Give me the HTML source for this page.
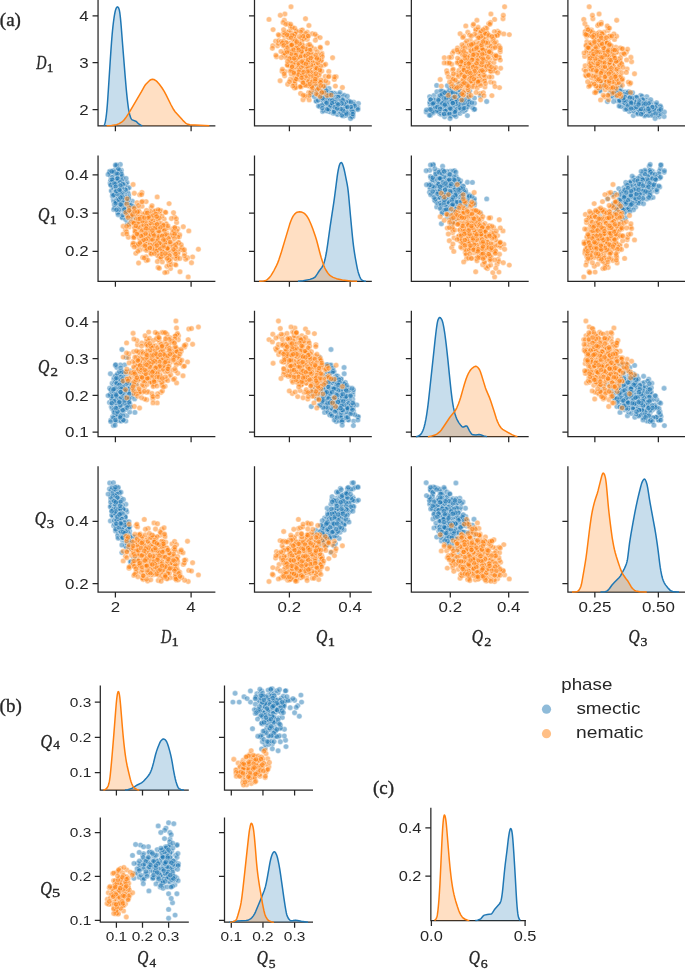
<!DOCTYPE html>
<html><head><meta charset="utf-8"><title>pairplot</title>
<style>html,body{margin:0;padding:0;background:#fff;width:685px;height:969px;overflow:hidden}svg{display:block;will-change:transform}</style>
</head><body>
<svg width="685" height="969" viewBox="0 0 685 969">
<style>
text{font-family:"Liberation Sans",sans-serif;fill:#262626}
.sp{fill:none;stroke:#262626;stroke-width:1.25;stroke-linecap:square}
.tk{fill:none;stroke:#262626;stroke-width:1.25}
.m{font-family:"Liberation Serif",serif;stroke:#262626;stroke-width:.35}
.i{font-style:italic}
.fb{fill:#1f77b4;fill-opacity:.25;stroke:none}
.fo{fill:#ff7f0e;fill-opacity:.25;stroke:none}
.lb{fill:none;stroke:#1f77b4;stroke-width:1.5;stroke-linejoin:round}
.lo{fill:none;stroke:#ff7f0e;stroke-width:1.5;stroke-linejoin:round}
.mb{fill:none;stroke:none;marker:url(#kb)}
.mo{fill:none;stroke:none;marker:url(#ko)}
</style>
<defs><marker id="kb" markerUnits="userSpaceOnUse" markerWidth="10" markerHeight="10" refX="5" refY="5" overflow="visible"><circle cx="5" cy="5" r="2.72" fill="#1f77b4" fill-opacity="0.5" stroke="#fff" stroke-opacity="0.5" stroke-width="0.72"/></marker>
<marker id="ko" markerUnits="userSpaceOnUse" markerWidth="10" markerHeight="10" refX="5" refY="5" overflow="visible"><circle cx="5" cy="5" r="2.72" fill="#ff7f0e" fill-opacity="0.5" stroke="#fff" stroke-opacity="0.5" stroke-width="0.72"/></marker></defs>
<rect width="685" height="969" fill="#fff"/>
<path d="M337.2 104.3 315 83.9 332.5 100.2 342.5 107.8 347.6 100.4 329 88.5 343.7 99.7 345.2 106.7 333.5 100.5 336.9 108.1 344.6 108 347.5 110.8 326.3 103.2 333.8 107.3 324.1 100.1 342.6 106.4 334 106 337.2 95.4 321.3 97.7 330.8 100.4 328.3 94.5 342.3 101.3 335.6 109.7 329.2 106.8 339.1 94.2 338.1 106.6 328.4 97.1 337.2 107.3 325.6 90 330.6 100.5 345.9 105.5 341.4 103.3 331.8 100.4 340.4 107.3 345.7 107.3 343 107.2 336.3 101.2 343.2 108.1 330.8 95.1 324.5 93.7 328.5 99.1 347.1 106.3 332.4 100.4 343.2 103.7 339.2 108.4 340.6 106.7 325.1 101.5 347.1 108.2 325.4 98.8 329.7 109.5 318.8 94.5 344.2 115.6 347.5 111.4 342.9 96.7 344 104.6 340.1 98.2 336 100.2 338.1 98.7 326.9 101.3 336.8 103.5 335.8 106 335.1 106.3 352.9 115.3 342.5 111.8 333.7 108.6 332 102.3 341.4 102.6 333.3 110.7 344.6 101.9 339.5 100 336.1 112.5 344.1 105.3 326.1 103.7 339.6 105.4 337.3 111.3 326.7 104.6 338.1 101.1 331.7 97.8 336.6 100 323.5 98.1 338.4 103.9 323.3 100.9 341.8 101.6 336.8 113.4 329.4 107 336.3 100.2 352.7 111.6 336.5 104.7 340.4 107.7 330.7 111.9 335.3 93.5 342 108.3 330.9 105.5 348.5 108 348.1 106.9 337.5 114.6 334.3 100.6 324.6 85.4 346 110.2 337.1 107.8 341.4 101.5 338.9 104.1 351.8 113.5 344 103 331.5 101 326.5 93.9 346.6 103.1 332.7 101.6 335.3 100.8 343.3 111.5 318.1 92.8 345.6 107.3 350.1 108.9 353 109.2 333.7 96.6 345.8 108.9 327.8 91.8 341.4 109.8 324.8 95.9 339.8 105.9 346.7 104.6 334.1 96.8 325.9 98.1 322.4 94.3 345 109.9 332 93.5 335.3 103 339.6 99.2 341.4 103.3 343.3 99.9 342 109.4 342.9 101.8 347.3 108.1 345.4 106.6 339.8 110.2 327.9 97.5 341.6 105 335.1 102.3 353.5 106 330.3 97.6 319.9 106.6 346.2 104 325.1 98.3 328.3 107.4 337.8 102.6 319.9 95.9 336 94.7 323.7 92 341.9 103.6 327.6 106.9 326.4 101.2 331.8 106.5 325.2 100.8 329.3 102.6 332.1 103.1 341.7 103.5 341.6 114.6 338 107.5 336.7 103.5 344 109.1 341.2 111.2 352.8 116.8 356.8 108.9 342.5 106.6 336.3 106.6 339.5 103.9 325 93.7 329.3 95.4 336.6 111.8 319.4 91.2 332.1 109.9 342.9 108.9 332.9 105.2 327.4 93.6 333.5 93.2 316.8 101.2 343.6 98.6 343.8 99.5 335.8 101.4 341 98.6 312.6 87.4 335.7 101.9 329.9 102.7 332.1 101.3 333.1 107.9 344.1 108.3 341.6 113 336.8 105.1 353.7 102.2 328.7 104.8 342.2 96.6 336.7 97.5 336.2 105.9 335.8 111 346.6 109.7 337.8 107.4 353.4 108.2 346.2 108.8 339.1 106.9 346.6 109.5 344.9 100.8 338.1 101.4 322.7 92.4 341.7 104.2 329.4 98.8 348.7 115.2 326.1 108.2 336.1 108.4 331.5 96.2 343.1 115.9 320.7 105.6 314.9 91 342 112 333.1 96.8 331 103.3 340 104.3 322.6 111.6 327.8 104.9 325.6 100.9 340.6 107 331 101.5 330.2 103.6 345.3 111.1 347.1 112.5 329.3 98.9 318.9 95.1 336.6 109.8 345.1 106.9 343.7 108.6 331.2 110.1 333.4 110.9 330.7 105.9 316 84 333.2 95.1 342.3 102.2 340.1 111.4 335.4 108.2 337.9 101.6 347.3 113.3 335.1 108.2 325.6 104.7 335.6 107.5 353.1 104.6 347.1 107.2 328 94 344.6 104.9 328.5 106.4 341 105.5 341.4 110.9 339.1 107.9 338.2 105.6 349.5 108.1 346.5 109 344.1 107.6 344.6 104 329.2 107.5 337.8 106.9 334.7 100.2 346.1 110.5 327.8 97.8 319.1 89 318.5 106 342.4 103.5 338.5 102.2 329.5 96.3 335.5 108 336.6 103.1 338.6 104.7 320.2 89.7 358.4 103.5 335.7 107.5 324.3 101.6 323.4 110.6 333.7 100.6 335.3 98.5 333.6 102.8 337.9 99.9 333.6 98.6 340 96.6 329.9 95.9 349.2 103.1 331.8 105.3 324.6 103.6 337.8 109.4 332.1 100.5 317.1 84.8 346.6 111 335 110.4 352.4 102.9 327.1 101.5 339.2 111.2 327.7 104.3 329 111.4 325.6 93.3 340.6 109.7 325.9 102 357.9 107.8 317.8 93.3 317.3 90.4 327 99.1 333.6 99.1 327.2 104.4 326.7 102 325.7 105.3 334.9 105.2 333.3 113.2 353.8 104.4 338.8 110.2 339.3 112.4 344 109.6 346.3 104.9 331.4 105.8 326.6 98.6 354.9 105.9 344.2 114 334.5 112.7 316 101.1 336.6 107.7 316.8 85.7 343.1 108.1 350.5 106.3 344.1 95.1 325.3 101.4 328.3 100.7 349.1 110.3 345.5 106.4 339 108.7 351.1 109 347.8 102.7 326.5 108.6 342.2 102.2 326.4 110.7 349 101.2 332.1 93.8 336.2 101.3 339.7 107.5 335.9 99.1 311.3 94.8 321.1 93.4 326.9 98.4 350.7 101.9 333.5 97.7 339.1 101.2 330.2 108.8 346.6 108.1 336.6 110.2 328.5 100.1 342.8 101.7 328.3 100.7 331.4 101.9 343.1 100 334.6 105.3 314.5 96.7 328.1 107.1 330.4 107.3 345.9 106 336.2 102.7 330.8 99.6 334.7 103.3 325.8 99.8 340.7 109.4 343.7 107.7 320.9 82.7 352.1 116.5 332.6 109.1 322.2 100 323.2 94.1 346.9 107.3 338.4 105.9 331.2 93.1 329 108 341 104.9 325.1 88.5 331.8 97.5 336.6 103.2 348.3 113.7 337.4 106 340 92.5 340.6 99.8 332.6 101.9 345.8 115.3 324.9 94.9 336.1 108.8 326.2 92.8 338.4 102.3 322.5 104.8 330.3 101.5 347.4 106.7 340.5 106 340.9 103.4 329.1 94.9 330.8 100.1 329.9 106.9 347.3 96.2 338.9 97.7 341.3 99.5 341.3 97.5 346.3 112.1 336 100.1 337.9 104.2 329.7 107.3 327.6 102.1 341.6 104.3 323.9 98.2 326.1 90.8 342.8 99.4 353.4 112 337.7 107.1 342 101 344.4 114 327.7 108.6 345.8 101.9 336.3 109.4 311.2 92.5 323.2 95.4 330.5 101.5 319.2 86.3 337.4 106.6 332.2 106.7 341.8 103.2 352.3 111.5 336.7 97.2 334.4 97.7 334.5 101.1 326.7 102.7 328.4 101.5 320 94.4 328.8 109.4 341.3 110.7 338.9 103.4 336.6 96.9 341.5 104.5 345.3 106.9 334.5 101.3 329 109.3 323.4 99 318.2 100.3 337.2 109.2 340.8 112.3 335.4 108 350.9 107.1 330.9 106.9 341 109.2 342.3 99.6 334.3 99.7 334.3 110.8 333.1 104.5 337 107.9 340.7 101.9 336.1 105.8 333.9 112 331.9 101.1 341.9 115.3 342.2 109.9 328.6 104.4 347.2 107 344.2 103.7 333.5 102.3 333.1 102.8 322.5 92.5 339.1 103.4 331.4 105.8 332.1 103.1 338.4 97.3 338.1 96.9 346.3 113.6 342.8 109.1 350.5 118.5 322.3 108.1 336.5 99.1 339.5 101.3 334.5 102.1 357.9 109.5 335.5 100.1 322.1 92.6 320.7 94.6 336 101.4 327.6 98.3 326 101.8 342.7 100.4 338.4 104.4 320.7 97.7 335.1 101.8 333 103.9 341.5 103.4 329.9 100.7 343.2 110.8 334 101.9 336.9 103.7 327.4 109.2 330.1 105.4 332.2 100.3 332.1 103.2 352.8 114.1 334.8 107.1 340.6 108.9 326.6 103 337.2 108.5 322.5 98.2 338.1 104.5" class="mb"/>
<path d="M296.6 72.5 301 65.6 304.1 70.3 308.4 80.9 295.6 62.6 311.3 87.4 306.7 36.3 308.9 25.5 311.3 64.7 307.2 32.3 288.4 43.2 335.4 86.1 308.7 82.4 302.3 60.2 307.2 39.4 308.3 69.6 301.6 75.1 309.1 68.6 306.2 63.9 275.6 41.2 312.7 64.3 321.6 59.8 293.9 60 316.7 36.2 306 76.3 300.4 80.1 303 72.9 296.6 31.3 293.6 62.2 314.7 73.6 294.5 77.4 321.9 53.3 315.9 82.1 292.8 48.4 293.1 58.2 298.2 52.4 276.5 56.7 291.9 57.7 318.4 88 315.5 63.4 283.6 46 292.6 68.2 324 65.1 286.6 53.9 328.8 71.4 301.3 61.5 301.5 49.3 308.4 85.3 308.2 51.3 301.9 62.7 288.5 45.9 301 53.3 300.9 30.4 283.2 33.4 292.7 52.7 317.3 63.9 300.2 71.6 287.1 32.3 302.7 85.1 305.8 52.5 318.4 69.1 320.7 60.8 285 71.5 300.3 64.8 303 34.4 301.1 41.7 314.4 57 295.2 70.7 287.9 64.2 304.2 58.2 309.5 80.5 336.1 76.8 292.9 40.7 313.5 67.3 290.3 51.2 302.4 29.9 288 65.7 314.9 49 269 19.4 302.2 61.4 279.1 35.6 311.2 69.9 293.4 42 315.2 70.5 311.1 61.8 308.7 92.5 289.2 59 292.1 58 300.4 58.1 319.8 61 304.3 56.2 294.1 43.9 307.1 53.2 304.5 64.5 304.8 67.3 300.8 59.1 298.5 68.9 303.9 46 292.7 44.3 315.4 40.2 293.9 79.4 307.6 73.2 312.6 59.1 287.7 84.3 292.7 52.3 307.6 70.9 288.6 56.3 285.1 36.4 277.5 45.8 285.7 42.1 321.6 54.5 278.4 43.4 304.7 52.3 296.9 49.4 309.3 58.7 293.5 72.6 287.2 54.2 287.7 23.8 305.5 68.7 314.2 63.6 309.8 56.4 311.2 73.7 308.3 36 309 76 302.1 52 298.2 74.2 310.2 74.5 301.9 43.6 298.2 46.3 286.1 45.5 323 81 311.6 67.9 298.6 57.3 312.9 57 298.1 60.8 289.6 37.9 308.7 52.4 309.4 68.7 306.7 75.6 297.6 52.7 305.3 66.3 307.5 61.7 297.7 78.8 319.3 74.8 278.7 40.7 291.4 61.3 322.9 86.1 290 56.7 318.5 63 293.7 40.2 309.4 68.3 318.7 75.1 294.3 74.8 301.6 62.7 294.6 83.4 300.6 93.4 291.6 56.7 310.9 62.2 297.4 59.5 313.6 74.2 317.6 63.9 300 86.8 311.4 87 301.8 59.7 287 32.8 318.9 70.8 319.1 55.1 313 84.6 289.9 70.9 273.1 29.6 294.8 58.2 288.8 31.6 291.2 70.6 296.6 38.9 310.5 47.3 303.9 72 303.3 70.5 309 66.7 317 80.7 317.7 94.6 291.2 74 284.9 14 309.2 62.1 332.6 57.7 296 60.5 304.4 79.7 291.9 46.1 284.3 20.3 292.3 64.2 327.9 82.7 296.4 61.1 312.3 33.7 320.7 90.6 296.8 69.6 301.2 77.1 295.3 86.1 298.4 73.8 305.3 76.9 303.5 79.8 319.2 68.6 302.7 64.9 272.8 45.7 280.1 80.8 292.9 82.9 314.7 58.7 305.3 83.4 301 51.7 305 69.6 320.1 96.5 306.3 96.9 311.9 81.1 293 69.8 289.4 51.6 294.9 39.6 315.8 62.9 317.1 81 308.3 79.7 310.5 92.6 294.8 84 301 62 281.1 41.6 289.7 65.8 294.3 35.3 307.8 73.3 286 51.2 283.7 35.1 291.1 61.5 308.1 85.7 301.5 70.4 301.5 59.5 308.3 68.7 316.2 65 312.2 61.1 281.8 43.9 301.7 40.2 304.4 84.6 311.7 67.1 307 48.9 294.1 64.2 298.9 73.3 327 95.4 316.4 69.2 314.1 76 313.1 89.6 290.8 54.1 297.7 62.8 319.6 68.3 297.4 58.1 310.9 72.1 302.2 53.8 310.4 61.6 299.8 43.5 294.6 63.8 307 77.2 295.2 79.3 300.2 69.6 317 89.8 295.8 52.2 297.4 53.9 291.5 55.6 299.2 73.4 301.6 38 290.5 57.9 312.4 56.2 304.1 66.3 293.8 52.1 310.4 72.1 293.8 51.8 284.6 55.1 284.6 75.7 290.9 31.7 301.1 59.9 295.3 67 320.4 82.6 294 49.7 291 63.1 306.3 77.7 306.5 74.4 285.9 57.4 309.2 99.9 298.5 66.1 300.7 32 306.3 59.6 301.1 86.9 282.1 71.2 297.1 77 319.5 83.2 311.2 81.7 297 45.3 294.5 88.1 295.9 87.6 298.9 69.4 311.3 46.7 304.6 73 301.7 48.8 301.8 72.7 309.7 77 293.3 63.6 306.8 48 283.7 54.2 289.8 43.7 284.4 33.1 283.5 41 285.5 33.6 308 72.9 297.8 50.6 301.1 46.6 282.4 69.2 301.9 61.2 294.8 81 305.5 62.5 304.7 74.6 286 50 301.6 60.4 272.4 48.3 323.9 92.5 296.3 79 315.6 76.5 291.3 45 299.3 61.7 308.5 81.4 321.3 60.6 314 62.9 322.3 56.6 325.2 76.5 317.8 83.9 319.7 72.5 318.9 57.7 303.4 79.4 320.9 65.9 296.8 72.7 298.5 67.4 302.7 75.2 290.9 28 315.1 57.2 295.4 33.9 306 76 301.7 58.1 306.7 52.2 302.8 64.4 309.9 68.1 300.4 49.2 319.5 81.9 313.9 65.8 305.5 18.7 307.4 72.5 307 52 303 99.8 307.1 66.5 309.2 95.6 302.4 45.5 296.3 31.3 302.1 51 311.6 61.4 281.3 57.5 294.9 33.9 294.2 50.1 312.2 81.3 284.1 73.8 317.5 66.6 293.9 53.4 288.4 37.3 290.3 36.4 302.7 82.1 291 6.8 304.8 95.7 314.7 83.9 303.4 36.1 304.5 63 289.3 51.3 320.5 48 300.8 62.6 283.1 22.5 293.9 36.1 290.6 71.1 310.1 74.4 306.6 62.3 311 52 295.2 44.2 290.3 25.9 296.6 42.8 303.1 60.6 302.3 54.5 320.2 47.2 334.3 79.4 294.8 58.2 284.5 53.1 302.7 69.7 289.3 35.4 316.8 79.5 280.3 15.3 325.6 64.2 299.4 70 312.3 87.9 310.9 64.9 302.9 61.5 313.3 78.8 311.7 53.5 303.8 39.1 292.2 27.3 310.5 53.5 297.1 57.5 290.4 79.3 307.8 63.7 308.9 59 292.1 66.3 307.5 50.8 320.9 80 312.3 81.9 307.5 61.5 315.1 34.2 312.8 72.4 318.6 88.5 286.2 42.7 299.2 71.6 308.1 44.9 305.6 54.8 298.5 74.6 313.3 76.2 305.7 33.4 305.6 37.4 291 60.7 315.7 67.9 310.4 50.1 306.2 69.1 305.6 67.2 320.1 37.6 298.9 65.1 329 76 300.3 86.6 292.1 57.8 334.4 77 296.1 49.8 287.3 35.1 317 57.4 311.8 86.5 304.3 65.7 298.9 48.5 307.1 56.4 306 49 299.9 57.1 302.1 75.3 320.7 82.2 292 44.7 301.5 51 294.7 28.1 298.1 57.4 282.5 42.8 301.3 67.4 295.8 48.1 305 60.6 298.7 63.4 308 57.3 325.8 80.9 287.2 65.1 309.8 49.9 278.4 34.6 316.5 76.7 307.6 67 289.7 58.5 291.7 54 292.3 35 317.9 62.7 309.5 71.1 295.6 52.9 301.5 77.9 327.3 43 315.8 69.5 317.2 51.8 311.2 57.3 293.4 71.9 302.8 65.6 315.1 81.2 307.8 59.9 331.1 95.1 303.9 63.4 285.8 24.3 316.8 68.3 321.8 71 323.7 86.3 307.5 71.4 292.8 86.1 296.5 47.8 319.9 70.1 287.5 61.4 283.6 29.6 315.7 55 316.1 93.8 303 36.2 301.1 56 287.2 52 295.4 59.9 283.8 45.3 310 60.6 307.9 62.4 287.6 47.5 303.5 72 299.6 36.5 321.8 92.5 295.8 55.2 290.6 24.1 319 59.7 291.6 45.2 308.2 36 309.5 84.1 298.3 47.8 303.1 95.3 294 58.3 303.3 62.8 320.9 85.6 299.6 43.9 305.2 55.5 328.6 76.8 301.6 48.8 275.9 55.2 342.4 87.5 291.6 70.5 302.8 47.6 316.9 58.5 301.8 61.6 292 66.9 296.7 41.6 290.9 37.8 305.6 55.9 308.2 57.4 308 60.1 293.2 49.7 308.4 53.9 305.4 85.4 315.2 79.2 315.9 73.7 281 51.4 289.4 81.7 305.9 63.8 310.7 58.1 301.6 51.7 309.6 44.4 303.1 82.9 293.9 73.1 298.7 50" class="mo"/>
<path d="M454.4 104.3 461.1 83.9 447.4 100.2 448.4 107.8 452.5 100.4 450.5 88.5 457.3 99.7 455.4 106.7 451.1 100.5 458.7 108.1 452.1 108 430.9 110.8 447.5 103.2 457.7 107.3 447.3 100.1 447.2 106.4 440 106 434 95.4 454.5 97.7 453.7 100.4 442.3 94.5 436.6 101.3 448.7 109.7 466.3 106.8 448.6 94.2 442.9 106.6 459.2 97.1 442.3 107.3 449.2 90 450.7 100.5 446.2 105.5 455 103.3 454.1 100.4 430.4 107.3 438.8 107.3 446.5 107.2 437.9 101.2 448 108.1 446 95.1 449 93.7 442.9 99.1 451.4 106.3 459.1 100.4 457.7 103.7 451.7 108.4 441.5 106.7 454.3 101.5 446.9 108.2 450.9 98.8 474 109.5 451.7 94.5 467.4 115.6 437.2 111.4 429.7 96.7 450.6 104.6 457.1 98.2 451.3 100.2 441.3 98.7 438.8 101.3 456.5 103.5 446.1 106 465.4 106.3 450.4 115.3 444.3 111.8 447.8 108.6 456.8 102.3 441.2 102.6 454.4 110.7 448.4 101.9 444.2 100 457.3 112.5 452 105.3 451.4 103.7 446.2 105.4 464.1 111.3 450.5 104.6 441.4 101.1 449.9 97.8 449.1 100 441 98.1 446.3 103.9 457.2 100.9 448 101.6 459.8 113.4 435.5 107 444.4 100.2 447.1 111.6 444 104.7 443.5 107.7 451.6 111.9 463.1 93.5 442.8 108.3 455.8 105.5 449.4 108 441 106.9 441.1 114.6 453 100.6 436.7 85.4 455.5 110.2 448.1 107.8 448.9 101.5 436.4 104.1 439.5 113.5 439.7 103 442.8 101 465.6 93.9 443.6 103.1 469.4 101.6 447.3 100.8 451.6 111.5 468.5 92.8 443.6 107.3 438.5 108.9 452.9 109.2 449.1 96.6 439.1 108.9 436.9 91.8 445.1 109.8 445.7 95.9 448.6 105.9 440.1 104.6 469.1 96.8 474.4 98.1 460.6 94.3 444.2 109.9 450.1 93.5 442.1 103 443.5 99.2 448.8 103.3 445.7 99.9 450.1 109.4 439.4 101.8 432.6 108.1 432.8 106.6 441 110.2 445.6 97.5 432.9 105 458.6 102.3 438 106 440.9 97.6 461.9 106.6 439.9 104 455.1 98.3 458.2 107.4 440.9 102.6 480.4 95.9 444.1 94.7 444.2 92 435.9 103.6 456.7 106.9 452.4 101.2 439.9 106.5 466.4 100.8 465.9 102.6 439.3 103.1 449.2 103.5 449.5 114.6 440.3 107.5 450.6 103.5 455.6 109.1 463 111.2 444.6 116.8 442.6 108.9 443.6 106.6 461.8 106.6 430 103.9 460.2 93.7 450.8 95.4 440.6 111.8 442.4 91.2 438.9 109.9 459.8 108.9 448 105.2 461.5 93.6 460.1 93.2 454.5 101.2 447.8 98.6 439.5 99.5 446.1 101.4 458.5 98.6 455.3 87.4 449.9 101.9 434.6 102.7 439.9 101.3 454.7 107.9 440.4 108.3 433.3 113 461.1 105.1 429.8 102.2 456.4 104.8 446.6 96.6 448.5 97.5 445.4 105.9 445.9 111 448.5 109.7 465.4 107.4 454.6 108.2 444.1 108.8 449.6 106.9 456.6 109.5 450.7 100.8 441.5 101.4 451.9 92.4 434.1 104.2 443.5 98.8 430.5 115.2 449.3 108.2 439.7 108.4 446.1 96.2 451.2 115.9 456.4 105.6 469.7 91 445.5 112 443 96.8 474.4 103.3 458.7 104.3 449.8 111.6 465.7 104.9 452.3 100.9 439.5 107 486.7 101.5 449.4 103.6 460.6 111.1 439.9 112.5 451 98.9 448.2 95.1 465.7 109.8 441.1 106.9 442.4 108.6 444.7 110.1 457.1 110.9 456 105.9 459.3 84 442.3 95.1 444.1 102.2 437.9 111.4 438.1 108.2 440.6 101.6 440.8 113.3 448.5 108.2 446.4 104.7 457.4 107.5 440.3 104.6 442.7 107.2 446.6 94 435.4 104.9 443.3 106.4 442 105.5 434.9 110.9 451.3 107.9 446.9 105.6 446.3 108.1 441.5 109 472.4 107.6 449 104 442.6 107.5 451.5 106.9 451.6 100.2 432.4 110.5 468.5 97.8 454.8 89 463.3 106 438.9 103.5 456.5 102.2 455.2 96.3 446.9 108 443.8 103.1 454.8 104.7 459.4 89.7 433.2 103.5 443.9 107.5 449.6 101.6 448.4 110.6 453.6 100.6 446.3 98.5 449.6 102.8 435.7 99.9 441.3 98.6 457.3 96.6 459.6 95.9 436.1 103.1 448.1 105.3 444.1 103.6 456 109.4 468.7 100.5 467 84.8 441.1 111 452.9 110.4 435.7 102.9 468.8 101.5 451.4 111.2 455.8 104.3 446.5 111.4 455.3 93.3 461.6 109.7 444.2 102 433.3 107.8 463.5 93.3 458.6 90.4 464.9 99.1 446.4 99.1 457.2 104.4 459.1 102 447.8 105.3 456 105.2 446.5 113.2 442.8 104.4 439.5 110.2 447 112.4 444.8 109.6 437.1 104.9 453.3 105.8 458.4 98.6 434.8 105.9 452.4 114 449.3 112.7 451.5 101.1 451.4 107.7 447.4 85.7 455 108.1 449.3 106.3 459.4 95.1 447.2 101.4 462.3 100.7 456.1 110.3 448.2 106.4 448.1 108.7 439.8 109 432.9 102.7 458.4 108.6 447.4 102.2 446.7 110.7 454.2 101.2 445.8 93.8 439.1 101.3 456.2 107.5 457.4 99.1 441.4 94.8 455.8 93.4 450.4 98.4 435.6 101.9 444.8 97.7 458.3 101.2 462.5 108.8 458.3 108.1 438.1 110.2 458.3 100.1 443 101.7 446.2 100.7 449.2 101.9 446.6 100 458.3 105.3 452.4 96.7 461.1 107.1 449.4 107.3 449.9 106 444.8 102.7 450.6 99.6 432.9 103.3 451.8 99.8 434.4 109.4 438 107.7 465.3 82.7 455.9 116.5 455.4 109.1 445.5 100 455.4 94.1 440.6 107.3 460.7 105.9 445.5 93.1 455.5 108 445.9 104.9 452 88.5 454.6 97.5 464.3 103.2 444 113.7 442.6 106 444 92.5 433.8 99.8 460.3 101.9 454.8 115.3 446.4 94.9 456.3 108.8 453.2 92.8 457.7 102.3 460.2 104.8 452.2 101.5 439.8 106.7 453.1 106 453.9 103.4 448.8 94.9 445.2 100.1 467.4 106.9 439.1 96.2 439.9 97.7 450.6 99.5 450.3 97.5 453.9 112.1 458.1 100.1 440 104.2 451.1 107.3 440.2 102.1 441.1 104.3 460.4 98.2 440.9 90.8 438.4 99.4 426.2 112 459.6 107.1 443.3 101 447.3 114 449.3 108.6 447.4 101.9 429.5 109.4 451.5 92.5 440.4 95.4 453.7 101.5 455 86.3 463.5 106.6 447.3 106.7 449.3 103.2 438.9 111.5 448.6 97.2 461.1 97.7 454.2 101.1 465 102.7 456.8 101.5 442.1 94.4 461.1 109.4 436.6 110.7 445 103.4 458.8 96.9 438.5 104.5 448.8 106.9 462.6 101.3 444.1 109.3 449.2 99 461.6 100.3 446.8 109.2 432.5 112.3 449.2 108 442.2 107.1 435.4 106.9 463.2 109.2 430.5 99.6 430.7 99.7 455.3 110.8 469.1 104.5 459.9 107.9 445.8 101.9 452.9 105.8 455 112 443.5 101.1 429.4 115.3 426.5 109.9 447.7 104.4 440.3 107 442.8 103.7 461.8 102.3 472 102.8 447.7 92.5 462.7 103.4 445.6 105.8 434 103.1 455.4 97.3 454.2 96.9 449.4 113.6 451.2 109.1 450 118.5 464 108.1 455.4 99.1 460.6 101.3 448.4 102.1 430.5 109.5 456.6 100.1 444.7 92.6 460.5 94.6 450.8 101.4 443.9 98.3 451.9 101.8 438.5 100.4 458.5 104.4 453.5 97.7 444.3 101.8 455.8 103.9 442.2 103.4 451.9 100.7 445.5 110.8 455.4 101.9 432.7 103.7 474.6 109.2 444.4 105.4 463.5 100.3 452.8 103.2 444.1 114.1 437.3 107.1 440.1 108.9 452.8 103 450.2 108.5 446.2 98.2 445 104.5" class="mb"/>
<path d="M461.5 72.5 475.7 65.6 452.6 70.3 475 80.9 485.6 62.6 454 87.4 484.7 36.3 473.2 25.5 469.4 64.7 467.8 32.3 465.3 43.2 441.3 86.1 475.2 82.4 475.5 60.2 486 39.4 472.5 69.6 463.7 75.1 481.4 68.6 460.2 63.9 487.4 41.2 469.5 64.3 474 59.8 480.2 60 463.6 36.2 452.7 76.3 484.5 80.1 478.4 72.9 497.6 31.3 474.6 62.2 456.5 73.6 485.4 77.4 472.6 53.3 490.5 82.1 488.8 48.4 480.9 58.2 470.3 52.4 486 56.7 475.5 57.7 461.6 88 464.8 63.4 476.5 46 500.6 68.2 462.6 65.1 466.2 53.9 465.8 71.4 459.2 61.5 479.9 49.3 461.7 85.3 477.4 51.3 483.1 62.7 495.9 45.9 471.9 53.3 476.1 30.4 498.2 33.4 470.3 52.7 470.7 63.9 468.4 71.6 486.4 32.3 476.1 85.1 471.8 52.5 453.2 69.1 472.4 60.8 491 71.5 482.3 64.8 483.8 34.4 476.4 41.7 499.3 57 493 70.7 473.9 64.2 479.5 58.2 473.8 80.5 474.2 76.8 484.1 40.7 462.8 67.3 480.3 51.2 478.1 29.9 488.2 65.7 481.7 49 494.6 19.4 467.1 61.4 497 35.6 478.2 69.9 496.1 42 478 70.5 470.1 61.8 468.8 92.5 475 59 480.5 58 494.6 58.1 472.4 61 480.3 56.2 482.3 43.9 452.5 53.2 480.2 64.5 470.9 67.3 485.8 59.1 478.9 68.9 473.7 46 477.5 44.3 470.2 40.2 481.5 79.4 479.5 73.2 469.6 59.1 477.8 84.3 486.4 52.3 465.5 70.9 482.6 56.3 483.4 36.4 488.2 45.8 480.3 42.1 471.9 54.5 490.7 43.4 464.9 52.3 471.2 49.4 476.5 58.7 466.1 72.6 466.3 54.2 488.7 23.8 469.4 68.7 449.5 63.6 477.3 56.4 466.1 73.7 485.1 36 465.2 76 484.4 52 473.4 74.2 465.1 74.5 484 43.6 475 46.3 483.6 45.5 462 81 464.2 67.9 477.8 57.3 478.3 57 470 60.8 480.7 37.9 487.4 52.4 469.1 68.7 468.2 75.6 460.2 52.7 468.2 66.3 477.4 61.7 480 78.8 458 74.8 482.7 40.7 466.1 61.3 451.4 86.1 469.5 56.7 447.3 63 482.7 40.2 478.9 68.3 467.7 75.1 465.9 74.8 462.8 62.7 480.7 83.4 480.1 93.4 474.5 56.7 472.9 62.2 481.2 59.5 472.7 74.2 467.8 63.9 454 86.8 484.9 87 479 59.7 499.5 32.8 446.7 70.8 480.7 55.1 475.7 84.6 495 70.9 475.7 29.6 471.4 58.2 494.4 31.6 490 70.6 485.4 38.9 478.5 47.3 465.5 72 465.4 70.5 468 66.7 454.6 80.7 463.3 94.6 469.2 74 490.9 14 471.3 62.1 444.3 57.7 482.1 60.5 476.7 79.7 490.9 46.1 476.9 20.3 451.7 64.2 465.1 82.7 467.4 61.1 460.1 33.7 464.6 90.6 486.2 69.6 469 77.1 471.7 86.1 466.6 73.8 491.8 76.9 477 79.8 470.2 68.6 464.7 64.9 498.9 45.7 484.5 80.8 493.9 82.9 471 58.7 485.5 83.4 478 51.7 467.2 69.6 468.7 96.5 454.8 96.9 453.1 81.1 485.4 69.8 483.3 51.6 483.6 39.6 489 62.9 470.9 81 452.4 79.7 483.3 92.6 472 84 458.2 62 484.4 41.6 475.4 65.8 497.5 35.3 447.3 73.3 482 51.2 483.1 35.1 477.5 61.5 465.6 85.7 458.9 70.4 489.8 59.5 493.5 68.7 460.6 65 471.7 61.1 477 43.9 492.5 40.2 472.8 84.6 470.6 67.1 479.1 48.9 485.5 64.2 478.7 73.3 471 95.4 464.2 69.2 479.1 76 467.9 89.6 479.9 54.1 449.3 62.8 467.1 68.3 469.3 58.1 464.7 72.1 484.2 53.8 468.2 61.6 478.9 43.5 463.8 63.8 465.6 77.2 452.9 79.3 468.8 69.6 468.1 89.8 480.9 52.2 487.2 53.9 473.1 55.6 471.8 73.4 483.4 38 473.3 57.9 479.5 56.2 470.2 66.3 471.7 52.1 466.1 72.1 500.2 51.8 482.4 55.1 484.7 75.7 480.3 31.7 481.4 59.9 468.6 67 458.1 82.6 484.4 49.7 489.9 63.1 465.7 77.7 470.6 74.4 479 57.4 461.7 99.9 465.4 66.1 486.3 32 459.8 59.6 473 86.9 490.8 71.2 475.3 77 473.2 83.2 471.3 81.7 469 45.3 477.1 88.1 499.5 87.6 473 69.4 463.1 46.7 476 73 462.1 48.8 497.6 72.7 489.4 77 488.2 63.6 469 48 471.6 54.2 482.3 43.7 480.4 33.1 466.6 41 487.4 33.6 466.1 72.9 484.1 50.6 470.7 46.6 489.8 69.2 469.6 61.2 474.6 81 478.1 62.5 467.7 74.6 481.1 50 472.6 60.4 492.8 48.3 463.5 92.5 464.5 79 458.6 76.5 476.5 45 459.3 61.7 470.7 81.4 463.6 60.6 444.2 62.9 467 56.6 470.3 76.5 451.5 83.9 461.5 72.5 469.6 57.7 477.3 79.4 478.4 65.9 474.7 72.7 495.6 67.4 483.6 75.2 485.3 28 451.5 57.2 485.3 33.9 468.5 76 472.8 58.1 477.6 52.2 474.8 64.4 470.7 68.1 474.8 49.2 462.6 81.9 465.3 65.8 503 18.7 465.7 72.5 475.6 52 480.6 99.8 483.9 66.5 491.9 95.6 479.7 45.5 481.3 31.3 490.3 51 459 61.4 498.9 57.5 503.8 33.9 477.5 50.1 478.2 81.3 468.6 73.8 461.2 66.6 484.8 53.4 480.5 37.3 491.5 36.4 469.6 82.1 504.6 6.8 483.9 95.7 466.4 83.9 495.1 36.1 469 63 453.8 51.3 457.5 48 493.9 62.6 490.5 22.5 488.5 36.1 478.1 71.1 468.6 74.4 470.9 62.3 458.2 52 481.5 44.2 465.8 25.9 487.7 42.8 461 60.6 492.2 54.5 478.7 47.2 463.2 79.4 474.1 58.2 478.5 53.1 481.2 69.7 476.7 35.4 440.2 79.5 503.3 15.3 460.3 64.2 474.8 70 467.9 87.9 469.9 64.9 467.2 61.5 473.7 78.8 472.7 53.5 493.3 39.1 478.1 27.3 475.1 53.5 480.9 57.5 469.3 79.3 479.1 63.7 476.6 59 486.4 66.3 471 50.8 455.5 80 449.6 81.9 462.5 61.5 474.6 34.2 475.4 72.4 455.9 88.5 485.9 42.7 467.4 71.6 469.3 44.9 476.8 54.8 461.7 74.6 472.4 76.2 485.2 33.4 462.8 37.4 477.6 60.7 464.2 67.9 479.5 50.1 474.1 69.1 475.4 67.2 479.5 37.6 473 65.1 464.4 76 495 86.6 470.6 57.8 448.4 77 500.2 49.8 469.7 35.1 466.3 57.4 468.9 86.5 474.9 65.7 482 48.5 469.8 56.4 474 49 472 57.1 473.6 75.3 477.8 82.2 462 44.7 486.5 51 486.9 28.1 473 57.4 494.7 42.8 468.1 67.4 481.9 48.1 485.5 60.6 476.5 63.4 488.2 57.3 471.4 80.9 481.7 65.1 473.8 49.9 509.3 34.6 464.6 76.7 473 67 495.5 58.5 473.8 54 488.8 35 457.2 62.7 480.5 71.1 490.9 52.9 470.6 77.9 473.5 43 463.7 69.5 460.3 51.8 467.4 57.3 483.3 71.9 489.3 65.6 479.3 81.2 472.4 59.9 463.3 95.1 465.9 63.4 489.9 24.3 476.2 68.3 474.5 71 458.8 86.3 469.3 71.4 460.7 86.1 500.2 47.8 463.9 70.1 483.1 61.4 483.2 29.6 473.2 55 461.9 93.8 481.1 36.2 494.5 56 488.9 52 483.7 59.9 471.3 45.3 468.4 60.6 482 62.4 495.2 47.5 467.2 72 491.9 36.5 476.1 92.5 462.6 55.2 473.5 24.1 471.9 59.7 481.6 45.2 471.4 36 462.7 84.1 464.9 47.8 448.3 95.3 464.9 58.3 469.6 62.8 467.5 85.6 473.2 43.9 464.6 55.5 471.8 76.8 476.2 48.8 495.8 55.2 457.3 87.5 482.3 70.5 476.7 47.6 482.8 58.5 461.1 61.6 491.5 66.9 483 41.6 478.3 37.8 496.3 55.9 449.3 57.4 500.3 60.1 482.9 49.7 482.3 53.9 480.5 85.4 474.1 79.2 453.4 73.7 463.7 51.4 478 81.7 468.7 63.8 457.6 58.1 489.5 51.7 471.4 44.4 464.3 82.9 470.4 73.1 457 50" class="mo"/>
<path d="M630.8 104.3 610.6 83.9 635.4 100.2 650 107.8 634.1 100.4 620.6 88.5 631 99.7 639.5 106.7 630.6 100.5 635.4 108.1 644.3 108 658.7 110.8 621.4 103.2 637.8 107.3 622.3 100.1 638.6 106.4 647.7 106 627.5 95.4 625.3 97.7 637.3 100.4 625.8 94.5 642.4 101.3 642.7 109.7 630.9 106.8 618.8 94.2 655.7 106.6 627.2 97.1 646.2 107.3 613.2 90 632.8 100.5 636.2 105.5 640.9 103.3 632.7 100.4 659.7 107.3 644.7 107.3 640.8 107.2 641.1 101.2 642.1 108.1 624.9 95.1 620.7 93.7 623.1 99.1 649.1 106.3 629.8 100.4 632.4 103.7 641.7 108.4 644.9 106.7 630.2 101.5 653.1 108.2 628.3 98.8 634.6 109.5 620.5 94.5 633.3 115.6 659.9 111.4 646.8 96.7 633.8 104.6 635.3 98.2 627.9 100.2 634.6 98.7 624.7 101.3 626.4 103.5 638.7 106 620.3 106.3 650.5 115.3 647.8 111.8 639.6 108.6 635.2 102.3 636.1 102.6 638.4 110.7 645.6 101.9 637.9 100 647.9 112.5 650.5 105.3 627.5 103.7 641.6 105.4 633.9 111.3 628.9 104.6 644.6 101.1 629.3 97.8 639.4 100 624.7 98.1 634.3 103.9 617.6 100.9 632.6 101.6 651.8 113.4 638.3 107 646 100.2 652.8 111.6 641 104.7 644.7 107.7 636 111.9 614.9 93.5 634.9 108.3 646.8 105.5 648.6 108 646.4 106.9 644.7 114.6 629.2 100.6 620 85.4 639.4 110.2 645.2 107.8 643.9 101.5 650.1 104.1 651.8 113.5 652 103 627 101 615.1 93.9 638.4 103.1 623.3 101.6 634.5 100.8 646.8 111.5 611.6 92.8 650 107.3 645.8 108.9 651.3 109.2 624.5 96.6 647 108.9 628.6 91.8 646.9 109.8 618.6 95.9 637.9 105.9 656.5 104.6 612.8 96.8 617.2 98.1 623.6 94.3 647 109.9 621.1 93.5 636.3 103 636.1 99.2 638.8 103.3 630.6 99.9 642.5 109.4 641.5 101.8 656 108.1 642.9 106.6 648.5 110.2 630.6 97.5 655.4 105 633.9 102.3 651.3 106 631.3 97.6 621.7 106.6 650.6 104 618.9 98.3 636.7 107.4 634.4 102.6 611.5 95.9 627.4 94.7 625 92 631.6 103.6 639.7 106.9 629.4 101.2 650.5 106.5 629 100.8 621.4 102.6 627.8 103.1 631.8 103.5 645.8 114.6 639.5 107.5 639.6 103.5 644.5 109.1 648.7 111.2 659.2 116.8 649.3 108.9 646.9 106.6 631.5 106.6 647.8 103.9 621.6 93.7 640.6 95.4 656.8 111.8 620.7 91.2 653 109.9 642.3 108.9 634.1 105.2 616.7 93.6 627.9 93.2 619.2 101.2 637.4 98.6 637.4 99.5 634.5 101.4 632.7 98.6 601.9 87.4 633.7 101.9 639 102.7 628.4 101.3 635.9 107.9 645.8 108.3 644.3 113 636.8 105.1 649.7 102.2 638.8 104.8 632.9 96.6 621.2 97.5 640.1 105.9 646.2 111 645.8 109.7 643.6 107.4 649.8 108.2 647.5 108.8 647.1 106.9 647.4 109.5 631.1 100.8 639.5 101.4 622.8 92.4 644.5 104.2 634.3 98.8 658.2 115.2 627 108.2 641.4 108.4 630.5 96.2 644.7 115.9 622.7 105.6 600 91 648.2 112 624.3 96.8 621.7 103.3 633 104.3 629.3 111.6 634.1 104.9 632.5 100.9 650.4 107 607.4 101.5 630.7 103.6 644.3 111.1 653.6 112.5 619.1 98.9 615.1 95.1 636.8 109.8 648.8 106.9 654.3 108.6 642.4 110.1 636.8 110.9 636.3 105.9 607.5 84 626.4 95.1 647.4 102.2 649.6 111.4 641.4 108.2 634.5 101.6 651 113.3 648.9 108.2 624.8 104.7 636.9 107.5 643.7 104.6 648.2 107.2 622.9 94 648 104.9 636.9 106.4 644.5 105.5 641.3 110.9 636.1 107.9 656.8 105.6 648.4 108.1 655.3 109 629.8 107.6 644.9 104 628.6 107.5 631.1 106.9 634 100.2 643.9 110.5 622.7 97.8 615 89 619.1 106 641.9 103.5 628.2 102.2 630.9 96.3 639.8 108 633.7 103.1 632.7 104.7 616.2 89.7 650.2 103.5 633 107.5 624.2 101.6 630.3 110.6 623.3 100.6 634.5 98.5 627 102.8 642.3 99.9 637 98.6 624 96.6 624.2 95.9 647.8 103.1 640.5 105.3 635.7 103.6 643.6 109.4 623.8 100.5 609.8 84.8 647.3 111 650.2 110.4 645.4 102.9 613.6 101.5 637.5 111.2 636.1 104.3 640.4 111.4 618.4 93.3 647.7 109.7 634.9 102 661 107.8 609.8 93.3 599.8 90.4 624.1 99.1 638 99.1 643.5 104.4 623.1 102 631.7 105.3 640.1 105.2 650.3 113.2 645 104.4 651.1 110.2 642.5 112.4 647.2 109.6 645.2 104.9 635.9 105.8 625 98.6 660.4 105.9 641.2 114 637.1 112.7 625.6 101.1 643.5 107.7 614.6 85.7 635.1 108.1 642.2 106.3 625.8 95.1 620.6 101.4 621.9 100.7 640.3 110.3 638.5 106.4 644.2 108.7 659 109 656.6 102.7 629.9 108.6 626.4 102.2 633.5 110.7 632.2 101.2 627.2 93.8 633.2 101.3 651.3 107.5 623.6 99.1 616.9 94.8 618.6 93.4 622 98.4 644.8 101.9 635.1 97.7 639.5 101.2 637 108.8 639.9 108.1 646.4 110.2 626.1 100.1 640.2 101.7 626 100.7 637.2 101.9 638.4 100 631.7 105.3 622.8 96.7 630.4 107.1 631.4 107.3 642.5 106 629.7 102.7 619.3 99.6 634.8 103.3 619.7 99.8 646.3 109.4 650.1 107.7 602.3 82.7 664.1 116.5 629.4 109.1 623.4 100 627.4 94.1 655.2 107.3 635.8 105.9 627.4 93.1 631.5 108 642.3 104.9 614.6 88.5 629.4 97.5 629.7 103.2 660.6 113.7 648 106 627.9 92.5 638.7 99.8 628.4 101.9 648.4 115.3 618.9 94.9 637.5 108.8 632.5 92.8 634.4 102.3 626.9 104.8 620.7 101.5 638.1 106.7 638.6 106 631.6 103.4 620.3 94.9 627.4 100.1 630.3 106.9 642 96.2 626.1 97.7 635.4 99.5 637 97.5 642.7 112.1 635.4 100.1 648.5 104.2 638.9 107.3 633 102.1 648.8 104.3 621.8 98.2 619.8 90.8 642 99.4 664.4 112 649.4 107.1 636.5 101 637.9 114 638.3 108.6 634.7 101.9 650.1 109.4 612.3 92.5 622.1 95.4 622.8 101.5 610.7 86.3 633.9 106.6 633.4 106.7 627.5 103.2 650.4 111.5 636.4 97.2 620.8 97.7 639.3 101.1 632.4 102.7 630.8 101.5 624.4 94.4 625.1 109.4 658.8 110.7 641.4 103.4 623.7 96.9 639 104.5 637.8 106.9 629.3 101.3 634.9 109.3 628.8 99 619.9 100.3 642.9 109.2 653.1 112.3 649.4 108 652.1 107.1 636.1 106.9 638.4 109.2 650.7 99.6 643 99.7 639.8 110.8 629.6 104.5 634.8 107.9 639.7 101.9 647.6 105.8 649.9 112 634.7 101.1 652.5 115.3 653.9 109.9 625.8 104.4 652.3 107 641.3 103.7 624.1 102.3 624.7 102.8 616.8 92.5 636.2 103.4 643 105.8 648.8 103.1 630.4 97.3 624.7 96.9 655.6 113.6 641 109.1 655.1 118.5 633.5 108.1 631.8 99.1 628 101.3 635.4 102.1 660.8 109.5 631.6 100.1 617.2 92.6 618.9 94.6 626.4 101.4 632.1 98.3 630.2 101.8 639.2 100.4 633.7 104.4 629.8 97.7 639.4 101.8 631.1 103.9 643.1 103.4 619.4 100.7 649.4 110.8 630.9 101.9 645.5 103.7 626.4 109.2 628 105.4 624.1 100.3 639 103.2 641.2 114.1 636.5 107.1 648.4 108.9 631.2 103 631 108.5 623.2 98.2 638.5 104.5" class="mb"/>
<path d="M605.7 72.5 601.3 65.6 597.4 70.3 622.1 80.9 597.3 62.6 600.5 87.4 608.9 36.3 597.7 25.5 609.7 64.7 599.3 32.3 592.9 43.2 608.7 86.1 613.1 82.4 609.5 60.2 614.5 39.4 615.5 69.6 610.4 75.1 590.3 68.6 596.6 63.9 602.9 41.2 621.6 64.3 602.6 59.8 619.1 60 616.6 36.2 595.1 76.3 594.2 80.1 599.9 72.9 586 31.3 601.6 62.2 616.5 73.6 620.1 77.4 599.5 53.3 595.3 82.1 610.8 48.4 593.6 58.2 605 52.4 608.2 56.7 599.7 57.7 612.7 88 610.5 63.4 611.2 46 599.6 68.2 610.6 65.1 600 53.9 602.5 71.4 616.7 61.5 604.5 49.3 622.3 85.3 613.6 51.3 589.3 62.7 611.2 45.9 612.6 53.3 608 30.4 589.2 33.4 610.7 52.7 598.2 63.9 615.9 71.6 604.1 32.3 610.1 85.1 616.5 52.5 617.1 69.1 596.4 60.8 616.1 71.5 607.9 64.8 593.4 34.4 600.9 41.7 611.8 57 611.6 70.7 590.7 64.2 597.5 58.2 595.2 80.5 610.6 76.8 602.7 40.7 598 67.3 594.8 51.2 591.5 29.9 598.4 65.7 604.7 49 583.8 19.4 598.9 61.4 597.7 35.6 599.3 69.9 608.3 42 616 70.5 606.5 61.8 630.5 92.5 617.6 59 614.4 58 600.6 58.1 604.3 61 600.4 56.2 602.6 43.9 611.2 53.2 596.7 64.5 607.6 67.3 608.6 59.1 627.1 68.9 603.8 46 589.1 44.3 605.9 40.2 598.4 79.4 607.3 73.2 598.9 59.1 610.7 84.3 589.9 52.3 603.7 70.9 605.1 56.3 586.7 36.4 594.3 45.8 598 42.1 605.4 54.5 606.8 43.4 603.4 52.3 592 49.4 614.4 58.7 600 72.6 603.3 54.2 584.9 23.8 604.3 68.7 602.7 63.6 594.6 56.4 617.8 73.7 594.5 36 601.1 76 616.8 52 604.9 74.2 611.8 74.5 599.2 43.6 591.1 46.3 590.1 45.5 616.9 81 596.2 67.9 594.1 57.3 598.7 57 608.2 60.8 602.8 37.9 593.8 52.4 608.6 68.7 586.7 75.6 598.9 52.7 601.2 66.3 631.6 61.7 622.6 78.8 609.8 74.8 605.1 40.7 619.6 61.3 598.8 86.1 601.8 56.7 594.7 63 604.8 40.2 611 68.3 585.4 75.1 611.5 74.8 609.1 62.7 591.4 83.4 611.9 93.4 613.7 56.7 590.6 62.2 602 59.5 590.7 74.2 610 63.9 606.9 86.8 610 87 606.1 59.7 600.9 32.8 609 70.8 609.4 55.1 614 84.6 604.4 70.9 589.1 29.6 607.5 58.2 585.2 31.6 600.8 70.6 594.8 38.9 615.8 47.3 615.9 72 612.2 70.5 602.7 66.7 605.2 80.7 620.9 94.6 601.5 74 599.1 14 617.3 62.1 613.8 57.7 608.3 60.5 598.3 79.7 586.3 46.1 616.7 20.3 610.6 64.2 615.6 82.7 599.2 61.1 586.5 33.7 596.4 90.6 584.2 69.6 619.7 77.1 617 86.1 634.5 73.8 616.5 76.9 596 79.8 614.6 68.6 594 64.9 595.1 45.7 617.1 80.8 617.9 82.9 591 58.7 616.4 83.4 587.3 51.7 618.8 69.6 620.7 96.5 604.5 96.9 601.1 81.1 601.3 69.8 601.8 51.6 598.9 39.6 602.4 62.9 610.9 81 606.1 79.7 594.6 92.6 591.3 84 593.8 62 586.9 41.6 585.2 65.8 588.7 35.3 603.3 73.3 587.3 51.2 589.8 35.1 594.7 61.5 595.9 85.7 597.6 70.4 589.7 59.5 604.6 68.7 589.3 65 602.7 61.1 601.5 43.9 600.8 40.2 609.3 84.6 614.4 67.1 621.9 48.9 602.3 64.2 600.6 73.3 618.6 95.4 589 69.2 586.4 76 610.1 89.6 621.5 54.1 611.2 62.8 590.6 68.3 603.3 58.1 609.8 72.1 605.6 53.8 600.1 61.6 603.1 43.5 614.4 63.8 596.6 77.2 600.3 79.3 591.2 69.6 605.2 89.8 605.3 52.2 595.9 53.9 603.5 55.6 616.1 73.4 598 38 594.7 57.9 592.3 56.2 595.7 66.3 626.4 52.1 600.4 72.1 591.3 51.8 604.6 55.1 601.5 75.7 591.9 31.7 604.6 59.9 594.8 67 618.9 82.6 586.8 49.7 595.5 63.1 591.1 77.7 614.9 74.4 595.4 57.4 600.6 99.9 604.8 66.1 586.9 32 604.4 59.6 610.7 86.9 612.9 71.2 606.9 77 608.7 83.2 614 81.7 586.1 45.3 611.2 88.1 607.2 87.6 611.7 69.4 606.3 46.7 602.1 73 609.1 48.8 596.1 72.7 614.6 77 605.5 63.6 620.2 48 624.6 54.2 606.2 43.7 594.1 33.1 598.9 41 597.3 33.6 605.9 72.9 614.5 50.6 593.8 46.6 616.4 69.2 620.1 61.2 601.1 81 598.9 62.5 613.8 74.6 616.3 50 596.5 60.4 589.7 48.3 613.6 92.5 615.8 79 599.1 76.5 596.2 45 614.1 61.7 606.8 81.4 600.2 60.6 612.5 62.9 603.4 56.6 620.6 76.5 629.5 83.9 621.9 72.5 620.5 57.7 605.1 79.4 609.6 65.9 597 72.7 591.8 67.4 614.8 75.2 608.3 28 605.3 57.2 585.1 33.9 593 76 594.9 58.1 605 52.2 603.6 64.4 607.6 68.1 627.6 49.2 606.3 81.9 613.1 65.8 592.9 18.7 606.2 72.5 606.3 52 608.5 99.8 609.5 66.5 616.9 95.6 594.2 45.5 590.5 31.3 596.5 51 598.5 61.4 603.2 57.5 613.9 33.9 592.8 50.1 596.6 81.3 604.2 73.8 619.4 66.6 602.9 53.4 610.6 37.3 596 36.4 628.3 82.1 589.2 6.8 608.3 95.7 609 83.9 604.4 36.1 590.6 63 592.2 51.3 603.7 48 593.6 62.6 601.3 22.5 609.7 36.1 585.7 71.1 613.4 74.4 602.3 62.3 600 52 592.4 44.2 607.2 25.9 607 42.8 595.4 60.6 599.7 54.5 597.9 47.2 616.7 79.4 596 58.2 591.2 53.1 610.2 69.7 597.4 35.4 622 79.5 592.4 15.3 612.4 64.2 608.9 70 598.2 87.9 619.6 64.9 616.1 61.5 613.9 78.8 623.8 53.5 594.4 39.1 587.1 27.3 607.7 53.5 602.2 57.5 596.8 79.3 621.6 63.7 591.8 59 590.7 66.3 604.4 50.8 597.7 80 612.3 81.9 610.7 61.5 602.5 34.2 626.3 72.4 616.1 88.5 590.5 42.7 607.5 71.6 596.7 44.9 595.8 54.8 588.3 74.6 605.5 76.2 602 33.4 593.9 37.4 617.4 60.7 607.7 67.9 609.4 50.1 600.9 69.1 610.2 67.2 606.4 37.6 600.3 65.1 616.2 76 588.8 86.6 596.9 57.8 604.9 77 593.8 49.8 587.3 35.1 591.9 57.4 606.1 86.5 610.1 65.7 597 48.5 584.7 56.4 595.2 49 599.4 57.1 588.6 75.3 609.4 82.2 590.5 44.7 593.2 51 609.5 28.1 602.7 57.4 607 42.8 623 67.4 588.5 48.1 595.9 60.6 598.3 63.4 608.9 57.3 609.2 80.9 609.7 65.1 608.2 49.9 585.9 34.6 595.6 76.7 603.4 67 598.6 58.5 594.6 54 594 35 609.4 62.7 611.5 71.1 584.1 52.9 611.1 77.9 594.2 43 609.4 69.5 612.2 51.8 630.9 57.3 600.9 71.9 598.1 65.6 600.5 81.2 626.6 59.9 607.9 95.1 609.1 63.4 598.9 24.3 611.4 68.3 602.4 71 600.6 86.3 596.6 71.4 596.2 86.1 588.9 47.8 593 70.1 616 61.4 588 29.6 607.4 55 619.7 93.8 600.5 36.2 589 56 598.3 52 597.6 59.9 609.2 45.3 598.2 60.6 609.8 62.4 595.9 47.5 610.6 72 592.5 36.5 595.7 92.5 595.5 55.2 601.2 24.1 609.7 59.7 600.3 45.2 611.9 36 594.2 84.1 603.6 47.8 603.3 95.3 590 58.3 604.3 62.8 589.6 85.6 602 43.9 613.9 55.5 615.2 76.8 622.5 48.8 604.8 55.2 613 87.5 596.6 70.5 587.8 47.6 595.1 58.5 600.2 61.6 605 66.9 594.5 41.6 601.2 37.8 592.6 55.9 601.5 57.4 611.2 60.1 612.9 49.7 593.5 53.9 604.4 85.4 598.7 79.2 608.9 73.7 607.9 51.4 587.7 81.7 597.6 63.8 614.9 58.1 596.6 51.7 609.6 44.4 630.6 82.9 600.9 73.1 614.6 50" class="mo"/>
<path d="M119.6 191.1 136.1 219.1 123 196.9 116.8 184.4 122.8 178 132.3 201.3 123.3 182.9 117.7 181 122.7 195.7 116.5 191.4 116.6 181.7 114.4 178.1 120.5 204.8 117.2 195.3 123 207.6 117.9 184.2 118.2 195.1 126.8 191.1 124.9 211 122.8 199.1 127.5 202.3 122 184.6 115.3 193 117.6 201.1 127.8 188.6 117.7 190 125.4 202.1 117.1 191.1 131.2 205.7 122.6 199.4 118.7 180 120.4 185.7 122.8 197.9 117.2 187 117.2 180.4 117.3 183.8 122.1 192.2 116.6 183.5 127 199.1 128.2 207 123.8 202 118 178.6 122.7 197.1 120.1 183.6 116.3 188.6 117.7 186.7 121.9 206.3 116.4 178.6 124 205.9 115.4 200.5 127.5 214.2 110.4 182.3 113.9 178.1 125.8 183.9 119.3 182.5 124.5 187.5 122.9 192.6 124.1 189.9 122 204 120.2 191.6 118.2 192.8 118 193.7 110.8 171.3 113.5 184.4 116.1 195.5 121.2 197.7 121 185.8 114.4 195.9 121.5 181.7 123.1 188.2 113 192.4 118.8 182.4 120.1 205.1 118.7 188.1 114 190.9 119.4 204.3 122.2 189.9 124.9 197.9 123.1 191.8 124.6 208.3 119.9 189.5 122.4 208.6 121.8 185.3 112.2 191.5 117.4 200.9 122.9 192.2 113.7 171.5 119.3 192 116.9 187.1 113.4 199.2 128.3 193.4 116.4 185 118.6 199 116.6 176.9 117.5 177.3 111.3 190.7 122.6 194.7 134.9 206.9 114.8 180 116.8 191.2 121.9 185.7 119.8 188.9 112.1 172.6 120.7 182.5 122.2 198.2 128 204.5 120.6 179.3 121.8 196.8 122.5 193.4 113.8 183.3 128.9 215.2 117.2 180.5 115.9 174.8 115.6 171.1 125.8 195.5 115.9 180.2 129.7 202.8 115.2 185.8 126.4 206.7 118.3 187.8 119.3 179 125.6 194.9 124.6 205.3 127.7 209.7 115.1 181.2 128.3 197.6 120.7 193.4 123.7 188 120.4 185.8 123.1 183.4 115.5 185 121.7 183.9 116.5 178.4 117.8 180.8 114.8 187.8 125.1 202.8 119 185.6 121.2 193.7 118.2 170.6 125 199.8 117.7 212.8 119.9 179.8 124.5 206.3 117.1 202.3 121 190.4 126.4 212.8 127.3 192.6 129.6 208.1 120.1 185.2 117.5 203.2 122.1 204.6 117.9 197.9 122.4 206.1 121 201 120.6 197.5 120.2 185.4 111.3 185.5 117 190 120.3 191.7 115.7 182.5 114.1 186.1 109.5 171.4 115.9 166.3 117.7 184.4 117.7 192.1 119.9 188.2 128.2 206.4 126.8 201 113.6 191.8 130.2 213.5 115.1 197.4 115.9 183.9 118.9 196.5 128.3 203.4 128.6 195.8 122.1 216.7 124.2 183 123.5 182.7 121.9 192.9 124.2 186.2 133.3 222 121.6 192.9 120.9 200.2 122 197.5 116.7 196.2 116.4 182.4 112.6 185.5 118.9 191.5 121.3 170.2 119.2 201.7 125.8 184.7 125.1 191.6 118.3 192.3 114.2 192.8 115.3 179.3 117.1 190.2 116.5 170.7 116 179.7 117.5 188.6 115.4 179.2 122.4 181.3 121.9 189.9 129.2 209.4 119.7 185.4 124 200.9 110.8 176.5 116.5 205.1 116.3 192.4 126.2 198.2 110.3 183.6 118.5 211.9 130.4 219.1 113.4 185.1 125.6 196.2 120.4 198.8 119.6 187.5 113.7 209.5 119.1 202.8 122.3 205.7 117.4 186.8 121.9 198.9 120.1 199.8 114.1 180.8 113 178.6 124 201 127 214.1 115.2 191.9 117.5 181.1 116.1 182.8 114.9 198.7 114.2 195.9 118.3 199.3 136 217.8 127.1 196.1 121.3 184.6 113.8 187.4 116.5 193.3 121.8 190.1 112.3 178.4 116.4 193.7 119.3 205.7 117 193.1 119.3 171.1 117.2 178.6 128 202.7 119.1 181.8 117.9 202.1 118.6 186.3 114.3 185.8 116.7 188.7 118.5 189.8 116.6 175.5 115.8 179.4 116.9 182.4 119.8 181.8 117 201.1 117.5 190.3 122.9 194.3 114.6 179.8 124.8 202.9 131.9 213.9 118.2 214.7 120.2 184.5 121.3 189.5 126.1 200.8 116.6 193.2 120.5 191.8 119.3 189.3 131.4 212.4 120.3 164.4 117 192.9 121.8 207.3 114.5 208.5 122.6 195.5 124.3 193.4 120.8 195.6 123.1 190.2 124.2 195.6 125.9 187.6 126.4 200.2 120.6 176 118.8 197.8 120.2 206.9 115.5 190.3 122.7 197.5 135.3 216.4 114.2 179.2 114.7 193.8 120.7 171.9 121.9 203.8 114 188.5 119.6 203.1 113.8 201.4 128.5 205.7 115.2 186.8 121.5 205.2 116.8 165 128.5 215.5 130.9 216.1 123.8 203.9 123.8 195.5 119.5 203.7 121.4 204.2 118.8 205.5 118.8 193.9 112.4 195.9 119.5 170.2 114.8 189 113.1 188.4 115.4 182.5 119.1 179.6 118.4 198.4 124.2 204.4 118.3 168.8 111.8 182.2 112.8 194.4 122.2 217.8 116.9 191.8 134.6 216.7 116.5 183.6 118 174.3 127 182.4 121.9 206.1 122.5 202.3 114.7 176.1 117.9 180.6 116.1 188.8 115.8 173.6 120.9 177.6 116.1 204.6 121.3 184.8 114.4 204.7 122.1 176.2 128.1 197.5 122 192.3 117 188 123.8 192.6 127.3 223.7 128.4 211.3 124.3 204 121.5 174 124.9 195.8 122.1 188.7 116 199.9 116.6 179.2 114.8 191.9 123 202 121.7 184 122.5 202.2 121.6 198.4 123.1 183.6 118.8 194.4 125.7 219.6 117.3 202.6 117.2 199.6 118.2 180.1 120.9 192.4 123.4 199.2 120.4 194.2 123.3 205.4 115.5 186.6 116.9 182.8 137 211.6 109.7 172.2 115.7 196.8 123 210 127.9 208.7 117.2 178.9 118.3 189.6 128.6 198.7 116.6 201.4 119.2 186.3 132.4 206.2 125.1 197.9 120.5 191.8 112 177.1 118.2 190.9 129.1 187.6 123.2 186.8 121.6 196.8 110.7 180.2 127.2 206.5 116 192.4 128.9 204.9 121.3 189.6 119.2 209.5 121.8 199.7 117.7 178.2 118.2 186.9 120.3 186.3 127.2 201.3 123 199.1 117.5 200.3 126.1 178.4 125 188.9 123.5 185.9 125.1 185.9 113.3 179.6 123 192.6 119.7 190.2 117.2 200.5 121.4 203.2 119.6 185.5 124.5 207.8 130.5 205.1 123.6 184 113.4 170.7 117.4 190.5 122.3 185 111.7 181.9 116.2 203.1 121.6 180.2 115.5 192.2 129.1 223.7 126.8 208.7 121.9 199.5 134.1 213.7 117.8 190.8 117.6 197.3 120.5 185.3 113.8 172.1 125.4 191.7 124.9 194.5 122.2 194.5 120.9 204.3 121.9 202.1 127.6 212.7 115.5 201.6 114.5 185.9 120.3 189 125.6 191.8 119.5 185.6 117.5 180.8 122.1 194.5 115.6 201.3 123.8 208.5 122.8 215 115.7 191 113.1 186.6 116.6 193.3 117.3 173.8 117.5 199 115.6 186.3 123.4 184.7 123.3 194.7 114.4 194.6 119.4 196.2 116.7 191.3 121.5 186.6 118.4 192.5 113.4 195.2 122.2 197.7 110.7 185.1 115.1 184.7 119.5 201.9 117.4 178.4 120.1 182.3 121.2 195.7 120.8 196.2 129.1 209.6 120.3 188.6 118.4 198.4 120.6 197.5 125.3 189.6 125.6 189.9 112.1 179.6 115.7 184 108.1 174.4 116.5 209.8 123.8 192 122 188.1 121.3 194.4 115.4 165 123 193.2 129 210.1 127.4 211.9 122 192.5 124.4 203.1 121.6 205.2 122.7 184.1 119.5 189.6 124.9 211.8 121.6 193.6 119.9 196.3 120.3 185.6 122.5 200.2 114.3 183.5 121.5 195 120.1 191.4 115.6 203.3 118.8 200 122.9 197.4 120.5 197.4 111.7 171.4 117.4 194 115.8 186.8 120.6 204.4 116.2 191.1 124.5 209.6 119.5 189.9" class="mb"/>
<path d="M145.3 242.2 150.8 236.6 147 232.7 138.5 227.3 153.3 243.4 133.3 223.6 174.5 229.4 183.3 226.7 151.6 223.6 177.8 228.8 169 252.5 134.3 193.3 137.3 227 155.2 235 172 228.9 147.7 227.5 143.2 235.9 148.4 226.5 152.2 230 170.5 268.6 151.9 221.9 155.5 210.7 155.4 245.6 174.6 216.9 142.3 230.3 139.2 237.5 145 234.1 178.5 242.2 153.6 245.9 144.4 219.3 141.4 244.9 160.8 210.4 137.5 217.8 164.8 247 156.8 246.5 161.5 240.1 158.1 267.5 157.2 248.2 132.7 214.7 152.6 218.4 166.7 258.5 148.7 247.2 151.2 207.7 160.3 254.7 146.1 201.6 154.2 236.3 164.1 236 134.9 227.3 162.4 227.6 153.2 235.5 166.8 252.4 160.8 236.7 179.3 236.8 176.9 259.1 161.3 247.1 152.3 216.2 146.1 237.7 177.7 254.1 135.1 234.5 161.5 230.6 148 214.7 154.8 211.9 146.1 256.8 151.5 237.5 176.1 234.1 170.2 236.6 157.9 219.7 146.7 244 152 253.1 156.8 232.6 138.8 225.9 141.9 192.5 171 246.9 149.5 220.8 162.5 250.1 179.7 234.8 150.8 253 164.2 219.1 188.2 276.9 154.3 235.2 175.1 264.2 147.4 223.8 169.9 246.2 146.9 218.8 154 223.9 129.1 226.9 156.2 251.4 157 247.8 157 237.4 154.5 212.9 158.5 232.5 168.4 245.3 160.9 229 151.8 232.2 149.5 231.9 156.1 236.8 148.2 239.8 166.7 233 168.1 247.1 171.4 218.5 139.7 245.6 144.8 228.3 156.1 222.1 135.8 253.4 161.6 247.1 146.6 228.4 158.4 252.2 174.4 256.6 166.9 266.3 169.8 255.9 159.8 210.7 168.8 265.1 161.6 232 164 241.8 156.5 226.2 145.2 246.1 160 254.1 184.6 253.4 148.3 231 152.5 220 158.3 225.5 144.4 223.8 174.8 227.4 142.5 226.5 161.8 235.3 143.9 240.2 143.7 225 168.6 235.5 166.5 240.2 167.1 255.4 138.4 208.9 149 223.3 157.6 239.6 157.8 221.6 154.8 240.2 173.3 250.9 161.5 226.9 148.4 226.1 142.8 229.5 161.3 240.9 150.3 231.2 154 228.5 140.2 240.8 143.4 213.6 171 264.7 154.4 248.8 134.3 209.1 158.1 250.5 152.9 214.6 171.4 245.8 148.7 226.1 143.2 214.4 143.4 245.1 153.2 235.9 136.5 244.7 128.4 237.2 158.1 248.4 153.6 224.2 155.8 241.2 143.9 220.8 152.3 215.7 133.8 237.9 133.6 223.5 155.6 235.7 177.4 254.3 146.7 214.1 159.4 213.8 135.5 221.5 146.6 250.6 180 271.8 156.9 244.4 178.3 252 146.8 249 172.5 242.2 165.7 224.6 145.7 232.9 146.9 233.7 150 226.5 138.7 216.5 127.5 215.7 144.1 249 192.6 256.9 153.7 226.3 157.2 196.9 155 242.9 139.4 232.3 166.6 248.2 187.5 257.7 152 247.6 137 202.7 154.5 242.4 176.6 222.5 130.6 211.8 147.6 241.9 141.6 236.3 134.3 243.8 144.3 239.9 141.8 231.2 139.4 233.5 148.4 213.8 151.4 234.4 167 272.1 138.6 263 136.9 246.8 156.4 219.4 136.5 231.3 162.1 236.6 147.6 231.6 125.9 212.5 125.5 230 138.3 222.9 147.5 246.7 162.2 251.3 171.9 244.3 153.1 218 138.4 216.4 139.5 227.4 129 224.7 136 244.5 153.7 236.7 170.2 261.8 150.7 250.8 175.3 245.1 144.7 228.1 162.5 255.5 175.5 258.4 154.2 249.1 134.7 227.7 147 236 155.8 236 148.4 227.5 151.3 217.6 154.5 222.6 168.4 260.8 171.4 235.7 135.5 232.3 149.7 223.2 164.4 229.1 152 245.3 144.6 239.2 126.8 203.9 148 217.2 142.5 220.1 131.4 221.4 160.1 249.5 153.1 240.7 148.7 213.3 156.9 241.2 145.7 224.2 160.4 235.1 154.1 224.8 168.7 238.2 152.3 244.7 141.5 229.1 139.8 244 147.6 237.6 131.4 216.5 161.7 243.2 160.3 241.2 158.9 248.6 144.5 239 173.2 235.9 157.1 249.9 158.4 222.3 150.3 232.8 161.8 245.7 145.6 224.8 162 245.7 159.4 257.3 142.7 257.4 178.3 249.3 155.5 236.6 149.7 243.9 137.1 212.2 163.7 245.5 152.9 249.2 141.1 230 143.8 229.8 157.5 255.6 123.2 226.3 150.4 239.8 178 237.1 155.7 230 133.7 236.6 146.3 260.5 141.7 241.5 136.6 213.3 137.8 223.8 167.2 241.7 132.7 244.9 133.1 243.1 147.8 239.3 166.2 223.7 144.9 232.2 164.4 235.8 145.1 235.6 141.6 225.7 152.5 246.4 165 229.3 160.1 258.4 168.6 250.7 177.1 257.6 170.7 258.7 176.7 256.2 145 227.9 163 240.7 166.2 236.5 147.9 260.1 154.4 235.6 138.4 244.4 153.3 231 143.6 232 163.4 255.5 155 235.8 164.8 272.6 129.1 207.8 140 242.6 142.1 218.2 167.5 248.9 154 238.7 138.1 227.2 154.9 211.1 153 220.3 158.2 209.8 142.1 206.2 136.1 215.5 145.3 213.1 157.2 214.1 139.7 233.6 150.6 211.6 145.2 242 149.4 239.8 143.1 234.4 181.2 249.4 157.6 218.9 176.5 243.7 142.4 230.3 156.9 235.8 161.7 229.4 151.8 234.3 148.8 225.4 164.1 237.4 137.7 213.3 150.7 220.4 188.8 230.9 145.3 228.5 161.8 229.1 123.2 234.1 150.2 229 126.6 226.3 167.1 234.9 178.6 242.6 162.7 235.2 154.2 223.3 157.4 261.5 176.5 244.3 163.4 245.1 138.2 222.5 144.2 258 150 215.9 160.7 245.5 173.8 252.5 174.5 250.1 137.5 234.5 198.4 249.2 126.5 231.8 136 219.4 174.7 233.6 152.9 232.2 162.4 251.4 165.1 212.1 153.3 236.9 185.7 259.2 174.7 245.5 146.5 249.7 143.8 225.1 153.5 229.6 161.9 224.1 168.2 244 183 250.1 169.3 242.2 154.9 233.9 159.8 235 165.7 212.4 139.7 194.8 156.9 244.4 161 257.5 147.5 234.5 175.3 251.4 139.6 216.8 191.5 262.7 152 205.7 147.3 238.7 132.9 222.4 151.4 224.2 154.2 234.3 140.2 221.2 160.7 223.2 172.3 233.2 181.8 247.7 160.6 224.7 157.4 241.6 139.8 250 152.4 228 156.2 226.7 150.3 247.8 162.9 228.5 139.2 211.6 137.7 222.4 154.2 228.5 176.3 218.8 145.4 221.7 132.4 214.5 169.4 255.3 146 238.9 167.6 227.7 159.6 230.9 143.6 239.8 142.3 221.2 176.8 230.7 173.6 230.9 154.8 249.3 149 218.1 163.4 224.9 148 230 149.6 230.8 173.5 212.6 151.2 239.2 142.5 201.4 133.9 237.5 157.2 247.9 141.6 194.6 163.6 242.8 175.5 253.9 157.5 216.5 134 223.1 150.8 232.5 164.7 239.3 158.3 229 164.3 230.4 157.7 238 143.1 235.3 137.5 211.8 167.8 248 162.7 236 181.2 244.6 157.5 240.3 169.3 259.9 149.4 236.3 165 243.2 154.9 231.7 152.6 239.6 157.5 227.9 138.5 205.4 151.2 254 163.6 225.5 175.9 265.1 141.9 217.1 149.7 228.3 156.6 250.9 160.2 248.4 175.6 247.5 153.2 215.4 146.4 226 161.1 243.5 141 236 169.1 203.6 147.7 218 162 216.2 157.5 223.8 145.8 246.3 150.8 234.4 138.2 218.9 155.5 228 127 198.8 152.7 233 184.3 255.8 148.7 216.7 146.5 210.5 134.2 208 146.2 228.5 134.3 247 165.3 242.3 147.2 212.9 154.3 253.6 179.9 258.5 159.4 218.1 128.1 217.6 174.6 234.2 158.6 236.5 161.8 254.1 155.5 243.7 167.3 258.3 154.9 225.3 153.4 227.9 165.5 253.5 145.7 233.5 174.4 238.5 129.1 210.5 159.3 243.2 184.4 249.8 155.7 214 167.3 248.4 174.8 227.6 135.9 225.9 165.3 240 126.8 234 156.8 245.5 153.2 233.8 134.7 211.5 168.4 238.4 159 231.4 141.8 201.9 164.5 235.8 159.3 268.3 133.1 184.5 146.9 248.5 165.4 234.3 156.6 216.6 154.1 235.6 149.8 248 170.2 242 173.4 249.4 158.7 230.9 157.5 227.6 155.3 227.9 163.7 246.5 160.3 227.3 134.9 231.1 139.8 218.8 144.3 217.8 162.3 261.9 137.9 251.3 152.3 230.5 156.9 224.4 162.1 235.9 168 225.9 136.9 234 144.8 245.6 163.5 239.6" class="mo"/>
<path d="M454.4 191.1 461.1 219.1 447.4 196.9 448.4 184.4 452.5 178 450.5 201.3 457.3 182.9 455.4 181 451.1 195.7 458.7 191.4 452.1 181.7 430.9 178.1 447.5 204.8 457.7 195.3 447.3 207.6 447.2 184.2 440 195.1 434 191.1 454.5 211 453.7 199.1 442.3 202.3 436.6 184.6 448.7 193 466.3 201.1 448.6 188.6 442.9 190 459.2 202.1 442.3 191.1 449.2 205.7 450.7 199.4 446.2 180 455 185.7 454.1 197.9 430.4 187 438.8 180.4 446.5 183.8 437.9 192.2 448 183.5 446 199.1 449 207 442.9 202 451.4 178.6 459.1 197.1 457.7 183.6 451.7 188.6 441.5 186.7 454.3 206.3 446.9 178.6 450.9 205.9 474 200.5 451.7 214.2 467.4 182.3 437.2 178.1 429.7 183.9 450.6 182.5 457.1 187.5 451.3 192.6 441.3 189.9 438.8 204 456.5 191.6 446.1 192.8 465.4 193.7 450.4 171.3 444.3 184.4 447.8 195.5 456.8 197.7 441.2 185.8 454.4 195.9 448.4 181.7 444.2 188.2 457.3 192.4 452 182.4 451.4 205.1 446.2 188.1 464.1 190.9 450.5 204.3 441.4 189.9 449.9 197.9 449.1 191.8 441 208.3 446.3 189.5 457.2 208.6 448 185.3 459.8 191.5 435.5 200.9 444.4 192.2 447.1 171.5 444 192 443.5 187.1 451.6 199.2 463.1 193.4 442.8 185 455.8 199 449.4 176.9 441 177.3 441.1 190.7 453 194.7 436.7 206.9 455.5 180 448.1 191.2 448.9 185.7 436.4 188.9 439.5 172.6 439.7 182.5 442.8 198.2 465.6 204.5 443.6 179.3 469.4 196.8 447.3 193.4 451.6 183.3 468.5 215.2 443.6 180.5 438.5 174.8 452.9 171.1 449.1 195.5 439.1 180.2 436.9 202.8 445.1 185.8 445.7 206.7 448.6 187.8 440.1 179 469.1 194.9 474.4 205.3 460.6 209.7 444.2 181.2 450.1 197.6 442.1 193.4 443.5 188 448.8 185.8 445.7 183.4 450.1 185 439.4 183.9 432.6 178.4 432.8 180.8 441 187.8 445.6 202.8 432.9 185.6 458.6 193.7 438 170.6 440.9 199.8 461.9 212.8 439.9 179.8 455.1 206.3 458.2 202.3 440.9 190.4 480.4 212.8 444.1 192.6 444.2 208.1 435.9 185.2 456.7 203.2 452.4 204.6 439.9 197.9 466.4 206.1 465.9 201 439.3 197.5 449.2 185.4 449.5 185.5 440.3 190 450.6 191.7 455.6 182.5 463 186.1 444.6 171.4 442.6 166.3 443.6 184.4 461.8 192.1 430 188.2 460.2 206.4 450.8 201 440.6 191.8 442.4 213.5 438.9 197.4 459.8 183.9 448 196.5 461.5 203.4 460.1 195.8 454.5 216.7 447.8 183 439.5 182.7 446.1 192.9 458.5 186.2 455.3 222 449.9 192.9 434.6 200.2 439.9 197.5 454.7 196.2 440.4 182.4 433.3 185.5 461.1 191.5 429.8 170.2 456.4 201.7 446.6 184.7 448.5 191.6 445.4 192.3 445.9 192.8 448.5 179.3 465.4 190.2 454.6 170.7 444.1 179.7 449.6 188.6 456.6 179.2 450.7 181.3 441.5 189.9 451.9 209.4 434.1 185.4 443.5 200.9 430.5 176.5 449.3 205.1 439.7 192.4 446.1 198.2 451.2 183.6 456.4 211.9 469.7 219.1 445.5 185.1 443 196.2 474.4 198.8 458.7 187.5 449.8 209.5 465.7 202.8 452.3 205.7 439.5 186.8 486.7 198.9 449.4 199.8 460.6 180.8 439.9 178.6 451 201 448.2 214.1 465.7 191.9 441.1 181.1 442.4 182.8 444.7 198.7 457.1 195.9 456 199.3 459.3 217.8 442.3 196.1 444.1 184.6 437.9 187.4 438.1 193.3 440.6 190.1 440.8 178.4 448.5 193.7 446.4 205.7 457.4 193.1 440.3 171.1 442.7 178.6 446.6 202.7 435.4 181.8 443.3 202.1 442 186.3 434.9 185.8 451.3 188.7 446.9 189.8 446.3 175.5 441.5 179.4 472.4 182.4 449 181.8 442.6 201.1 451.5 190.3 451.6 194.3 432.4 179.8 468.5 202.9 454.8 213.9 463.3 214.7 438.9 184.5 456.5 189.5 455.2 200.8 446.9 193.2 443.8 191.8 454.8 189.3 459.4 212.4 433.2 164.4 443.9 192.9 449.6 207.3 448.4 208.5 453.6 195.5 446.3 193.4 449.6 195.6 435.7 190.2 441.3 195.6 457.3 187.6 459.6 200.2 436.1 176 448.1 197.8 444.1 206.9 456 190.3 468.7 197.5 467 216.4 441.1 179.2 452.9 193.8 435.7 171.9 468.8 203.8 451.4 188.5 455.8 203.1 446.5 201.4 455.3 205.7 461.6 186.8 444.2 205.2 433.3 165 463.5 215.5 458.6 216.1 464.9 203.9 446.4 195.5 457.2 203.7 459.1 204.2 447.8 205.5 456 193.9 446.5 195.9 442.8 170.2 439.5 189 447 188.4 444.8 182.5 437.1 179.6 453.3 198.4 458.4 204.4 434.8 168.8 452.4 182.2 449.3 194.4 451.5 217.8 451.4 191.8 447.4 216.7 455 183.6 449.3 174.3 459.4 182.4 447.2 206.1 462.3 202.3 456.1 176.1 448.2 180.6 448.1 188.8 439.8 173.6 432.9 177.6 458.4 204.6 447.4 184.8 446.7 204.7 454.2 176.2 445.8 197.5 439.1 192.3 456.2 188 457.4 192.6 441.4 223.7 455.8 211.3 450.4 204 435.6 174 444.8 195.8 458.3 188.7 462.5 199.9 458.3 179.2 438.1 191.9 458.3 202 443 184 446.2 202.2 449.2 198.4 446.6 183.6 458.3 194.4 452.4 219.6 461.1 202.6 449.4 199.6 449.9 180.1 444.8 192.4 450.6 199.2 432.9 194.2 451.8 205.4 434.4 186.6 438 182.8 465.3 211.6 455.9 172.2 455.4 196.8 445.5 210 455.4 208.7 440.6 178.9 460.7 189.6 445.5 198.7 455.5 201.4 445.9 186.3 452 206.2 454.6 197.9 464.3 191.8 444 177.1 442.6 190.9 444 187.6 433.8 186.8 460.3 196.8 454.8 180.2 446.4 206.5 456.3 192.4 453.2 204.9 457.7 189.6 460.2 209.5 452.2 199.7 439.8 178.2 453.1 186.9 453.9 186.3 448.8 201.3 445.2 199.1 467.4 200.3 439.1 178.4 439.9 188.9 450.6 185.9 450.3 185.9 453.9 179.6 458.1 192.6 440 190.2 451.1 200.5 440.2 203.2 441.1 185.5 460.4 207.8 440.9 205.1 438.4 184 426.2 170.7 459.6 190.5 443.3 185 447.3 181.9 449.3 203.1 447.4 180.2 429.5 192.2 451.5 223.7 440.4 208.7 453.7 199.5 455 213.7 463.5 190.8 447.3 197.3 449.3 185.3 438.9 172.1 448.6 191.7 461.1 194.5 454.2 194.5 465 204.3 456.8 202.1 442.1 212.7 461.1 201.6 436.6 185.9 445 189 458.8 191.8 438.5 185.6 448.8 180.8 462.6 194.5 444.1 201.3 449.2 208.5 461.6 215 446.8 191 432.5 186.6 449.2 193.3 442.2 173.8 435.4 199 463.2 186.3 430.5 184.7 430.7 194.7 455.3 194.6 469.1 196.2 459.9 191.3 445.8 186.6 452.9 192.5 455 195.2 443.5 197.7 429.4 185.1 426.5 184.7 447.7 201.9 440.3 178.4 442.8 182.3 461.8 195.7 472 196.2 447.7 209.6 462.7 188.6 445.6 198.4 434 197.5 455.4 189.6 454.2 189.9 449.4 179.6 451.2 184 450 174.4 464 209.8 455.4 192 460.6 188.1 448.4 194.4 430.5 165 456.6 193.2 444.7 210.1 460.5 211.9 450.8 192.5 443.9 203.1 451.9 205.2 438.5 184.1 458.5 189.6 453.5 211.8 444.3 193.6 455.8 196.3 442.2 185.6 451.9 200.2 445.5 183.5 455.4 195 432.7 191.4 474.6 203.3 444.4 200 463.5 197.4 452.8 197.4 444.1 171.4 437.3 194 440.1 186.8 452.8 204.4 450.2 191.1 446.2 209.6 445 189.9" class="mb"/>
<path d="M461.5 242.2 475.7 236.6 452.6 232.7 475 227.3 485.6 243.4 454 223.6 484.7 229.4 473.2 226.7 469.4 223.6 467.8 228.8 465.3 252.5 441.3 193.3 475.2 227 475.5 235 486 228.9 472.5 227.5 463.7 235.9 481.4 226.5 460.2 230 487.4 268.6 469.5 221.9 474 210.7 480.2 245.6 463.6 216.9 452.7 230.3 484.5 237.5 478.4 234.1 497.6 242.2 474.6 245.9 456.5 219.3 485.4 244.9 472.6 210.4 490.5 217.8 488.8 247 480.9 246.5 470.3 240.1 486 267.5 475.5 248.2 461.6 214.7 464.8 218.4 476.5 258.5 500.6 247.2 462.6 207.7 466.2 254.7 465.8 201.6 459.2 236.3 479.9 236 461.7 227.3 477.4 227.6 483.1 235.5 495.9 252.4 471.9 236.7 476.1 236.8 498.2 259.1 470.3 247.1 470.7 216.2 468.4 237.7 486.4 254.1 476.1 234.5 471.8 230.6 453.2 214.7 472.4 211.9 491 256.8 482.3 237.5 483.8 234.1 476.4 236.6 499.3 219.7 493 244 473.9 253.1 479.5 232.6 473.8 225.9 474.2 192.5 484.1 246.9 462.8 220.8 480.3 250.1 478.1 234.8 488.2 253 481.7 219.1 494.6 276.9 467.1 235.2 497 264.2 478.2 223.8 496.1 246.2 478 218.8 470.1 223.9 468.8 226.9 475 251.4 480.5 247.8 494.6 237.4 472.4 212.9 480.3 232.5 482.3 245.3 452.5 229 480.2 232.2 470.9 231.9 485.8 236.8 478.9 239.8 473.7 233 477.5 247.1 470.2 218.5 481.5 245.6 479.5 228.3 469.6 222.1 477.8 253.4 486.4 247.1 465.5 228.4 482.6 252.2 483.4 256.6 488.2 266.3 480.3 255.9 471.9 210.7 490.7 265.1 464.9 232 471.2 241.8 476.5 226.2 466.1 246.1 466.3 254.1 488.7 253.4 469.4 231 449.5 220 477.3 225.5 466.1 223.8 485.1 227.4 465.2 226.5 484.4 235.3 473.4 240.2 465.1 225 484 235.5 475 240.2 483.6 255.4 462 208.9 464.2 223.3 477.8 239.6 478.3 221.6 470 240.2 480.7 250.9 487.4 226.9 469.1 226.1 468.2 229.5 460.2 240.9 468.2 231.2 477.4 228.5 480 240.8 458 213.6 482.7 264.7 466.1 248.8 451.4 209.1 469.5 250.5 447.3 214.6 482.7 245.8 478.9 226.1 467.7 214.4 465.9 245.1 462.8 235.9 480.7 244.7 480.1 237.2 474.5 248.4 472.9 224.2 481.2 241.2 472.7 220.8 467.8 215.7 454 237.9 484.9 223.5 479 235.7 499.5 254.3 446.7 214.1 480.7 213.8 475.7 221.5 495 250.6 475.7 271.8 471.4 244.4 494.4 252 490 249 485.4 242.2 478.5 224.6 465.5 232.9 465.4 233.7 468 226.5 454.6 216.5 463.3 215.7 469.2 249 490.9 256.9 471.3 226.3 444.3 196.9 482.1 242.9 476.7 232.3 490.9 248.2 476.9 257.7 451.7 247.6 465.1 202.7 467.4 242.4 460.1 222.5 464.6 211.8 486.2 241.9 469 236.3 471.7 243.8 466.6 239.9 491.8 231.2 477 233.5 470.2 213.8 464.7 234.4 498.9 272.1 484.5 263 493.9 246.8 471 219.4 485.5 231.3 478 236.6 467.2 231.6 468.7 212.5 454.8 230 453.1 222.9 485.4 246.7 483.3 251.3 483.6 244.3 489 218 470.9 216.4 452.4 227.4 483.3 224.7 472 244.5 458.2 236.7 484.4 261.8 475.4 250.8 497.5 245.1 447.3 228.1 482 255.5 483.1 258.4 477.5 249.1 465.6 227.7 458.9 236 489.8 236 493.5 227.5 460.6 217.6 471.7 222.6 477 260.8 492.5 235.7 472.8 232.3 470.6 223.2 479.1 229.1 485.5 245.3 478.7 239.2 471 203.9 464.2 217.2 479.1 220.1 467.9 221.4 479.9 249.5 449.3 240.7 467.1 213.3 469.3 241.2 464.7 224.2 484.2 235.1 468.2 224.8 478.9 238.2 463.8 244.7 465.6 229.1 452.9 244 468.8 237.6 468.1 216.5 480.9 243.2 487.2 241.2 473.1 248.6 471.8 239 483.4 235.9 473.3 249.9 479.5 222.3 470.2 232.8 471.7 245.7 466.1 224.8 500.2 245.7 482.4 257.3 484.7 257.4 480.3 249.3 481.4 236.6 468.6 243.9 458.1 212.2 484.4 245.5 489.9 249.2 465.7 230 470.6 229.8 479 255.6 461.7 226.3 465.4 239.8 486.3 237.1 459.8 230 473 236.6 490.8 260.5 475.3 241.5 473.2 213.3 471.3 223.8 469 241.7 477.1 244.9 499.5 243.1 473 239.3 463.1 223.7 476 232.2 462.1 235.8 497.6 235.6 489.4 225.7 488.2 246.4 469 229.3 471.6 258.4 482.3 250.7 480.4 257.6 466.6 258.7 487.4 256.2 466.1 227.9 484.1 240.7 470.7 236.5 489.8 260.1 469.6 235.6 474.6 244.4 478.1 231 467.7 232 481.1 255.5 472.6 235.8 492.8 272.6 463.5 207.8 464.5 242.6 458.6 218.2 476.5 248.9 459.3 238.7 470.7 227.2 463.6 211.1 444.2 220.3 467 209.8 470.3 206.2 451.5 215.5 461.5 213.1 469.6 214.1 477.3 233.6 478.4 211.6 474.7 242 495.6 239.8 483.6 234.4 485.3 249.4 451.5 218.9 485.3 243.7 468.5 230.3 472.8 235.8 477.6 229.4 474.8 234.3 470.7 225.4 474.8 237.4 462.6 213.3 465.3 220.4 503 230.9 465.7 228.5 475.6 229.1 480.6 234.1 483.9 229 491.9 226.3 479.7 234.9 481.3 242.6 490.3 235.2 459 223.3 498.9 261.5 503.8 244.3 477.5 245.1 478.2 222.5 468.6 258 461.2 215.9 484.8 245.5 480.5 252.5 491.5 250.1 469.6 234.5 504.6 249.2 483.9 231.8 466.4 219.4 495.1 233.6 469 232.2 453.8 251.4 457.5 212.1 493.9 236.9 490.5 259.2 488.5 245.5 478.1 249.7 468.6 225.1 470.9 229.6 458.2 224.1 481.5 244 465.8 250.1 487.7 242.2 461 233.9 492.2 235 478.7 212.4 463.2 194.8 474.1 244.4 478.5 257.5 481.2 234.5 476.7 251.4 440.2 216.8 503.3 262.7 460.3 205.7 474.8 238.7 467.9 222.4 469.9 224.2 467.2 234.3 473.7 221.2 472.7 223.2 493.3 233.2 478.1 247.7 475.1 224.7 480.9 241.6 469.3 250 479.1 228 476.6 226.7 486.4 247.8 471 228.5 455.5 211.6 449.6 222.4 462.5 228.5 474.6 218.8 475.4 221.7 455.9 214.5 485.9 255.3 467.4 238.9 469.3 227.7 476.8 230.9 461.7 239.8 472.4 221.2 485.2 230.7 462.8 230.9 477.6 249.3 464.2 218.1 479.5 224.9 474.1 230 475.4 230.8 479.5 212.6 473 239.2 464.4 201.4 495 237.5 470.6 247.9 448.4 194.6 500.2 242.8 469.7 253.9 466.3 216.5 468.9 223.1 474.9 232.5 482 239.3 469.8 229 474 230.4 472 238 473.6 235.3 477.8 211.8 462 248 486.5 236 486.9 244.6 473 240.3 494.7 259.9 468.1 236.3 481.9 243.2 485.5 231.7 476.5 239.6 488.2 227.9 471.4 205.4 481.7 254 473.8 225.5 509.3 265.1 464.6 217.1 473 228.3 495.5 250.9 473.8 248.4 488.8 247.5 457.2 215.4 480.5 226 490.9 243.5 470.6 236 473.5 203.6 463.7 218 460.3 216.2 467.4 223.8 483.3 246.3 489.3 234.4 479.3 218.9 472.4 228 463.3 198.8 465.9 233 489.9 255.8 476.2 216.7 474.5 210.5 458.8 208 469.3 228.5 460.7 247 500.2 242.3 463.9 212.9 483.1 253.6 483.2 258.5 473.2 218.1 461.9 217.6 481.1 234.2 494.5 236.5 488.9 254.1 483.7 243.7 471.3 258.3 468.4 225.3 482 227.9 495.2 253.5 467.2 233.5 491.9 238.5 476.1 210.5 462.6 243.2 473.5 249.8 471.9 214 481.6 248.4 471.4 227.6 462.7 225.9 464.9 240 448.3 234 464.9 245.5 469.6 233.8 467.5 211.5 473.2 238.4 464.6 231.4 471.8 201.9 476.2 235.8 495.8 268.3 457.3 184.5 482.3 248.5 476.7 234.3 482.8 216.6 461.1 235.6 491.5 248 483 242 478.3 249.4 496.3 230.9 449.3 227.6 500.3 227.9 482.9 246.5 482.3 227.3 480.5 231.1 474.1 218.8 453.4 217.8 463.7 261.9 478 251.3 468.7 230.5 457.6 224.4 489.5 235.9 471.4 225.9 464.3 234 470.4 245.6 457 239.6" class="mo"/>
<path d="M630.8 191.1 610.6 219.1 635.4 196.9 650 184.4 634.1 178 620.6 201.3 631 182.9 639.5 181 630.6 195.7 635.4 191.4 644.3 181.7 658.7 178.1 621.4 204.8 637.8 195.3 622.3 207.6 638.6 184.2 647.7 195.1 627.5 191.1 625.3 211 637.3 199.1 625.8 202.3 642.4 184.6 642.7 193 630.9 201.1 618.8 188.6 655.7 190 627.2 202.1 646.2 191.1 613.2 205.7 632.8 199.4 636.2 180 640.9 185.7 632.7 197.9 659.7 187 644.7 180.4 640.8 183.8 641.1 192.2 642.1 183.5 624.9 199.1 620.7 207 623.1 202 649.1 178.6 629.8 197.1 632.4 183.6 641.7 188.6 644.9 186.7 630.2 206.3 653.1 178.6 628.3 205.9 634.6 200.5 620.5 214.2 633.3 182.3 659.9 178.1 646.8 183.9 633.8 182.5 635.3 187.5 627.9 192.6 634.6 189.9 624.7 204 626.4 191.6 638.7 192.8 620.3 193.7 650.5 171.3 647.8 184.4 639.6 195.5 635.2 197.7 636.1 185.8 638.4 195.9 645.6 181.7 637.9 188.2 647.9 192.4 650.5 182.4 627.5 205.1 641.6 188.1 633.9 190.9 628.9 204.3 644.6 189.9 629.3 197.9 639.4 191.8 624.7 208.3 634.3 189.5 617.6 208.6 632.6 185.3 651.8 191.5 638.3 200.9 646 192.2 652.8 171.5 641 192 644.7 187.1 636 199.2 614.9 193.4 634.9 185 646.8 199 648.6 176.9 646.4 177.3 644.7 190.7 629.2 194.7 620 206.9 639.4 180 645.2 191.2 643.9 185.7 650.1 188.9 651.8 172.6 652 182.5 627 198.2 615.1 204.5 638.4 179.3 623.3 196.8 634.5 193.4 646.8 183.3 611.6 215.2 650 180.5 645.8 174.8 651.3 171.1 624.5 195.5 647 180.2 628.6 202.8 646.9 185.8 618.6 206.7 637.9 187.8 656.5 179 612.8 194.9 617.2 205.3 623.6 209.7 647 181.2 621.1 197.6 636.3 193.4 636.1 188 638.8 185.8 630.6 183.4 642.5 185 641.5 183.9 656 178.4 642.9 180.8 648.5 187.8 630.6 202.8 655.4 185.6 633.9 193.7 651.3 170.6 631.3 199.8 621.7 212.8 650.6 179.8 618.9 206.3 636.7 202.3 634.4 190.4 611.5 212.8 627.4 192.6 625 208.1 631.6 185.2 639.7 203.2 629.4 204.6 650.5 197.9 629 206.1 621.4 201 627.8 197.5 631.8 185.4 645.8 185.5 639.5 190 639.6 191.7 644.5 182.5 648.7 186.1 659.2 171.4 649.3 166.3 646.9 184.4 631.5 192.1 647.8 188.2 621.6 206.4 640.6 201 656.8 191.8 620.7 213.5 653 197.4 642.3 183.9 634.1 196.5 616.7 203.4 627.9 195.8 619.2 216.7 637.4 183 637.4 182.7 634.5 192.9 632.7 186.2 601.9 222 633.7 192.9 639 200.2 628.4 197.5 635.9 196.2 645.8 182.4 644.3 185.5 636.8 191.5 649.7 170.2 638.8 201.7 632.9 184.7 621.2 191.6 640.1 192.3 646.2 192.8 645.8 179.3 643.6 190.2 649.8 170.7 647.5 179.7 647.1 188.6 647.4 179.2 631.1 181.3 639.5 189.9 622.8 209.4 644.5 185.4 634.3 200.9 658.2 176.5 627 205.1 641.4 192.4 630.5 198.2 644.7 183.6 622.7 211.9 600 219.1 648.2 185.1 624.3 196.2 621.7 198.8 633 187.5 629.3 209.5 634.1 202.8 632.5 205.7 650.4 186.8 607.4 198.9 630.7 199.8 644.3 180.8 653.6 178.6 619.1 201 615.1 214.1 636.8 191.9 648.8 181.1 654.3 182.8 642.4 198.7 636.8 195.9 636.3 199.3 607.5 217.8 626.4 196.1 647.4 184.6 649.6 187.4 641.4 193.3 634.5 190.1 651 178.4 648.9 193.7 624.8 205.7 636.9 193.1 643.7 171.1 648.2 178.6 622.9 202.7 648 181.8 636.9 202.1 644.5 186.3 641.3 185.8 636.1 188.7 656.8 189.8 648.4 175.5 655.3 179.4 629.8 182.4 644.9 181.8 628.6 201.1 631.1 190.3 634 194.3 643.9 179.8 622.7 202.9 615 213.9 619.1 214.7 641.9 184.5 628.2 189.5 630.9 200.8 639.8 193.2 633.7 191.8 632.7 189.3 616.2 212.4 650.2 164.4 633 192.9 624.2 207.3 630.3 208.5 623.3 195.5 634.5 193.4 627 195.6 642.3 190.2 637 195.6 624 187.6 624.2 200.2 647.8 176 640.5 197.8 635.7 206.9 643.6 190.3 623.8 197.5 609.8 216.4 647.3 179.2 650.2 193.8 645.4 171.9 613.6 203.8 637.5 188.5 636.1 203.1 640.4 201.4 618.4 205.7 647.7 186.8 634.9 205.2 661 165 609.8 215.5 599.8 216.1 624.1 203.9 638 195.5 643.5 203.7 623.1 204.2 631.7 205.5 640.1 193.9 650.3 195.9 645 170.2 651.1 189 642.5 188.4 647.2 182.5 645.2 179.6 635.9 198.4 625 204.4 660.4 168.8 641.2 182.2 637.1 194.4 625.6 217.8 643.5 191.8 614.6 216.7 635.1 183.6 642.2 174.3 625.8 182.4 620.6 206.1 621.9 202.3 640.3 176.1 638.5 180.6 644.2 188.8 659 173.6 656.6 177.6 629.9 204.6 626.4 184.8 633.5 204.7 632.2 176.2 627.2 197.5 633.2 192.3 651.3 188 623.6 192.6 616.9 223.7 618.6 211.3 622 204 644.8 174 635.1 195.8 639.5 188.7 637 199.9 639.9 179.2 646.4 191.9 626.1 202 640.2 184 626 202.2 637.2 198.4 638.4 183.6 631.7 194.4 622.8 219.6 630.4 202.6 631.4 199.6 642.5 180.1 629.7 192.4 619.3 199.2 634.8 194.2 619.7 205.4 646.3 186.6 650.1 182.8 602.3 211.6 664.1 172.2 629.4 196.8 623.4 210 627.4 208.7 655.2 178.9 635.8 189.6 627.4 198.7 631.5 201.4 642.3 186.3 614.6 206.2 629.4 197.9 629.7 191.8 660.6 177.1 648 190.9 627.9 187.6 638.7 186.8 628.4 196.8 648.4 180.2 618.9 206.5 637.5 192.4 632.5 204.9 634.4 189.6 626.9 209.5 620.7 199.7 638.1 178.2 638.6 186.9 631.6 186.3 620.3 201.3 627.4 199.1 630.3 200.3 642 178.4 626.1 188.9 635.4 185.9 637 185.9 642.7 179.6 635.4 192.6 648.5 190.2 638.9 200.5 633 203.2 648.8 185.5 621.8 207.8 619.8 205.1 642 184 664.4 170.7 649.4 190.5 636.5 185 637.9 181.9 638.3 203.1 634.7 180.2 650.1 192.2 612.3 223.7 622.1 208.7 622.8 199.5 610.7 213.7 633.9 190.8 633.4 197.3 627.5 185.3 650.4 172.1 636.4 191.7 620.8 194.5 639.3 194.5 632.4 204.3 630.8 202.1 624.4 212.7 625.1 201.6 658.8 185.9 641.4 189 623.7 191.8 639 185.6 637.8 180.8 629.3 194.5 634.9 201.3 628.8 208.5 619.9 215 642.9 191 653.1 186.6 649.4 193.3 652.1 173.8 636.1 199 638.4 186.3 650.7 184.7 643 194.7 639.8 194.6 629.6 196.2 634.8 191.3 639.7 186.6 647.6 192.5 649.9 195.2 634.7 197.7 652.5 185.1 653.9 184.7 625.8 201.9 652.3 178.4 641.3 182.3 624.1 195.7 624.7 196.2 616.8 209.6 636.2 188.6 643 198.4 648.8 197.5 630.4 189.6 624.7 189.9 655.6 179.6 641 184 655.1 174.4 633.5 209.8 631.8 192 628 188.1 635.4 194.4 660.8 165 631.6 193.2 617.2 210.1 618.9 211.9 626.4 192.5 632.1 203.1 630.2 205.2 639.2 184.1 633.7 189.6 629.8 211.8 639.4 193.6 631.1 196.3 643.1 185.6 619.4 200.2 649.4 183.5 630.9 195 645.5 191.4 626.4 203.3 628 200 624.1 197.4 639 197.4 641.2 171.4 636.5 194 648.4 186.8 631.2 204.4 631 191.1 623.2 209.6 638.5 189.9" class="mb"/>
<path d="M605.7 242.2 601.3 236.6 597.4 232.7 622.1 227.3 597.3 243.4 600.5 223.6 608.9 229.4 597.7 226.7 609.7 223.6 599.3 228.8 592.9 252.5 608.7 193.3 613.1 227 609.5 235 614.5 228.9 615.5 227.5 610.4 235.9 590.3 226.5 596.6 230 602.9 268.6 621.6 221.9 602.6 210.7 619.1 245.6 616.6 216.9 595.1 230.3 594.2 237.5 599.9 234.1 586 242.2 601.6 245.9 616.5 219.3 620.1 244.9 599.5 210.4 595.3 217.8 610.8 247 593.6 246.5 605 240.1 608.2 267.5 599.7 248.2 612.7 214.7 610.5 218.4 611.2 258.5 599.6 247.2 610.6 207.7 600 254.7 602.5 201.6 616.7 236.3 604.5 236 622.3 227.3 613.6 227.6 589.3 235.5 611.2 252.4 612.6 236.7 608 236.8 589.2 259.1 610.7 247.1 598.2 216.2 615.9 237.7 604.1 254.1 610.1 234.5 616.5 230.6 617.1 214.7 596.4 211.9 616.1 256.8 607.9 237.5 593.4 234.1 600.9 236.6 611.8 219.7 611.6 244 590.7 253.1 597.5 232.6 595.2 225.9 610.6 192.5 602.7 246.9 598 220.8 594.8 250.1 591.5 234.8 598.4 253 604.7 219.1 583.8 276.9 598.9 235.2 597.7 264.2 599.3 223.8 608.3 246.2 616 218.8 606.5 223.9 630.5 226.9 617.6 251.4 614.4 247.8 600.6 237.4 604.3 212.9 600.4 232.5 602.6 245.3 611.2 229 596.7 232.2 607.6 231.9 608.6 236.8 627.1 239.8 603.8 233 589.1 247.1 605.9 218.5 598.4 245.6 607.3 228.3 598.9 222.1 610.7 253.4 589.9 247.1 603.7 228.4 605.1 252.2 586.7 256.6 594.3 266.3 598 255.9 605.4 210.7 606.8 265.1 603.4 232 592 241.8 614.4 226.2 600 246.1 603.3 254.1 584.9 253.4 604.3 231 602.7 220 594.6 225.5 617.8 223.8 594.5 227.4 601.1 226.5 616.8 235.3 604.9 240.2 611.8 225 599.2 235.5 591.1 240.2 590.1 255.4 616.9 208.9 596.2 223.3 594.1 239.6 598.7 221.6 608.2 240.2 602.8 250.9 593.8 226.9 608.6 226.1 586.7 229.5 598.9 240.9 601.2 231.2 631.6 228.5 622.6 240.8 609.8 213.6 605.1 264.7 619.6 248.8 598.8 209.1 601.8 250.5 594.7 214.6 604.8 245.8 611 226.1 585.4 214.4 611.5 245.1 609.1 235.9 591.4 244.7 611.9 237.2 613.7 248.4 590.6 224.2 602 241.2 590.7 220.8 610 215.7 606.9 237.9 610 223.5 606.1 235.7 600.9 254.3 609 214.1 609.4 213.8 614 221.5 604.4 250.6 589.1 271.8 607.5 244.4 585.2 252 600.8 249 594.8 242.2 615.8 224.6 615.9 232.9 612.2 233.7 602.7 226.5 605.2 216.5 620.9 215.7 601.5 249 599.1 256.9 617.3 226.3 613.8 196.9 608.3 242.9 598.3 232.3 586.3 248.2 616.7 257.7 610.6 247.6 615.6 202.7 599.2 242.4 586.5 222.5 596.4 211.8 584.2 241.9 619.7 236.3 617 243.8 634.5 239.9 616.5 231.2 596 233.5 614.6 213.8 594 234.4 595.1 272.1 617.1 263 617.9 246.8 591 219.4 616.4 231.3 587.3 236.6 618.8 231.6 620.7 212.5 604.5 230 601.1 222.9 601.3 246.7 601.8 251.3 598.9 244.3 602.4 218 610.9 216.4 606.1 227.4 594.6 224.7 591.3 244.5 593.8 236.7 586.9 261.8 585.2 250.8 588.7 245.1 603.3 228.1 587.3 255.5 589.8 258.4 594.7 249.1 595.9 227.7 597.6 236 589.7 236 604.6 227.5 589.3 217.6 602.7 222.6 601.5 260.8 600.8 235.7 609.3 232.3 614.4 223.2 621.9 229.1 602.3 245.3 600.6 239.2 618.6 203.9 589 217.2 586.4 220.1 610.1 221.4 621.5 249.5 611.2 240.7 590.6 213.3 603.3 241.2 609.8 224.2 605.6 235.1 600.1 224.8 603.1 238.2 614.4 244.7 596.6 229.1 600.3 244 591.2 237.6 605.2 216.5 605.3 243.2 595.9 241.2 603.5 248.6 616.1 239 598 235.9 594.7 249.9 592.3 222.3 595.7 232.8 626.4 245.7 600.4 224.8 591.3 245.7 604.6 257.3 601.5 257.4 591.9 249.3 604.6 236.6 594.8 243.9 618.9 212.2 586.8 245.5 595.5 249.2 591.1 230 614.9 229.8 595.4 255.6 600.6 226.3 604.8 239.8 586.9 237.1 604.4 230 610.7 236.6 612.9 260.5 606.9 241.5 608.7 213.3 614 223.8 586.1 241.7 611.2 244.9 607.2 243.1 611.7 239.3 606.3 223.7 602.1 232.2 609.1 235.8 596.1 235.6 614.6 225.7 605.5 246.4 620.2 229.3 624.6 258.4 606.2 250.7 594.1 257.6 598.9 258.7 597.3 256.2 605.9 227.9 614.5 240.7 593.8 236.5 616.4 260.1 620.1 235.6 601.1 244.4 598.9 231 613.8 232 616.3 255.5 596.5 235.8 589.7 272.6 613.6 207.8 615.8 242.6 599.1 218.2 596.2 248.9 614.1 238.7 606.8 227.2 600.2 211.1 612.5 220.3 603.4 209.8 620.6 206.2 629.5 215.5 621.9 213.1 620.5 214.1 605.1 233.6 609.6 211.6 597 242 591.8 239.8 614.8 234.4 608.3 249.4 605.3 218.9 585.1 243.7 593 230.3 594.9 235.8 605 229.4 603.6 234.3 607.6 225.4 627.6 237.4 606.3 213.3 613.1 220.4 592.9 230.9 606.2 228.5 606.3 229.1 608.5 234.1 609.5 229 616.9 226.3 594.2 234.9 590.5 242.6 596.5 235.2 598.5 223.3 603.2 261.5 613.9 244.3 592.8 245.1 596.6 222.5 604.2 258 619.4 215.9 602.9 245.5 610.6 252.5 596 250.1 628.3 234.5 589.2 249.2 608.3 231.8 609 219.4 604.4 233.6 590.6 232.2 592.2 251.4 603.7 212.1 593.6 236.9 601.3 259.2 609.7 245.5 585.7 249.7 613.4 225.1 602.3 229.6 600 224.1 592.4 244 607.2 250.1 607 242.2 595.4 233.9 599.7 235 597.9 212.4 616.7 194.8 596 244.4 591.2 257.5 610.2 234.5 597.4 251.4 622 216.8 592.4 262.7 612.4 205.7 608.9 238.7 598.2 222.4 619.6 224.2 616.1 234.3 613.9 221.2 623.8 223.2 594.4 233.2 587.1 247.7 607.7 224.7 602.2 241.6 596.8 250 621.6 228 591.8 226.7 590.7 247.8 604.4 228.5 597.7 211.6 612.3 222.4 610.7 228.5 602.5 218.8 626.3 221.7 616.1 214.5 590.5 255.3 607.5 238.9 596.7 227.7 595.8 230.9 588.3 239.8 605.5 221.2 602 230.7 593.9 230.9 617.4 249.3 607.7 218.1 609.4 224.9 600.9 230 610.2 230.8 606.4 212.6 600.3 239.2 616.2 201.4 588.8 237.5 596.9 247.9 604.9 194.6 593.8 242.8 587.3 253.9 591.9 216.5 606.1 223.1 610.1 232.5 597 239.3 584.7 229 595.2 230.4 599.4 238 588.6 235.3 609.4 211.8 590.5 248 593.2 236 609.5 244.6 602.7 240.3 607 259.9 623 236.3 588.5 243.2 595.9 231.7 598.3 239.6 608.9 227.9 609.2 205.4 609.7 254 608.2 225.5 585.9 265.1 595.6 217.1 603.4 228.3 598.6 250.9 594.6 248.4 594 247.5 609.4 215.4 611.5 226 584.1 243.5 611.1 236 594.2 203.6 609.4 218 612.2 216.2 630.9 223.8 600.9 246.3 598.1 234.4 600.5 218.9 626.6 228 607.9 198.8 609.1 233 598.9 255.8 611.4 216.7 602.4 210.5 600.6 208 596.6 228.5 596.2 247 588.9 242.3 593 212.9 616 253.6 588 258.5 607.4 218.1 619.7 217.6 600.5 234.2 589 236.5 598.3 254.1 597.6 243.7 609.2 258.3 598.2 225.3 609.8 227.9 595.9 253.5 610.6 233.5 592.5 238.5 595.7 210.5 595.5 243.2 601.2 249.8 609.7 214 600.3 248.4 611.9 227.6 594.2 225.9 603.6 240 603.3 234 590 245.5 604.3 233.8 589.6 211.5 602 238.4 613.9 231.4 615.2 201.9 622.5 235.8 604.8 268.3 613 184.5 596.6 248.5 587.8 234.3 595.1 216.6 600.2 235.6 605 248 594.5 242 601.2 249.4 592.6 230.9 601.5 227.6 611.2 227.9 612.9 246.5 593.5 227.3 604.4 231.1 598.7 218.8 608.9 217.8 607.9 261.9 587.7 251.3 597.6 230.5 614.9 224.4 596.6 235.9 609.6 225.9 630.6 234 600.9 245.6 614.6 239.6" class="mo"/>
<path d="M119.6 390.1 136.1 381.7 123 398.9 116.8 397.7 122.8 392.5 132.3 395.1 123.3 386.5 117.7 388.9 122.7 394.2 116.5 384.7 116.6 393.1 114.4 419.6 120.5 398.8 117.2 386 123 399.1 117.9 399.1 118.2 408.2 126.8 415.7 124.9 390 122.8 391 127.5 405.4 122 412.5 115.3 397.3 117.6 375.2 127.8 397.5 117.7 404.6 125.4 384.1 117.1 405.3 131.2 396.7 122.6 394.7 118.7 400.5 120.4 389.4 122.8 390.5 117.2 420.3 117.2 409.8 117.3 400 122.1 410.9 116.6 398.2 127 400.7 128.2 396.9 123.8 404.6 118 393.8 122.7 384.2 120.1 386 116.3 393.6 117.7 406.3 121.9 390.3 116.4 399.6 124 394.5 115.4 365.4 127.5 393.5 110.4 373.8 113.9 411.7 125.8 421.1 119.3 394.9 124.5 386.8 122.9 394 124.1 406.6 122 409.8 120.2 387.5 118.2 400.5 118 376.3 110.8 395.2 113.5 402.8 116.1 398.4 121.2 387.1 121 406.8 114.4 390.1 121.5 397.7 123.1 402.9 113 386.5 118.8 393.1 120.1 393.9 118.7 400.4 114 378 119.4 395 122.2 406.4 124.9 395.8 123.1 396.8 124.6 406.9 119.9 400.3 122.4 386.6 121.8 398.2 112.2 383.3 117.4 413.9 122.9 402.7 113.7 399.3 119.3 403.2 116.9 403.8 113.4 393.7 128.3 379.2 116.4 404.7 118.6 388.3 116.6 396.4 117.5 407 111.3 406.8 122.6 391.8 134.9 412.4 114.8 388.7 116.8 398 121.9 397 119.8 412.8 112.1 408.8 120.7 408.7 122.2 404.7 128 376 120.6 403.7 121.8 371.2 122.5 399 113.8 393.6 128.9 372.4 117.2 403.6 115.9 410.1 115.6 392 125.8 396.8 115.9 409.4 129.7 412.1 115.2 401.8 126.4 401.1 118.3 397.4 119.3 408.1 125.6 371.6 124.6 364.9 127.7 382.3 115.1 403 128.3 395.5 120.7 405.6 123.7 403.8 120.4 397.1 123.1 401.1 115.5 395.5 121.7 409 116.5 417.5 117.8 417.3 114.8 407 125.1 401.2 119 417.1 121.2 384.8 118.2 410.8 125 407.1 117.7 380.7 119.9 408.3 124.5 389.3 117.1 385.4 121 407.1 126.4 357.4 127.3 403 129.6 403 120.1 413.4 117.5 387.3 122.1 392.6 117.9 408.4 122.4 375 121 375.6 120.6 409.1 120.2 396.7 111.3 396.3 117 407.8 120.3 394.9 115.7 388.6 114.1 379.3 109.5 402.4 115.9 404.9 117.7 403.7 117.7 380.8 119.9 420.8 128.2 382.9 126.8 394.7 113.6 407.5 130.2 405.2 115.1 409.6 115.9 383.3 118.9 398.2 128.3 381.2 128.6 382.9 122.1 390 124.2 398.5 123.5 408.9 121.9 400.6 124.2 384.9 133.3 389 121.6 395.8 120.9 415.1 122 408.3 116.7 389.7 116.4 407.7 112.6 416.6 118.9 381.6 121.3 421.1 119.2 387.6 125.8 399.9 125.1 397.6 118.3 401.4 114.2 400.8 115.3 397.5 117.1 376.3 116.5 389.8 116 403.1 117.5 396.1 115.4 387.3 122.4 394.7 121.9 406.4 129.2 393.2 119.7 415.7 124 403.8 110.8 420.1 116.5 396.5 116.3 408.6 126.2 400.6 110.3 394.2 118.5 387.6 130.4 370.9 113.4 401.3 125.6 404.5 120.4 365 119.6 384.7 113.7 396 119.1 375.9 122.3 392.7 117.4 408.9 121.9 349.5 120.1 396.4 114.1 382.4 113 408.4 124 394.4 127 398 115.2 375.9 117.5 406.9 116.1 405.2 114.9 402.4 114.2 386.7 118.3 388.1 136 383.9 127.1 405.3 121.3 403.1 113.8 410.9 116.5 410.6 121.8 407.5 112.3 407.2 116.4 397.5 119.3 400.1 117 386.3 119.3 407.9 117.2 404.8 128 399.9 119.1 414 117.9 404.1 118.6 405.8 114.3 414.7 116.7 394.1 118.5 399.6 116.6 400.3 115.8 406.4 116.9 367.5 119.8 396.9 117 405 117.5 393.8 122.9 393.6 114.6 417.8 124.8 372.4 131.9 389.6 118.2 378.9 120.2 409.6 121.3 387.5 126.1 389.1 116.6 399.5 120.5 403.5 119.3 389.6 131.4 383.9 120.3 416.8 117 403.3 121.8 396.2 114.5 397.7 122.6 391.1 124.3 400.3 120.8 396.1 123.1 413.7 124.2 406.6 125.9 386.5 126.4 383.5 120.6 413.1 118.8 398.1 120.2 403.1 115.5 388 122.7 372.1 135.3 374.3 114.2 406.9 114.7 392 120.7 413.6 121.9 372 114 393.9 119.6 388.4 113.8 400 128.5 389 115.2 381.1 121.5 402.9 116.8 416.6 128.5 378.6 130.9 384.8 123.8 376.9 123.8 400.2 119.5 386.6 121.4 384.2 118.8 398.4 118.8 388.1 112.4 400 119.5 404.7 114.8 408.9 113.1 399.4 115.4 402.2 119.1 411.9 118.4 391.5 124.2 385.1 118.3 414.7 111.8 392.6 112.8 396.5 122.2 393.7 116.9 393.8 134.6 398.9 116.5 389.3 118 396.5 127 383.8 121.9 399.2 122.5 380.2 114.7 388 117.9 397.9 116.1 398.1 115.8 408.4 120.9 417.1 116.1 385.1 121.3 398.9 114.4 399.8 122.1 390.4 128.1 400.9 122 409.4 117 387.8 123.8 386.3 127.3 406.5 128.4 388.4 124.3 395.2 121.5 413.8 124.9 402.2 122.1 385.2 116 379.9 116.6 385.3 114.8 410.6 123 385.2 121.7 404.4 122.5 400.4 121.6 396.6 123.1 400 118.8 385.2 125.7 392.6 117.3 381.7 117.2 396.4 118.2 395.8 120.9 402.1 123.4 394.9 120.4 417.2 123.3 393.4 115.5 415.3 116.9 410.7 137 376.4 109.7 388.3 115.7 388.8 123 401.3 127.9 388.8 117.2 407.4 118.3 382.2 128.6 401.3 116.6 388.7 119.2 400.9 132.4 393.1 125.1 389.8 120.5 377.7 112 403.2 118.2 405 129.1 403.1 123.2 416 121.6 382.6 110.7 389.6 127.2 400.1 116 387.8 128.9 391.6 121.3 386 119.2 382.8 121.8 392.8 117.7 408.4 118.2 391.7 120.3 390.7 127.2 397.1 123 401.7 117.5 373.8 126.1 409.3 125 408.3 123.5 394.9 125.1 395.3 113.3 390.8 123 385.4 119.7 408.2 117.2 394.3 121.4 408 119.6 406.8 124.5 382.6 130.5 407.1 123.6 410.2 113.4 425.6 117.4 383.6 122.3 404.1 111.7 399.1 116.2 396.6 121.6 399 115.5 421.5 129.1 393.8 126.8 407.7 121.9 391 134.1 389.4 117.8 378.7 117.6 399 120.5 396.6 113.8 409.6 125.4 397.5 124.9 381.7 122.2 390.3 120.9 376.8 121.9 387 127.6 405.5 115.5 381.7 114.5 412.5 120.3 402 125.6 384.6 119.5 410.1 117.5 397.2 122.1 379.8 115.6 403.1 123.8 396.7 122.8 381.1 115.7 399.6 113.1 417.7 116.6 396.7 117.3 405.4 117.5 414 115.6 379 123.4 420.2 123.3 420 114.4 389 119.4 371.6 116.7 383.2 121.5 400.9 118.4 392 113.4 389.4 122.2 403.8 110.7 421.6 115.1 425.2 119.5 398.6 117.4 407.9 120.1 404.8 121.2 380.8 120.8 367.9 129.1 398.6 120.3 379.7 118.4 401.2 120.6 415.8 125.3 388.8 125.6 390.4 112.1 396.3 115.7 394.1 108.1 395.6 116.5 378 123.8 388.9 122 382.4 121.3 397.6 115.4 420.1 123 387.4 129 402.3 127.4 382.4 122 394.6 124.4 403.3 121.6 393.3 122.7 410.1 119.5 384.9 124.9 391.2 121.6 402.9 119.9 388.4 120.3 405.5 122.5 393.3 114.3 401.3 121.5 388.8 120.1 417.4 115.6 364.7 118.8 402.7 122.9 378.6 120.5 392.1 111.7 403.1 117.4 411.6 115.8 408.1 120.6 392.1 116.2 395.3 124.5 400.5 119.5 402" class="mb"/>
<path d="M145.3 381.2 150.8 363.3 147 392.4 138.5 364.2 153.3 350.8 133.3 390.6 174.5 352 183.3 366.5 151.6 371.3 177.8 373.2 169 376.4 134.3 406.5 137.3 363.9 155.2 363.6 172 350.4 147.7 367.3 143.2 378.4 148.4 356.1 152.2 382.8 170.5 348.6 151.9 371.2 155.5 365.5 155.4 357.6 174.6 378.6 142.3 392.2 139.2 352.2 145 359.9 178.5 335.7 153.6 364.8 144.4 387.4 141.4 351.2 160.8 367.3 137.5 344.7 164.8 346.9 156.8 356.8 161.5 370.1 158.1 350.3 157.2 363.6 132.7 381 152.6 377 166.7 362.3 148.7 332.1 151.2 379.8 160.3 375.2 146.1 375.8 154.2 384.1 164.1 358.1 134.9 380.9 162.4 361.1 153.2 354 166.8 337.9 160.8 368.1 179.3 362.8 176.9 335 161.3 370.1 152.3 369.7 146.1 372.4 177.7 349.9 135.1 362.8 161.5 368.2 148 391.6 154.8 367.5 146.1 344 151.5 355.1 176.1 353.1 170.2 362.4 157.9 333.6 146.7 341.6 152 365.6 156.8 358.5 138.8 365.7 141.9 365.2 171 352.7 149.5 379.5 162.5 357.5 179.7 360.3 150.8 347.6 164.2 355.8 188.2 339.6 154.3 374.1 175.1 336.5 147.4 360.1 169.9 337.6 146.9 360.4 154 370.4 129.1 372 156.2 364.2 157 357.3 157 339.5 154.5 367.5 158.5 357.5 168.4 355 160.9 392.5 151.8 357.6 149.5 369.4 156.1 350.6 148.2 359.3 166.7 365.9 168.1 361.1 171.4 370.2 139.7 356.1 144.8 358.5 156.1 371 135.8 360.6 161.6 349.8 146.6 376.2 158.4 354.7 174.4 353.6 166.9 347.7 169.8 357.6 159.8 368 168.8 344.4 161.6 376.9 164 369 156.5 362.4 145.2 375.3 160 375.1 184.6 347 148.3 371.3 152.5 396.3 158.3 361.3 144.4 375.4 174.8 351.5 142.5 376.5 161.8 352.3 143.9 366.2 143.7 376.6 168.6 352.8 166.5 364.2 167.1 353.4 138.4 380.6 149 377.8 157.6 360.6 157.8 360.1 154.8 370.5 173.3 357.1 161.5 348.6 148.4 371.6 142.8 372.8 161.3 382.8 150.3 372.7 154 361.2 140.2 357.9 143.4 385.6 171 354.5 154.4 375.4 134.3 393.9 158.1 371.1 152.9 399 171.4 354.5 148.7 359.3 143.2 373.4 143.4 375.7 153.2 379.6 136.5 357.1 128.4 357.7 158.1 364.8 153.6 366.8 155.8 356.4 143.9 367.1 152.3 373.3 133.8 390.6 133.6 351.8 155.6 359.2 177.4 333.4 146.7 399.8 159.4 357 135.5 363.4 146.6 339 180 363.3 156.9 368.7 178.3 339.8 146.8 345.4 172.5 351.1 165.7 359.8 145.7 376.2 146.9 376.3 150 373 138.7 389.9 127.5 378.9 144.1 371.5 192.6 344.3 153.7 368.9 157.2 402.9 155 355.3 139.4 362 166.6 344.2 187.5 361.9 152 393.5 137 376.7 154.5 373.7 176.6 382.9 130.6 377.3 147.6 350.1 141.6 371.8 134.3 368.3 144.3 374.8 141.8 343 139.4 361.7 148.4 370.2 151.4 377.1 167 334.2 138.6 352.2 136.9 340.5 156.4 369.2 136.5 351 162.1 360.4 147.6 374 125.9 372.1 125.5 389.6 138.3 391.7 147.5 351.1 162.2 353.8 171.9 353.3 153.1 346.6 138.4 369.3 139.5 392.6 129 353.8 136 368 153.7 385.3 170.2 352.4 150.7 363.6 175.3 335.9 144.7 399.1 162.5 355.4 175.5 354 154.2 361.1 134.7 376.1 147 384.5 155.8 345.6 148.4 340.9 151.3 382.3 154.5 368.3 168.4 361.6 171.4 342.2 135.5 366.9 149.7 369.7 164.4 359.1 152 351 144.6 359.6 126.8 369.2 148 377.8 142.5 359 131.4 373.2 160.1 358 153.1 396.6 148.7 374.1 156.9 371.4 145.7 377.1 160.4 352.6 154.1 372.8 168.7 359.3 152.3 378.3 141.5 376.1 139.8 392 147.6 372 131.4 372.8 161.7 356.8 160.3 348.8 158.9 366.6 144.5 368.2 173.2 353.7 157.1 366.3 158.4 358.5 150.3 370.2 161.8 368.4 145.6 375.4 162 332.5 159.4 354.9 142.7 351.9 178.3 357.5 155.5 356.1 149.7 372.2 137.1 385.5 163.7 352.4 152.9 345.5 141.1 375.8 143.8 369.7 157.5 359.2 123.2 380.9 150.4 376.3 178 350 155.7 383.3 133.7 366.8 146.3 344.3 141.7 363.8 136.6 366.4 137.8 368.8 167.2 371.7 132.7 361.5 133.1 333.3 147.8 366.8 166.2 379.1 144.9 363 164.4 380.4 145.1 335.8 141.6 346.1 152.5 347.7 165 371.7 160.1 368.4 168.6 355 177.1 357.4 170.7 374.8 176.7 348.6 145 375.4 163 352.8 166.2 369.6 147.9 345.5 154.4 371 138.4 364.7 153.3 360.3 143.6 373.4 163.4 356.6 155 367.3 164.8 341.9 129.1 378.7 140 377.4 142.1 384.8 167.5 362.3 154 383.9 138.1 369.6 154.9 378.6 153 402.9 158.2 374.3 142.1 370.1 136.1 393.8 145.3 381.2 157.2 371.1 139.7 361.3 150.6 360 145.2 364.6 149.4 338.3 143.1 353.4 181.2 351.2 157.6 393.8 176.5 351.3 142.4 372.4 156.9 367 161.7 361 151.8 364.5 148.8 369.6 164.1 364.4 137.7 379.9 150.7 376.5 188.8 329 145.3 375.9 161.8 363.4 123.2 357.1 150.2 353.1 126.6 342.9 167.1 358.3 178.6 356.2 162.7 344.9 154.2 384.3 157.4 334.1 176.5 328 163.4 361.1 138.2 360.2 144.2 372.3 150 381.6 160.7 351.8 173.8 357.3 174.5 343.5 137.5 371 198.4 327 126.5 353 136 375 174.7 338.9 152.9 371.8 162.4 390.9 165.1 386.2 153.3 340.4 185.7 344.7 174.7 347.2 146.5 360.3 143.8 372.2 153.5 369.4 161.9 385.4 168.2 356 183 375.8 169.3 348.3 154.9 381.8 159.8 342.5 165.7 359.5 139.7 379.1 156.9 365.3 161 359.8 147.5 356.4 175.3 362 139.6 408 191.5 328.5 152 382.7 147.3 364.4 132.9 373.1 151.4 370.6 154.2 374.1 140.2 365.8 160.7 367.1 172.3 341.2 181.8 360.3 160.6 364.1 157.4 356.8 139.8 371.4 152.4 359 156.2 362.2 150.3 349.9 162.9 369.2 139.2 388.8 137.7 396.2 154.2 380 176.3 364.7 145.4 363.7 132.4 388.2 169.4 350.5 146 373.8 167.6 371.3 159.6 361.9 143.6 381 142.3 367.5 176.8 351.4 173.6 379.5 154.8 360.9 149 377.8 163.4 358.5 148 365.4 149.6 363.6 173.5 358.5 151.2 366.7 142.5 377.6 133.9 339 157.2 369.8 141.6 397.7 163.6 332.5 175.5 370.8 157.5 375.2 134 371.9 150.8 364.3 164.7 355.4 158.3 370.8 164.3 365.4 157.7 368 143.1 365.9 137.5 360.6 167.8 380.6 162.7 349.8 181.2 349.2 157.5 366.8 169.3 339.4 149.4 372.9 165 355.5 154.9 351 152.6 362.3 157.5 347.6 138.5 368.8 151.2 355.7 163.6 365.7 175.9 321 141.9 377.3 149.7 366.7 156.6 338.4 160.2 365.7 175.6 346.8 153.2 386.6 146.4 357.3 161.1 344.2 141 369.8 169.1 366.1 147.7 378.4 162 382.7 157.5 373.8 145.8 353.7 150.8 346.3 138.2 358.8 155.5 367.5 127 378.9 152.7 375.6 184.3 345.5 148.7 362.7 146.5 364.8 134.2 384.6 146.2 371.4 134.3 382.2 165.3 332.6 147.2 378.2 154.3 354 179.9 353.9 159.4 366.5 128.1 380.7 174.6 356.6 158.6 339.7 161.8 346.7 155.5 353.3 167.3 368.9 154.9 372.5 153.4 355.3 165.5 338.8 145.7 374 174.4 342.9 129.1 362.9 159.3 379.8 184.4 366.1 155.7 368 167.3 355.9 174.8 368.7 135.9 379.7 165.3 376.9 126.8 397.8 156.8 376.9 153.2 370.9 134.7 373.7 168.4 366.5 159 377.2 141.8 368.2 164.5 362.6 159.3 338 133.1 386.5 146.9 355 165.4 362 156.6 354.3 154.1 381.7 149.8 343.5 170.2 354.2 173.4 360 158.7 337.4 157.5 396.6 155.3 332.4 163.7 354.2 160.3 355 134.9 357.3 139.8 365.3 144.3 391.4 162.3 378.5 137.9 360.4 152.3 372.2 156.9 386.1 162.1 346 168 368.8 136.9 377.7 144.8 370 163.5 386.9" class="mo"/>
<path d="M337.2 390.1 315 381.7 332.5 398.9 342.5 397.7 347.6 392.5 329 395.1 343.7 386.5 345.2 388.9 333.5 394.2 336.9 384.7 344.6 393.1 347.5 419.6 326.3 398.8 333.8 386 324.1 399.1 342.6 399.1 334 408.2 337.2 415.7 321.3 390 330.8 391 328.3 405.4 342.3 412.5 335.6 397.3 329.2 375.2 339.1 397.5 338.1 404.6 328.4 384.1 337.2 405.3 325.6 396.7 330.6 394.7 345.9 400.5 341.4 389.4 331.8 390.5 340.4 420.3 345.7 409.8 343 400 336.3 410.9 343.2 398.2 330.8 400.7 324.5 396.9 328.5 404.6 347.1 393.8 332.4 384.2 343.2 386 339.2 393.6 340.6 406.3 325.1 390.3 347.1 399.6 325.4 394.5 329.7 365.4 318.8 393.5 344.2 373.8 347.5 411.7 342.9 421.1 344 394.9 340.1 386.8 336 394 338.1 406.6 326.9 409.8 336.8 387.5 335.8 400.5 335.1 376.3 352.9 395.2 342.5 402.8 333.7 398.4 332 387.1 341.4 406.8 333.3 390.1 344.6 397.7 339.5 402.9 336.1 386.5 344.1 393.1 326.1 393.9 339.6 400.4 337.3 378 326.7 395 338.1 406.4 331.7 395.8 336.6 396.8 323.5 406.9 338.4 400.3 323.3 386.6 341.8 398.2 336.8 383.3 329.4 413.9 336.3 402.7 352.7 399.3 336.5 403.2 340.4 403.8 330.7 393.7 335.3 379.2 342 404.7 330.9 388.3 348.5 396.4 348.1 407 337.5 406.8 334.3 391.8 324.6 412.4 346 388.7 337.1 398 341.4 397 338.9 412.8 351.8 408.8 344 408.7 331.5 404.7 326.5 376 346.6 403.7 332.7 371.2 335.3 399 343.3 393.6 318.1 372.4 345.6 403.6 350.1 410.1 353 392 333.7 396.8 345.8 409.4 327.8 412.1 341.4 401.8 324.8 401.1 339.8 397.4 346.7 408.1 334.1 371.6 325.9 364.9 322.4 382.3 345 403 332 395.5 335.3 405.6 339.6 403.8 341.4 397.1 343.3 401.1 342 395.5 342.9 409 347.3 417.5 345.4 417.3 339.8 407 327.9 401.2 341.6 417.1 335.1 384.8 353.5 410.8 330.3 407.1 319.9 380.7 346.2 408.3 325.1 389.3 328.3 385.4 337.8 407.1 319.9 357.4 336 403 323.7 403 341.9 413.4 327.6 387.3 326.4 392.6 331.8 408.4 325.2 375 329.3 375.6 332.1 409.1 341.7 396.7 341.6 396.3 338 407.8 336.7 394.9 344 388.6 341.2 379.3 352.8 402.4 356.8 404.9 342.5 403.7 336.3 380.8 339.5 420.8 325 382.9 329.3 394.7 336.6 407.5 319.4 405.2 332.1 409.6 342.9 383.3 332.9 398.2 327.4 381.2 333.5 382.9 316.8 390 343.6 398.5 343.8 408.9 335.8 400.6 341 384.9 312.6 389 335.7 395.8 329.9 415.1 332.1 408.3 333.1 389.7 344.1 407.7 341.6 416.6 336.8 381.6 353.7 421.1 328.7 387.6 342.2 399.9 336.7 397.6 336.2 401.4 335.8 400.8 346.6 397.5 337.8 376.3 353.4 389.8 346.2 403.1 339.1 396.1 346.6 387.3 344.9 394.7 338.1 406.4 322.7 393.2 341.7 415.7 329.4 403.8 348.7 420.1 326.1 396.5 336.1 408.6 331.5 400.6 343.1 394.2 320.7 387.6 314.9 370.9 342 401.3 333.1 404.5 331 365 340 384.7 322.6 396 327.8 375.9 325.6 392.7 340.6 408.9 331 349.5 330.2 396.4 345.3 382.4 347.1 408.4 329.3 394.4 318.9 398 336.6 375.9 345.1 406.9 343.7 405.2 331.2 402.4 333.4 386.7 330.7 388.1 316 383.9 333.2 405.3 342.3 403.1 340.1 410.9 335.4 410.6 337.9 407.5 347.3 407.2 335.1 397.5 325.6 400.1 335.6 386.3 353.1 407.9 347.1 404.8 328 399.9 344.6 414 328.5 404.1 341 405.8 341.4 414.7 339.1 394.1 338.2 399.6 349.5 400.3 346.5 406.4 344.1 367.5 344.6 396.9 329.2 405 337.8 393.8 334.7 393.6 346.1 417.8 327.8 372.4 319.1 389.6 318.5 378.9 342.4 409.6 338.5 387.5 329.5 389.1 335.5 399.5 336.6 403.5 338.6 389.6 320.2 383.9 358.4 416.8 335.7 403.3 324.3 396.2 323.4 397.7 333.7 391.1 335.3 400.3 333.6 396.1 337.9 413.7 333.6 406.6 340 386.5 329.9 383.5 349.2 413.1 331.8 398.1 324.6 403.1 337.8 388 332.1 372.1 317.1 374.3 346.6 406.9 335 392 352.4 413.6 327.1 372 339.2 393.9 327.7 388.4 329 400 325.6 389 340.6 381.1 325.9 402.9 357.9 416.6 317.8 378.6 317.3 384.8 327 376.9 333.6 400.2 327.2 386.6 326.7 384.2 325.7 398.4 334.9 388.1 333.3 400 353.8 404.7 338.8 408.9 339.3 399.4 344 402.2 346.3 411.9 331.4 391.5 326.6 385.1 354.9 414.7 344.2 392.6 334.5 396.5 316 393.7 336.6 393.8 316.8 398.9 343.1 389.3 350.5 396.5 344.1 383.8 325.3 399.2 328.3 380.2 349.1 388 345.5 397.9 339 398.1 351.1 408.4 347.8 417.1 326.5 385.1 342.2 398.9 326.4 399.8 349 390.4 332.1 400.9 336.2 409.4 339.7 387.8 335.9 386.3 311.3 406.5 321.1 388.4 326.9 395.2 350.7 413.8 333.5 402.2 339.1 385.2 330.2 379.9 346.6 385.3 336.6 410.6 328.5 385.2 342.8 404.4 328.3 400.4 331.4 396.6 343.1 400 334.6 385.2 314.5 392.6 328.1 381.7 330.4 396.4 345.9 395.8 336.2 402.1 330.8 394.9 334.7 417.2 325.8 393.4 340.7 415.3 343.7 410.7 320.9 376.4 352.1 388.3 332.6 388.8 322.2 401.3 323.2 388.8 346.9 407.4 338.4 382.2 331.2 401.3 329 388.7 341 400.9 325.1 393.1 331.8 389.8 336.6 377.7 348.3 403.2 337.4 405 340 403.1 340.6 416 332.6 382.6 345.8 389.6 324.9 400.1 336.1 387.8 326.2 391.6 338.4 386 322.5 382.8 330.3 392.8 347.4 408.4 340.5 391.7 340.9 390.7 329.1 397.1 330.8 401.7 329.9 373.8 347.3 409.3 338.9 408.3 341.3 394.9 341.3 395.3 346.3 390.8 336 385.4 337.9 408.2 329.7 394.3 327.6 408 341.6 406.8 323.9 382.6 326.1 407.1 342.8 410.2 353.4 425.6 337.7 383.6 342 404.1 344.4 399.1 327.7 396.6 345.8 399 336.3 421.5 311.2 393.8 323.2 407.7 330.5 391 319.2 389.4 337.4 378.7 332.2 399 341.8 396.6 352.3 409.6 336.7 397.5 334.4 381.7 334.5 390.3 326.7 376.8 328.4 387 320 405.5 328.8 381.7 341.3 412.5 338.9 402 336.6 384.6 341.5 410.1 345.3 397.2 334.5 379.8 329 403.1 323.4 396.7 318.2 381.1 337.2 399.6 340.8 417.7 335.4 396.7 350.9 405.4 330.9 414 341 379 342.3 420.2 334.3 420 334.3 389 333.1 371.6 337 383.2 340.7 400.9 336.1 392 333.9 389.4 331.9 403.8 341.9 421.6 342.2 425.2 328.6 398.6 347.2 407.9 344.2 404.8 333.5 380.8 333.1 367.9 322.5 398.6 339.1 379.7 331.4 401.2 332.1 415.8 338.4 388.8 338.1 390.4 346.3 396.3 342.8 394.1 350.5 395.6 322.3 378 336.5 388.9 339.5 382.4 334.5 397.6 357.9 420.1 335.5 387.4 322.1 402.3 320.7 382.4 336 394.6 327.6 403.3 326 393.3 342.7 410.1 338.4 384.9 320.7 391.2 335.1 402.9 333 388.4 341.5 405.5 329.9 393.3 343.2 401.3 334 388.8 336.9 417.4 327.4 364.7 330.1 402.7 332.2 378.6 332.1 392.1 352.8 403.1 334.8 411.6 340.6 408.1 326.6 392.1 337.2 395.3 322.5 400.5 338.1 402" class="mb"/>
<path d="M296.6 381.2 301 363.3 304.1 392.4 308.4 364.2 295.6 350.8 311.3 390.6 306.7 352 308.9 366.5 311.3 371.3 307.2 373.2 288.4 376.4 335.4 406.5 308.7 363.9 302.3 363.6 307.2 350.4 308.3 367.3 301.6 378.4 309.1 356.1 306.2 382.8 275.6 348.6 312.7 371.2 321.6 365.5 293.9 357.6 316.7 378.6 306 392.2 300.4 352.2 303 359.9 296.6 335.7 293.6 364.8 314.7 387.4 294.5 351.2 321.9 367.3 315.9 344.7 292.8 346.9 293.1 356.8 298.2 370.1 276.5 350.3 291.9 363.6 318.4 381 315.5 377 283.6 362.3 292.6 332.1 324 379.8 286.6 375.2 328.8 375.8 301.3 384.1 301.5 358.1 308.4 380.9 308.2 361.1 301.9 354 288.5 337.9 301 368.1 300.9 362.8 283.2 335 292.7 370.1 317.3 369.7 300.2 372.4 287.1 349.9 302.7 362.8 305.8 368.2 318.4 391.6 320.7 367.5 285 344 300.3 355.1 303 353.1 301.1 362.4 314.4 333.6 295.2 341.6 287.9 365.6 304.2 358.5 309.5 365.7 336.1 365.2 292.9 352.7 313.5 379.5 290.3 357.5 302.4 360.3 288 347.6 314.9 355.8 269 339.6 302.2 374.1 279.1 336.5 311.2 360.1 293.4 337.6 315.2 360.4 311.1 370.4 308.7 372 289.2 364.2 292.1 357.3 300.4 339.5 319.8 367.5 304.3 357.5 294.1 355 307.1 392.5 304.5 357.6 304.8 369.4 300.8 350.6 298.5 359.3 303.9 365.9 292.7 361.1 315.4 370.2 293.9 356.1 307.6 358.5 312.6 371 287.7 360.6 292.7 349.8 307.6 376.2 288.6 354.7 285.1 353.6 277.5 347.7 285.7 357.6 321.6 368 278.4 344.4 304.7 376.9 296.9 369 309.3 362.4 293.5 375.3 287.2 375.1 287.7 347 305.5 371.3 314.2 396.3 309.8 361.3 311.2 375.4 308.3 351.5 309 376.5 302.1 352.3 298.2 366.2 310.2 376.6 301.9 352.8 298.2 364.2 286.1 353.4 323 380.6 311.6 377.8 298.6 360.6 312.9 360.1 298.1 370.5 289.6 357.1 308.7 348.6 309.4 371.6 306.7 372.8 297.6 382.8 305.3 372.7 307.5 361.2 297.7 357.9 319.3 385.6 278.7 354.5 291.4 375.4 322.9 393.9 290 371.1 318.5 399 293.7 354.5 309.4 359.3 318.7 373.4 294.3 375.7 301.6 379.6 294.6 357.1 300.6 357.7 291.6 364.8 310.9 366.8 297.4 356.4 313.6 367.1 317.6 373.3 300 390.6 311.4 351.8 301.8 359.2 287 333.4 318.9 399.8 319.1 357 313 363.4 289.9 339 273.1 363.3 294.8 368.7 288.8 339.8 291.2 345.4 296.6 351.1 310.5 359.8 303.9 376.2 303.3 376.3 309 373 317 389.9 317.7 378.9 291.2 371.5 284.9 344.3 309.2 368.9 332.6 402.9 296 355.3 304.4 362 291.9 344.2 284.3 361.9 292.3 393.5 327.9 376.7 296.4 373.7 312.3 382.9 320.7 377.3 296.8 350.1 301.2 371.8 295.3 368.3 298.4 374.8 305.3 343 303.5 361.7 319.2 370.2 302.7 377.1 272.8 334.2 280.1 352.2 292.9 340.5 314.7 369.2 305.3 351 301 360.4 305 374 320.1 372.1 306.3 389.6 311.9 391.7 293 351.1 289.4 353.8 294.9 353.3 315.8 346.6 317.1 369.3 308.3 392.6 310.5 353.8 294.8 368 301 385.3 281.1 352.4 289.7 363.6 294.3 335.9 307.8 399.1 286 355.4 283.7 354 291.1 361.1 308.1 376.1 301.5 384.5 301.5 345.6 308.3 340.9 316.2 382.3 312.2 368.3 281.8 361.6 301.7 342.2 304.4 366.9 311.7 369.7 307 359.1 294.1 351 298.9 359.6 327 369.2 316.4 377.8 314.1 359 313.1 373.2 290.8 358 297.7 396.6 319.6 374.1 297.4 371.4 310.9 377.1 302.2 352.6 310.4 372.8 299.8 359.3 294.6 378.3 307 376.1 295.2 392 300.2 372 317 372.8 295.8 356.8 297.4 348.8 291.5 366.6 299.2 368.2 301.6 353.7 290.5 366.3 312.4 358.5 304.1 370.2 293.8 368.4 310.4 375.4 293.8 332.5 284.6 354.9 284.6 351.9 290.9 357.5 301.1 356.1 295.3 372.2 320.4 385.5 294 352.4 291 345.5 306.3 375.8 306.5 369.7 285.9 359.2 309.2 380.9 298.5 376.3 300.7 350 306.3 383.3 301.1 366.8 282.1 344.3 297.1 363.8 319.5 366.4 311.2 368.8 297 371.7 294.5 361.5 295.9 333.3 298.9 366.8 311.3 379.1 304.6 363 301.7 380.4 301.8 335.8 309.7 346.1 293.3 347.7 306.8 371.7 283.7 368.4 289.8 355 284.4 357.4 283.5 374.8 285.5 348.6 308 375.4 297.8 352.8 301.1 369.6 282.4 345.5 301.9 371 294.8 364.7 305.5 360.3 304.7 373.4 286 356.6 301.6 367.3 272.4 341.9 323.9 378.7 296.3 377.4 315.6 384.8 291.3 362.3 299.3 383.9 308.5 369.6 321.3 378.6 314 402.9 322.3 374.3 325.2 370.1 317.8 393.8 319.7 381.2 318.9 371.1 303.4 361.3 320.9 360 296.8 364.6 298.5 338.3 302.7 353.4 290.9 351.2 315.1 393.8 295.4 351.3 306 372.4 301.7 367 306.7 361 302.8 364.5 309.9 369.6 300.4 364.4 319.5 379.9 313.9 376.5 305.5 329 307.4 375.9 307 363.4 303 357.1 307.1 353.1 309.2 342.9 302.4 358.3 296.3 356.2 302.1 344.9 311.6 384.3 281.3 334.1 294.9 328 294.2 361.1 312.2 360.2 284.1 372.3 317.5 381.6 293.9 351.8 288.4 357.3 290.3 343.5 302.7 371 291 327 304.8 353 314.7 375 303.4 338.9 304.5 371.8 289.3 390.9 320.5 386.2 300.8 340.4 283.1 344.7 293.9 347.2 290.6 360.3 310.1 372.2 306.6 369.4 311 385.4 295.2 356 290.3 375.8 296.6 348.3 303.1 381.8 302.3 342.5 320.2 359.5 334.3 379.1 294.8 365.3 284.5 359.8 302.7 356.4 289.3 362 316.8 408 280.3 328.5 325.6 382.7 299.4 364.4 312.3 373.1 310.9 370.6 302.9 374.1 313.3 365.8 311.7 367.1 303.8 341.2 292.2 360.3 310.5 364.1 297.1 356.8 290.4 371.4 307.8 359 308.9 362.2 292.1 349.9 307.5 369.2 320.9 388.8 312.3 396.2 307.5 380 315.1 364.7 312.8 363.7 318.6 388.2 286.2 350.5 299.2 373.8 308.1 371.3 305.6 361.9 298.5 381 313.3 367.5 305.7 351.4 305.6 379.5 291 360.9 315.7 377.8 310.4 358.5 306.2 365.4 305.6 363.6 320.1 358.5 298.9 366.7 329 377.6 300.3 339 292.1 369.8 334.4 397.7 296.1 332.5 287.3 370.8 317 375.2 311.8 371.9 304.3 364.3 298.9 355.4 307.1 370.8 306 365.4 299.9 368 302.1 365.9 320.7 360.6 292 380.6 301.5 349.8 294.7 349.2 298.1 366.8 282.5 339.4 301.3 372.9 295.8 355.5 305 351 298.7 362.3 308 347.6 325.8 368.8 287.2 355.7 309.8 365.7 278.4 321 316.5 377.3 307.6 366.7 289.7 338.4 291.7 365.7 292.3 346.8 317.9 386.6 309.5 357.3 295.6 344.2 301.5 369.8 327.3 366.1 315.8 378.4 317.2 382.7 311.2 373.8 293.4 353.7 302.8 346.3 315.1 358.8 307.8 367.5 331.1 378.9 303.9 375.6 285.8 345.5 316.8 362.7 321.8 364.8 323.7 384.6 307.5 371.4 292.8 382.2 296.5 332.6 319.9 378.2 287.5 354 283.6 353.9 315.7 366.5 316.1 380.7 303 356.6 301.1 339.7 287.2 346.7 295.4 353.3 283.8 368.9 310 372.5 307.9 355.3 287.6 338.8 303.5 374 299.6 342.9 321.8 362.9 295.8 379.8 290.6 366.1 319 368 291.6 355.9 308.2 368.7 309.5 379.7 298.3 376.9 303.1 397.8 294 376.9 303.3 370.9 320.9 373.7 299.6 366.5 305.2 377.2 328.6 368.2 301.6 362.6 275.9 338 342.4 386.5 291.6 355 302.8 362 316.9 354.3 301.8 381.7 292 343.5 296.7 354.2 290.9 360 305.6 337.4 308.2 396.6 308 332.4 293.2 354.2 308.4 355 305.4 357.3 315.2 365.3 315.9 391.4 281 378.5 289.4 360.4 305.9 372.2 310.7 386.1 301.6 346 309.6 368.8 303.1 377.7 293.9 370 298.7 386.9" class="mo"/>
<path d="M630.8 390.1 610.6 381.7 635.4 398.9 650 397.7 634.1 392.5 620.6 395.1 631 386.5 639.5 388.9 630.6 394.2 635.4 384.7 644.3 393.1 658.7 419.6 621.4 398.8 637.8 386 622.3 399.1 638.6 399.1 647.7 408.2 627.5 415.7 625.3 390 637.3 391 625.8 405.4 642.4 412.5 642.7 397.3 630.9 375.2 618.8 397.5 655.7 404.6 627.2 384.1 646.2 405.3 613.2 396.7 632.8 394.7 636.2 400.5 640.9 389.4 632.7 390.5 659.7 420.3 644.7 409.8 640.8 400 641.1 410.9 642.1 398.2 624.9 400.7 620.7 396.9 623.1 404.6 649.1 393.8 629.8 384.2 632.4 386 641.7 393.6 644.9 406.3 630.2 390.3 653.1 399.6 628.3 394.5 634.6 365.4 620.5 393.5 633.3 373.8 659.9 411.7 646.8 421.1 633.8 394.9 635.3 386.8 627.9 394 634.6 406.6 624.7 409.8 626.4 387.5 638.7 400.5 620.3 376.3 650.5 395.2 647.8 402.8 639.6 398.4 635.2 387.1 636.1 406.8 638.4 390.1 645.6 397.7 637.9 402.9 647.9 386.5 650.5 393.1 627.5 393.9 641.6 400.4 633.9 378 628.9 395 644.6 406.4 629.3 395.8 639.4 396.8 624.7 406.9 634.3 400.3 617.6 386.6 632.6 398.2 651.8 383.3 638.3 413.9 646 402.7 652.8 399.3 641 403.2 644.7 403.8 636 393.7 614.9 379.2 634.9 404.7 646.8 388.3 648.6 396.4 646.4 407 644.7 406.8 629.2 391.8 620 412.4 639.4 388.7 645.2 398 643.9 397 650.1 412.8 651.8 408.8 652 408.7 627 404.7 615.1 376 638.4 403.7 623.3 371.2 634.5 399 646.8 393.6 611.6 372.4 650 403.6 645.8 410.1 651.3 392 624.5 396.8 647 409.4 628.6 412.1 646.9 401.8 618.6 401.1 637.9 397.4 656.5 408.1 612.8 371.6 617.2 364.9 623.6 382.3 647 403 621.1 395.5 636.3 405.6 636.1 403.8 638.8 397.1 630.6 401.1 642.5 395.5 641.5 409 656 417.5 642.9 417.3 648.5 407 630.6 401.2 655.4 417.1 633.9 384.8 651.3 410.8 631.3 407.1 621.7 380.7 650.6 408.3 618.9 389.3 636.7 385.4 634.4 407.1 611.5 357.4 627.4 403 625 403 631.6 413.4 639.7 387.3 629.4 392.6 650.5 408.4 629 375 621.4 375.6 627.8 409.1 631.8 396.7 645.8 396.3 639.5 407.8 639.6 394.9 644.5 388.6 648.7 379.3 659.2 402.4 649.3 404.9 646.9 403.7 631.5 380.8 647.8 420.8 621.6 382.9 640.6 394.7 656.8 407.5 620.7 405.2 653 409.6 642.3 383.3 634.1 398.2 616.7 381.2 627.9 382.9 619.2 390 637.4 398.5 637.4 408.9 634.5 400.6 632.7 384.9 601.9 389 633.7 395.8 639 415.1 628.4 408.3 635.9 389.7 645.8 407.7 644.3 416.6 636.8 381.6 649.7 421.1 638.8 387.6 632.9 399.9 621.2 397.6 640.1 401.4 646.2 400.8 645.8 397.5 643.6 376.3 649.8 389.8 647.5 403.1 647.1 396.1 647.4 387.3 631.1 394.7 639.5 406.4 622.8 393.2 644.5 415.7 634.3 403.8 658.2 420.1 627 396.5 641.4 408.6 630.5 400.6 644.7 394.2 622.7 387.6 600 370.9 648.2 401.3 624.3 404.5 621.7 365 633 384.7 629.3 396 634.1 375.9 632.5 392.7 650.4 408.9 607.4 349.5 630.7 396.4 644.3 382.4 653.6 408.4 619.1 394.4 615.1 398 636.8 375.9 648.8 406.9 654.3 405.2 642.4 402.4 636.8 386.7 636.3 388.1 607.5 383.9 626.4 405.3 647.4 403.1 649.6 410.9 641.4 410.6 634.5 407.5 651 407.2 648.9 397.5 624.8 400.1 636.9 386.3 643.7 407.9 648.2 404.8 622.9 399.9 648 414 636.9 404.1 644.5 405.8 641.3 414.7 636.1 394.1 656.8 399.6 648.4 400.3 655.3 406.4 629.8 367.5 644.9 396.9 628.6 405 631.1 393.8 634 393.6 643.9 417.8 622.7 372.4 615 389.6 619.1 378.9 641.9 409.6 628.2 387.5 630.9 389.1 639.8 399.5 633.7 403.5 632.7 389.6 616.2 383.9 650.2 416.8 633 403.3 624.2 396.2 630.3 397.7 623.3 391.1 634.5 400.3 627 396.1 642.3 413.7 637 406.6 624 386.5 624.2 383.5 647.8 413.1 640.5 398.1 635.7 403.1 643.6 388 623.8 372.1 609.8 374.3 647.3 406.9 650.2 392 645.4 413.6 613.6 372 637.5 393.9 636.1 388.4 640.4 400 618.4 389 647.7 381.1 634.9 402.9 661 416.6 609.8 378.6 599.8 384.8 624.1 376.9 638 400.2 643.5 386.6 623.1 384.2 631.7 398.4 640.1 388.1 650.3 400 645 404.7 651.1 408.9 642.5 399.4 647.2 402.2 645.2 411.9 635.9 391.5 625 385.1 660.4 414.7 641.2 392.6 637.1 396.5 625.6 393.7 643.5 393.8 614.6 398.9 635.1 389.3 642.2 396.5 625.8 383.8 620.6 399.2 621.9 380.2 640.3 388 638.5 397.9 644.2 398.1 659 408.4 656.6 417.1 629.9 385.1 626.4 398.9 633.5 399.8 632.2 390.4 627.2 400.9 633.2 409.4 651.3 387.8 623.6 386.3 616.9 406.5 618.6 388.4 622 395.2 644.8 413.8 635.1 402.2 639.5 385.2 637 379.9 639.9 385.3 646.4 410.6 626.1 385.2 640.2 404.4 626 400.4 637.2 396.6 638.4 400 631.7 385.2 622.8 392.6 630.4 381.7 631.4 396.4 642.5 395.8 629.7 402.1 619.3 394.9 634.8 417.2 619.7 393.4 646.3 415.3 650.1 410.7 602.3 376.4 664.1 388.3 629.4 388.8 623.4 401.3 627.4 388.8 655.2 407.4 635.8 382.2 627.4 401.3 631.5 388.7 642.3 400.9 614.6 393.1 629.4 389.8 629.7 377.7 660.6 403.2 648 405 627.9 403.1 638.7 416 628.4 382.6 648.4 389.6 618.9 400.1 637.5 387.8 632.5 391.6 634.4 386 626.9 382.8 620.7 392.8 638.1 408.4 638.6 391.7 631.6 390.7 620.3 397.1 627.4 401.7 630.3 373.8 642 409.3 626.1 408.3 635.4 394.9 637 395.3 642.7 390.8 635.4 385.4 648.5 408.2 638.9 394.3 633 408 648.8 406.8 621.8 382.6 619.8 407.1 642 410.2 664.4 425.6 649.4 383.6 636.5 404.1 637.9 399.1 638.3 396.6 634.7 399 650.1 421.5 612.3 393.8 622.1 407.7 622.8 391 610.7 389.4 633.9 378.7 633.4 399 627.5 396.6 650.4 409.6 636.4 397.5 620.8 381.7 639.3 390.3 632.4 376.8 630.8 387 624.4 405.5 625.1 381.7 658.8 412.5 641.4 402 623.7 384.6 639 410.1 637.8 397.2 629.3 379.8 634.9 403.1 628.8 396.7 619.9 381.1 642.9 399.6 653.1 417.7 649.4 396.7 652.1 405.4 636.1 414 638.4 379 650.7 420.2 643 420 639.8 389 629.6 371.6 634.8 383.2 639.7 400.9 647.6 392 649.9 389.4 634.7 403.8 652.5 421.6 653.9 425.2 625.8 398.6 652.3 407.9 641.3 404.8 624.1 380.8 624.7 367.9 616.8 398.6 636.2 379.7 643 401.2 648.8 415.8 630.4 388.8 624.7 390.4 655.6 396.3 641 394.1 655.1 395.6 633.5 378 631.8 388.9 628 382.4 635.4 397.6 660.8 420.1 631.6 387.4 617.2 402.3 618.9 382.4 626.4 394.6 632.1 403.3 630.2 393.3 639.2 410.1 633.7 384.9 629.8 391.2 639.4 402.9 631.1 388.4 643.1 405.5 619.4 393.3 649.4 401.3 630.9 388.8 645.5 417.4 626.4 364.7 628 402.7 624.1 378.6 639 392.1 641.2 403.1 636.5 411.6 648.4 408.1 631.2 392.1 631 395.3 623.2 400.5 638.5 402" class="mb"/>
<path d="M605.7 381.2 601.3 363.3 597.4 392.4 622.1 364.2 597.3 350.8 600.5 390.6 608.9 352 597.7 366.5 609.7 371.3 599.3 373.2 592.9 376.4 608.7 406.5 613.1 363.9 609.5 363.6 614.5 350.4 615.5 367.3 610.4 378.4 590.3 356.1 596.6 382.8 602.9 348.6 621.6 371.2 602.6 365.5 619.1 357.6 616.6 378.6 595.1 392.2 594.2 352.2 599.9 359.9 586 335.7 601.6 364.8 616.5 387.4 620.1 351.2 599.5 367.3 595.3 344.7 610.8 346.9 593.6 356.8 605 370.1 608.2 350.3 599.7 363.6 612.7 381 610.5 377 611.2 362.3 599.6 332.1 610.6 379.8 600 375.2 602.5 375.8 616.7 384.1 604.5 358.1 622.3 380.9 613.6 361.1 589.3 354 611.2 337.9 612.6 368.1 608 362.8 589.2 335 610.7 370.1 598.2 369.7 615.9 372.4 604.1 349.9 610.1 362.8 616.5 368.2 617.1 391.6 596.4 367.5 616.1 344 607.9 355.1 593.4 353.1 600.9 362.4 611.8 333.6 611.6 341.6 590.7 365.6 597.5 358.5 595.2 365.7 610.6 365.2 602.7 352.7 598 379.5 594.8 357.5 591.5 360.3 598.4 347.6 604.7 355.8 583.8 339.6 598.9 374.1 597.7 336.5 599.3 360.1 608.3 337.6 616 360.4 606.5 370.4 630.5 372 617.6 364.2 614.4 357.3 600.6 339.5 604.3 367.5 600.4 357.5 602.6 355 611.2 392.5 596.7 357.6 607.6 369.4 608.6 350.6 627.1 359.3 603.8 365.9 589.1 361.1 605.9 370.2 598.4 356.1 607.3 358.5 598.9 371 610.7 360.6 589.9 349.8 603.7 376.2 605.1 354.7 586.7 353.6 594.3 347.7 598 357.6 605.4 368 606.8 344.4 603.4 376.9 592 369 614.4 362.4 600 375.3 603.3 375.1 584.9 347 604.3 371.3 602.7 396.3 594.6 361.3 617.8 375.4 594.5 351.5 601.1 376.5 616.8 352.3 604.9 366.2 611.8 376.6 599.2 352.8 591.1 364.2 590.1 353.4 616.9 380.6 596.2 377.8 594.1 360.6 598.7 360.1 608.2 370.5 602.8 357.1 593.8 348.6 608.6 371.6 586.7 372.8 598.9 382.8 601.2 372.7 631.6 361.2 622.6 357.9 609.8 385.6 605.1 354.5 619.6 375.4 598.8 393.9 601.8 371.1 594.7 399 604.8 354.5 611 359.3 585.4 373.4 611.5 375.7 609.1 379.6 591.4 357.1 611.9 357.7 613.7 364.8 590.6 366.8 602 356.4 590.7 367.1 610 373.3 606.9 390.6 610 351.8 606.1 359.2 600.9 333.4 609 399.8 609.4 357 614 363.4 604.4 339 589.1 363.3 607.5 368.7 585.2 339.8 600.8 345.4 594.8 351.1 615.8 359.8 615.9 376.2 612.2 376.3 602.7 373 605.2 389.9 620.9 378.9 601.5 371.5 599.1 344.3 617.3 368.9 613.8 402.9 608.3 355.3 598.3 362 586.3 344.2 616.7 361.9 610.6 393.5 615.6 376.7 599.2 373.7 586.5 382.9 596.4 377.3 584.2 350.1 619.7 371.8 617 368.3 634.5 374.8 616.5 343 596 361.7 614.6 370.2 594 377.1 595.1 334.2 617.1 352.2 617.9 340.5 591 369.2 616.4 351 587.3 360.4 618.8 374 620.7 372.1 604.5 389.6 601.1 391.7 601.3 351.1 601.8 353.8 598.9 353.3 602.4 346.6 610.9 369.3 606.1 392.6 594.6 353.8 591.3 368 593.8 385.3 586.9 352.4 585.2 363.6 588.7 335.9 603.3 399.1 587.3 355.4 589.8 354 594.7 361.1 595.9 376.1 597.6 384.5 589.7 345.6 604.6 340.9 589.3 382.3 602.7 368.3 601.5 361.6 600.8 342.2 609.3 366.9 614.4 369.7 621.9 359.1 602.3 351 600.6 359.6 618.6 369.2 589 377.8 586.4 359 610.1 373.2 621.5 358 611.2 396.6 590.6 374.1 603.3 371.4 609.8 377.1 605.6 352.6 600.1 372.8 603.1 359.3 614.4 378.3 596.6 376.1 600.3 392 591.2 372 605.2 372.8 605.3 356.8 595.9 348.8 603.5 366.6 616.1 368.2 598 353.7 594.7 366.3 592.3 358.5 595.7 370.2 626.4 368.4 600.4 375.4 591.3 332.5 604.6 354.9 601.5 351.9 591.9 357.5 604.6 356.1 594.8 372.2 618.9 385.5 586.8 352.4 595.5 345.5 591.1 375.8 614.9 369.7 595.4 359.2 600.6 380.9 604.8 376.3 586.9 350 604.4 383.3 610.7 366.8 612.9 344.3 606.9 363.8 608.7 366.4 614 368.8 586.1 371.7 611.2 361.5 607.2 333.3 611.7 366.8 606.3 379.1 602.1 363 609.1 380.4 596.1 335.8 614.6 346.1 605.5 347.7 620.2 371.7 624.6 368.4 606.2 355 594.1 357.4 598.9 374.8 597.3 348.6 605.9 375.4 614.5 352.8 593.8 369.6 616.4 345.5 620.1 371 601.1 364.7 598.9 360.3 613.8 373.4 616.3 356.6 596.5 367.3 589.7 341.9 613.6 378.7 615.8 377.4 599.1 384.8 596.2 362.3 614.1 383.9 606.8 369.6 600.2 378.6 612.5 402.9 603.4 374.3 620.6 370.1 629.5 393.8 621.9 381.2 620.5 371.1 605.1 361.3 609.6 360 597 364.6 591.8 338.3 614.8 353.4 608.3 351.2 605.3 393.8 585.1 351.3 593 372.4 594.9 367 605 361 603.6 364.5 607.6 369.6 627.6 364.4 606.3 379.9 613.1 376.5 592.9 329 606.2 375.9 606.3 363.4 608.5 357.1 609.5 353.1 616.9 342.9 594.2 358.3 590.5 356.2 596.5 344.9 598.5 384.3 603.2 334.1 613.9 328 592.8 361.1 596.6 360.2 604.2 372.3 619.4 381.6 602.9 351.8 610.6 357.3 596 343.5 628.3 371 589.2 327 608.3 353 609 375 604.4 338.9 590.6 371.8 592.2 390.9 603.7 386.2 593.6 340.4 601.3 344.7 609.7 347.2 585.7 360.3 613.4 372.2 602.3 369.4 600 385.4 592.4 356 607.2 375.8 607 348.3 595.4 381.8 599.7 342.5 597.9 359.5 616.7 379.1 596 365.3 591.2 359.8 610.2 356.4 597.4 362 622 408 592.4 328.5 612.4 382.7 608.9 364.4 598.2 373.1 619.6 370.6 616.1 374.1 613.9 365.8 623.8 367.1 594.4 341.2 587.1 360.3 607.7 364.1 602.2 356.8 596.8 371.4 621.6 359 591.8 362.2 590.7 349.9 604.4 369.2 597.7 388.8 612.3 396.2 610.7 380 602.5 364.7 626.3 363.7 616.1 388.2 590.5 350.5 607.5 373.8 596.7 371.3 595.8 361.9 588.3 381 605.5 367.5 602 351.4 593.9 379.5 617.4 360.9 607.7 377.8 609.4 358.5 600.9 365.4 610.2 363.6 606.4 358.5 600.3 366.7 616.2 377.6 588.8 339 596.9 369.8 604.9 397.7 593.8 332.5 587.3 370.8 591.9 375.2 606.1 371.9 610.1 364.3 597 355.4 584.7 370.8 595.2 365.4 599.4 368 588.6 365.9 609.4 360.6 590.5 380.6 593.2 349.8 609.5 349.2 602.7 366.8 607 339.4 623 372.9 588.5 355.5 595.9 351 598.3 362.3 608.9 347.6 609.2 368.8 609.7 355.7 608.2 365.7 585.9 321 595.6 377.3 603.4 366.7 598.6 338.4 594.6 365.7 594 346.8 609.4 386.6 611.5 357.3 584.1 344.2 611.1 369.8 594.2 366.1 609.4 378.4 612.2 382.7 630.9 373.8 600.9 353.7 598.1 346.3 600.5 358.8 626.6 367.5 607.9 378.9 609.1 375.6 598.9 345.5 611.4 362.7 602.4 364.8 600.6 384.6 596.6 371.4 596.2 382.2 588.9 332.6 593 378.2 616 354 588 353.9 607.4 366.5 619.7 380.7 600.5 356.6 589 339.7 598.3 346.7 597.6 353.3 609.2 368.9 598.2 372.5 609.8 355.3 595.9 338.8 610.6 374 592.5 342.9 595.7 362.9 595.5 379.8 601.2 366.1 609.7 368 600.3 355.9 611.9 368.7 594.2 379.7 603.6 376.9 603.3 397.8 590 376.9 604.3 370.9 589.6 373.7 602 366.5 613.9 377.2 615.2 368.2 622.5 362.6 604.8 338 613 386.5 596.6 355 587.8 362 595.1 354.3 600.2 381.7 605 343.5 594.5 354.2 601.2 360 592.6 337.4 601.5 396.6 611.2 332.4 612.9 354.2 593.5 355 604.4 357.3 598.7 365.3 608.9 391.4 607.9 378.5 587.7 360.4 597.6 372.2 614.9 386.1 596.6 346 609.6 368.8 630.6 377.7 600.9 370 614.6 386.9" class="mo"/>
<path d="M119.6 523.9 136.1 548.6 123 518.3 116.8 500.3 122.8 519.8 132.3 536.4 123.3 523.6 117.7 513.2 122.7 524.1 116.5 518.3 116.6 507.4 114.4 489.7 120.5 535.4 117.2 515.3 123 534.3 117.9 514.3 118.2 503.2 126.8 527.9 124.9 530.7 122.8 515.9 127.5 530 122 509.7 115.3 509.3 117.6 523.8 127.8 538.5 117.7 493.3 125.4 528.3 117.1 505 131.2 545.4 122.6 521.5 118.7 517.3 120.4 511.5 122.8 521.5 117.2 488.5 117.2 506.9 117.3 511.6 122.1 511.2 116.6 510 127 531.1 128.2 536.2 123.8 533.3 118 501.4 122.7 525.1 120.1 522 116.3 510.5 117.7 506.6 121.9 524.7 116.4 496.5 124 526.9 115.4 519.2 127.5 536.5 110.4 520.9 113.9 488.2 125.8 504.3 119.3 520.2 124.5 518.3 122.9 527.4 124.1 519.2 122 531.3 120.2 529.3 118.2 514.3 118 536.7 110.8 499.7 113.5 503 116.1 513.1 121.2 518.5 121 517.3 114.4 514.5 121.5 505.8 123.1 515.2 113 502.9 118.8 499.7 120.1 527.9 118.7 510.6 114 520.1 119.4 526.3 122.2 506.9 124.9 525.7 123.1 513.3 124.6 531.3 119.9 519.6 122.4 540.1 121.8 521.7 112.2 498.2 117.4 514.7 122.9 505.2 113.7 496.9 119.3 511.4 116.9 506.9 113.4 517.5 128.3 543.4 116.4 518.9 118.6 504.3 116.6 502.1 117.5 504.8 111.3 506.9 122.6 525.9 134.9 537.1 114.8 513.3 116.8 506.3 121.9 507.9 119.8 500.2 112.1 498.1 120.7 497.9 122.2 528.5 128 543.1 120.6 514.5 121.8 533.1 122.5 519.3 113.8 504.3 128.9 547.5 117.2 500.4 115.9 505.5 115.6 498.7 125.8 531.6 115.9 504 129.7 526.6 115.2 504.2 126.4 538.9 118.3 515.2 119.3 492.4 125.6 546 124.6 540.6 127.7 532.7 115.1 504 128.3 535.8 120.7 517.1 123.7 517.4 120.4 514.1 123.1 524.2 115.5 509.6 121.7 510.8 116.5 493 117.8 509 114.8 502.2 125.1 524.2 119 493.7 121.2 520.1 118.2 498.7 125 523.3 117.7 535.1 119.9 499.6 124.5 538.5 117.1 516.6 121 519.5 126.4 547.5 127.3 528 129.6 531.1 120.1 522.9 117.5 513 122.1 525.7 117.9 499.8 122.4 526 121 535.4 120.6 527.5 120.2 522.6 111.3 505.5 117 513.3 120.3 513.1 115.7 507.1 114.1 501.9 109.5 489 115.9 501.1 117.7 504.2 117.7 523.1 119.9 503 128.2 535.1 126.8 511.9 113.6 492 130.2 536.3 115.1 496.6 115.9 509.8 118.9 519.8 128.3 541.2 128.6 527.4 122.1 538.1 124.2 515.8 123.5 515.8 121.9 519.4 124.2 521.6 133.3 559.3 121.6 520.3 120.9 513.8 122 526.8 116.7 517.7 116.4 505.5 112.6 507.3 118.9 516.6 121.3 500.7 119.2 514.1 125.8 521.3 125.1 535.6 118.3 512.5 114.2 505 115.3 505.5 117.1 508.2 116.5 500.6 116 503.4 117.5 503.8 115.4 503.5 122.4 523.5 121.9 513.2 129.2 533.7 119.7 507.1 124 519.6 110.8 490.2 116.5 528.5 116.3 510.9 126.2 524.2 110.3 506.8 118.5 533.8 130.4 561.7 113.4 502.5 125.6 531.9 120.4 535 119.6 521.2 113.7 525.7 119.1 519.8 122.3 521.9 117.4 499.9 121.9 552.6 120.1 524.1 114.1 507.4 113 495.9 124 538.2 127 543.2 115.2 516.5 117.5 501.8 116.1 495 114.9 509.7 114.2 516.5 118.3 517.1 136 552.4 127.1 529.2 121.3 503.6 113.8 500.8 116.5 510.9 121.8 519.4 112.3 499.1 116.4 501.6 119.3 531.2 117 516.4 119.3 508 117.2 502.5 128 533.5 119.1 502.8 117.9 516.4 118.6 507 114.3 511 116.7 517.4 118.5 492 116.6 502.2 115.8 493.8 116.9 525.1 119.8 506.6 117 526.6 117.5 523.5 122.9 520 114.6 507.8 124.8 533.8 131.9 543.3 118.2 538.2 120.2 510.2 121.3 527.1 126.1 523.8 116.6 512.8 120.5 520.3 119.3 521.5 131.4 541.8 120.3 500.1 117 521.2 121.8 532 114.5 524.5 122.6 533.1 124.3 519.4 120.8 528.6 123.1 509.8 124.2 516.3 125.9 532.2 126.4 532 120.6 503 118.8 511.9 120.2 517.9 115.5 508.1 122.7 532.5 135.3 549.6 114.2 503.7 114.7 500.1 120.7 506 121.9 545 114 515.6 119.6 517.4 113.8 512.1 128.5 539.1 115.2 503.2 121.5 518.9 116.8 486.9 128.5 549.6 130.9 561.9 123.8 532.1 123.8 515 119.5 508.3 121.4 533.3 118.8 522.8 118.8 512.5 112.4 499.9 119.5 506.4 114.8 499 113.1 509.6 115.4 503.7 119.1 506.2 118.4 517.6 124.2 531 118.3 487.5 111.8 511.1 112.8 516.1 122.2 530.3 116.9 508.3 134.6 543.7 116.5 518.6 118 509.9 127 530 121.9 536.4 122.5 534.8 114.7 512.3 117.9 514.4 116.1 507.4 115.8 489.3 120.9 492.3 116.1 525 121.3 529.3 114.4 520.5 122.1 522.1 128.1 528.3 122 520.9 117 498.8 123.8 532.8 127.3 540.9 128.4 538.8 124.3 534.7 121.5 506.8 124.9 518.6 122.1 513.2 116 516.3 116.6 512.7 114.8 504.8 123 529.6 121.7 512.4 122.5 529.7 121.6 516 123.1 514.6 118.8 522.8 125.7 533.7 117.3 524.4 117.2 523.1 118.2 509.6 120.9 525.2 123.4 538 120.4 519 123.3 537.5 115.5 504.9 116.9 500.2 137 558.9 109.7 483 115.7 525.6 123 533 127.9 528.1 117.2 493.9 118.3 517.8 128.6 528.1 116.6 523 119.2 509.8 132.4 543.8 125.1 525.6 120.5 525.3 112 487.4 118.2 502.8 129.1 527.4 123.2 514.2 121.6 526.9 110.7 502.3 127.2 538.5 116 515.6 128.9 521.8 121.3 519.5 119.2 528.7 121.8 536.3 117.7 515 118.2 514.3 120.3 522.9 127.2 536.8 123 528.1 117.5 524.5 126.1 510.1 125 529.7 123.5 518.2 125.1 516.3 113.3 509.3 123 518.3 119.7 502.2 117.2 513.9 121.4 521.1 119.6 501.8 124.5 534.9 130.5 537.4 123.6 510.1 113.4 482.7 117.4 501.1 122.3 516.9 111.7 515.1 116.2 514.6 121.6 519.2 115.5 500.3 129.1 546.6 126.8 534.6 121.9 533.7 134.1 548.6 117.8 520 117.6 520.7 120.5 528 113.8 499.9 125.4 517.1 124.9 536.2 122.2 513.4 120.9 522 121.9 523.8 127.6 531.8 115.5 530.9 114.5 489.6 120.3 510.8 125.6 532.6 119.5 513.8 117.5 515.3 122.1 525.8 115.6 518.9 123.8 526.3 122.8 537.2 115.7 509 113.1 496.5 116.6 501.1 117.3 497.8 117.5 517.4 115.6 514.6 123.4 499.4 123.3 508.9 114.4 512.8 119.4 525.4 116.7 519 121.5 512.9 118.4 503.3 113.4 500.5 122.2 519.1 110.7 497.3 115.1 495.6 119.5 530 117.4 497.6 120.1 511 121.2 532.1 120.8 531.3 129.1 541.1 120.3 517.3 118.4 508.9 120.6 501.8 125.3 524.3 125.6 531.4 112.1 493.5 115.7 511.4 108.1 494.1 116.5 520.6 123.8 522.6 122 527.4 121.3 518.3 115.4 487.2 123 523 129 540.6 127.4 538.5 122 529.2 124.4 522.3 121.6 524.6 122.7 513.6 119.5 520.3 124.9 525.2 121.6 513.4 119.9 523.5 120.3 508.8 122.5 537.8 114.3 501.1 121.5 523.8 120.1 505.9 115.6 529.3 118.8 527.3 122.9 532.1 120.5 513.8 111.7 511.2 117.4 516.8 115.8 502.3 120.6 523.4 116.2 523.7 124.5 533.2 119.5 514.5" class="mb"/>
<path d="M145.3 554.7 150.8 560.1 147 564.8 138.5 534.6 153.3 565 133.3 561 174.5 550.7 183.3 564.4 151.6 549.8 177.8 562.5 169 570.4 134.3 550.9 137.3 545.6 155.2 550.1 172 543.9 147.7 542.6 143.2 548.9 148.4 573.6 152.2 565.8 170.5 558.1 151.9 535.1 155.5 558.4 155.4 538.3 174.6 541.4 142.3 567.6 139.2 568.8 145 561.8 178.5 578.8 153.6 559.7 144.4 541.4 141.4 537 160.8 562.3 137.5 567.5 164.8 548.4 156.8 569.5 161.5 555.5 158.1 551.6 157.2 562 132.7 546.1 152.6 548.8 166.7 547.9 148.7 562.2 151.2 548.6 160.3 561.7 146.1 558.6 154.2 541.1 164.1 556.2 134.9 534.3 162.4 545 153.2 574.8 166.8 548 160.8 546.2 179.3 551.9 176.9 574.9 161.3 548.6 152.3 563.8 146.1 542.1 177.7 556.6 135.1 549.3 161.5 541.4 148 540.6 154.8 566 146.1 541.9 151.5 552 176.1 569.7 170.2 560.6 157.9 547.2 146.7 547.4 152 573.1 156.8 564.8 138.8 567.6 141.9 548.7 171 558.3 149.5 564.1 162.5 568 179.7 572.1 150.8 563.6 164.2 555.9 188.2 581.5 154.3 563 175.1 564.5 147.4 562.6 169.9 551.5 146.9 542.1 154 553.6 129.1 524.2 156.2 540.1 157 544 157 560.9 154.5 556.4 158.5 561.2 168.4 558.5 160.9 548 151.8 565.8 149.5 552.3 156.1 551.1 148.2 528.5 166.7 556.9 168.1 575.1 171.4 554.4 139.7 563.6 144.8 552.7 156.1 563 135.8 548.5 161.6 574 146.6 557.1 158.4 555.4 174.4 578 166.9 568.7 169.8 564.1 159.8 555.1 168.8 553.3 161.6 557.4 164 571.5 156.5 544 145.2 561.7 160 557.7 184.6 580.2 148.3 556.4 152.5 558.3 158.3 568.3 144.4 539.8 174.8 568.4 142.5 560.3 161.8 541.1 143.9 555.6 143.7 547.1 168.6 562.6 166.5 572.6 167.1 573.9 138.4 541 149 566.4 157.6 568.9 157.8 563.3 154.8 551.6 173.3 558.2 161.5 569.2 148.4 551.1 142.8 577.9 161.3 563 150.3 560.2 154 522.9 140.2 533.9 143.4 549.7 171 555.5 154.4 537.6 134.3 563.2 158.1 559.4 152.9 568.1 171.4 555.8 148.7 548.2 143.2 579.5 143.4 547.5 153.2 550.5 136.5 572.2 128.4 547 158.1 544.8 153.6 573.2 155.8 559.2 143.9 573.1 152.3 549.5 133.8 553.2 133.6 549.4 155.6 554.2 177.4 560.6 146.7 550.7 159.4 550.2 135.5 544.5 146.6 556.3 180 575 156.9 552.5 178.3 579.8 146.8 560.7 172.5 568 165.7 542.2 145.7 542.2 146.9 546.7 150 558.4 138.7 555.2 127.5 536 144.1 559.8 192.6 562.7 153.7 540.4 157.2 544.7 155 551.4 139.4 563.8 166.6 578.5 187.5 541.2 152 548.6 137 542.6 154.5 562.7 176.6 578.2 130.6 566.1 147.6 581 141.6 537.5 134.3 540.8 144.3 519.4 141.8 541.4 139.4 566.5 148.4 543.8 151.4 569 167 567.6 138.6 540.6 136.9 539.7 156.4 572.6 136.5 541.6 162.1 577.3 147.6 538.5 125.9 536.3 125.5 556.2 138.3 560.3 147.5 560 162.2 559.5 171.9 563.1 153.1 558.7 138.4 548.3 139.5 554.2 129 568.2 136 572.3 153.7 569.2 170.2 577.7 150.7 579.8 175.3 575.6 144.7 557.6 162.5 577.3 175.5 574.2 154.2 568.2 134.7 566.7 147 564.6 155.8 574.3 148.4 556 151.3 574.8 154.5 558.3 168.4 559.8 171.4 560.6 135.5 550.2 149.7 544 164.4 534.9 152 558.9 144.6 560.9 126.8 538.9 148 575.2 142.5 578.3 131.4 549.2 160.1 535.3 153.1 548 148.7 573.1 156.9 557.6 145.7 549.7 160.4 554.8 154.1 561.6 168.7 557.8 152.3 544 141.5 565.9 139.8 561.3 147.6 572.5 131.4 555.3 161.7 555.1 160.3 566.7 158.9 557.4 144.5 541.9 173.2 564.1 157.1 568.1 158.4 571.1 150.3 566.9 161.8 529.3 145.6 561.2 162 572.3 159.4 556 142.7 559.8 178.3 571.5 155.5 556.1 149.7 568.1 137.1 538.5 163.7 577.9 152.9 567.2 141.1 572.6 143.8 543.4 157.5 567.4 123.2 560.9 150.4 555.7 178 577.7 155.7 556.3 133.7 548.6 146.3 545.8 141.7 553.2 136.6 551 137.8 544.5 167.2 578.7 132.7 547.9 133.1 552.8 147.8 547.3 166.2 554 144.9 559 164.4 550.4 145.1 566.5 141.6 543.7 152.5 554.9 165 536.8 160.1 531.5 168.6 554 177.1 568.9 170.7 563 176.7 564.9 145 554.4 163 543.8 166.2 569.2 147.9 541.5 154.4 537 138.4 560.3 153.3 563 143.6 544.7 163.4 541.7 155 566 164.8 574.3 129.1 545 140 542.3 142.1 562.8 167.5 566.3 154 544.3 138.1 553.3 154.9 561.4 153 546.4 158.2 557.5 142.1 536.5 136.1 525.5 145.3 534.8 157.2 536.6 139.7 555.5 150.6 549.9 145.2 565.4 149.4 571.7 143.1 543.5 181.2 551.5 157.6 555.2 176.5 579.9 142.4 570.2 156.9 567.9 161.7 555.5 151.8 557.3 148.8 552.3 164.1 527.8 137.7 554 150.7 545.6 188.8 570.4 145.3 554 161.8 553.9 123.2 551.2 150.2 550 126.6 541 167.1 568.8 178.6 573.3 162.7 565.9 154.2 563.5 157.4 557.8 176.5 544.6 163.4 570.5 138.2 565.9 144.2 556.5 150 537.9 160.7 558.1 173.8 548.6 174.5 566.5 137.5 526.9 198.4 574.9 126.5 551.5 136 550.7 174.7 556.3 152.9 573.2 162.4 571.3 165.1 557.1 153.3 569.5 185.7 560 174.7 549.8 146.5 579.2 143.8 545.2 153.5 558.8 161.9 561.7 168.2 570.9 183 552.8 169.3 553 154.9 567.3 159.8 562 165.7 564.2 139.7 541.2 156.9 566.5 161 572.5 147.5 549.1 175.3 564.9 139.6 534.7 191.5 571 152 546.5 147.3 550.7 132.9 563.9 151.4 537.6 154.2 541.9 140.2 544.7 160.7 532.5 172.3 568.5 181.8 577.5 160.6 552.2 157.4 558.9 139.8 565.5 152.4 535.2 156.2 571.7 150.3 573.1 162.9 556.3 139.2 564.4 137.7 546.6 154.2 548.5 176.3 558.7 145.4 529.3 132.4 541.9 169.4 573.3 146 552.4 167.6 565.7 159.6 566.8 143.6 576 142.3 554.9 176.8 559.2 173.6 569.1 154.8 540.3 149 552.2 163.4 550.1 148 560.5 149.6 549.2 173.5 553.9 151.2 561.3 142.5 541.8 133.9 575.4 157.2 565.4 141.6 555.6 163.6 569.3 175.5 577.2 157.5 571.6 134 554.2 150.8 549.3 164.7 565.4 158.3 580.5 164.3 567.6 157.7 562.3 143.1 575.6 137.5 550.1 167.8 573.3 162.7 570 181.2 550 157.5 558.4 169.3 553 149.4 533.4 165 575.8 154.9 566.7 152.6 563.7 157.5 550.7 138.5 550.4 151.2 549.8 163.6 551.6 175.9 578.9 141.9 567 149.7 557.4 156.6 563.4 160.2 568.3 175.6 569 153.2 550.1 146.4 547.5 161.1 581.2 141 548.1 169.1 568.8 147.7 550.1 162 546.7 157.5 523.8 145.8 560.5 150.8 564 138.2 561 155.5 529 127 552 152.7 550.5 184.3 563.1 148.7 547.7 146.5 558.7 134.2 561 146.2 565.9 134.3 566.3 165.3 575.3 147.2 570.2 154.3 542 179.9 576.4 159.4 552.6 128.1 537.4 174.6 561.1 158.6 575.2 161.8 563.7 155.5 564.6 167.3 550.4 154.9 563.9 153.4 549.6 165.5 566.7 145.7 548.6 174.4 570.8 129.1 566.9 159.3 567.2 184.4 560.1 155.7 549.7 167.3 561.2 174.8 547.1 135.9 568.8 165.3 557.2 126.8 557.7 156.8 573.9 153.2 556.4 134.7 574.4 168.4 559.2 159 544.6 141.8 543 164.5 534 159.3 555.7 133.1 545.8 146.9 565.8 165.4 576.7 156.6 567.7 154.1 561.4 149.8 555.6 170.2 568.3 173.4 560.2 158.7 570.8 157.5 559.8 155.3 548 163.7 545.8 160.3 569.6 134.9 556.3 139.8 563.2 144.3 550.8 162.3 551.9 137.9 576.7 152.3 564.6 156.9 543.4 162.1 565.8 168 549.8 136.9 524.1 144.8 560.5 163.5 543.8" class="mo"/>
<path d="M337.2 523.9 315 548.6 332.5 518.3 342.5 500.3 347.6 519.8 329 536.4 343.7 523.6 345.2 513.2 333.5 524.1 336.9 518.3 344.6 507.4 347.5 489.7 326.3 535.4 333.8 515.3 324.1 534.3 342.6 514.3 334 503.2 337.2 527.9 321.3 530.7 330.8 515.9 328.3 530 342.3 509.7 335.6 509.3 329.2 523.8 339.1 538.5 338.1 493.3 328.4 528.3 337.2 505 325.6 545.4 330.6 521.5 345.9 517.3 341.4 511.5 331.8 521.5 340.4 488.5 345.7 506.9 343 511.6 336.3 511.2 343.2 510 330.8 531.1 324.5 536.2 328.5 533.3 347.1 501.4 332.4 525.1 343.2 522 339.2 510.5 340.6 506.6 325.1 524.7 347.1 496.5 325.4 526.9 329.7 519.2 318.8 536.5 344.2 520.9 347.5 488.2 342.9 504.3 344 520.2 340.1 518.3 336 527.4 338.1 519.2 326.9 531.3 336.8 529.3 335.8 514.3 335.1 536.7 352.9 499.7 342.5 503 333.7 513.1 332 518.5 341.4 517.3 333.3 514.5 344.6 505.8 339.5 515.2 336.1 502.9 344.1 499.7 326.1 527.9 339.6 510.6 337.3 520.1 326.7 526.3 338.1 506.9 331.7 525.7 336.6 513.3 323.5 531.3 338.4 519.6 323.3 540.1 341.8 521.7 336.8 498.2 329.4 514.7 336.3 505.2 352.7 496.9 336.5 511.4 340.4 506.9 330.7 517.5 335.3 543.4 342 518.9 330.9 504.3 348.5 502.1 348.1 504.8 337.5 506.9 334.3 525.9 324.6 537.1 346 513.3 337.1 506.3 341.4 507.9 338.9 500.2 351.8 498.1 344 497.9 331.5 528.5 326.5 543.1 346.6 514.5 332.7 533.1 335.3 519.3 343.3 504.3 318.1 547.5 345.6 500.4 350.1 505.5 353 498.7 333.7 531.6 345.8 504 327.8 526.6 341.4 504.2 324.8 538.9 339.8 515.2 346.7 492.4 334.1 546 325.9 540.6 322.4 532.7 345 504 332 535.8 335.3 517.1 339.6 517.4 341.4 514.1 343.3 524.2 342 509.6 342.9 510.8 347.3 493 345.4 509 339.8 502.2 327.9 524.2 341.6 493.7 335.1 520.1 353.5 498.7 330.3 523.3 319.9 535.1 346.2 499.6 325.1 538.5 328.3 516.6 337.8 519.5 319.9 547.5 336 528 323.7 531.1 341.9 522.9 327.6 513 326.4 525.7 331.8 499.8 325.2 526 329.3 535.4 332.1 527.5 341.7 522.6 341.6 505.5 338 513.3 336.7 513.1 344 507.1 341.2 501.9 352.8 489 356.8 501.1 342.5 504.2 336.3 523.1 339.5 503 325 535.1 329.3 511.9 336.6 492 319.4 536.3 332.1 496.6 342.9 509.8 332.9 519.8 327.4 541.2 333.5 527.4 316.8 538.1 343.6 515.8 343.8 515.8 335.8 519.4 341 521.6 312.6 559.3 335.7 520.3 329.9 513.8 332.1 526.8 333.1 517.7 344.1 505.5 341.6 507.3 336.8 516.6 353.7 500.7 328.7 514.1 342.2 521.3 336.7 535.6 336.2 512.5 335.8 505 346.6 505.5 337.8 508.2 353.4 500.6 346.2 503.4 339.1 503.8 346.6 503.5 344.9 523.5 338.1 513.2 322.7 533.7 341.7 507.1 329.4 519.6 348.7 490.2 326.1 528.5 336.1 510.9 331.5 524.2 343.1 506.8 320.7 533.8 314.9 561.7 342 502.5 333.1 531.9 331 535 340 521.2 322.6 525.7 327.8 519.8 325.6 521.9 340.6 499.9 331 552.6 330.2 524.1 345.3 507.4 347.1 495.9 329.3 538.2 318.9 543.2 336.6 516.5 345.1 501.8 343.7 495 331.2 509.7 333.4 516.5 330.7 517.1 316 552.4 333.2 529.2 342.3 503.6 340.1 500.8 335.4 510.9 337.9 519.4 347.3 499.1 335.1 501.6 325.6 531.2 335.6 516.4 353.1 508 347.1 502.5 328 533.5 344.6 502.8 328.5 516.4 341 507 341.4 511 339.1 517.4 338.2 492 349.5 502.2 346.5 493.8 344.1 525.1 344.6 506.6 329.2 526.6 337.8 523.5 334.7 520 346.1 507.8 327.8 533.8 319.1 543.3 318.5 538.2 342.4 510.2 338.5 527.1 329.5 523.8 335.5 512.8 336.6 520.3 338.6 521.5 320.2 541.8 358.4 500.1 335.7 521.2 324.3 532 323.4 524.5 333.7 533.1 335.3 519.4 333.6 528.6 337.9 509.8 333.6 516.3 340 532.2 329.9 532 349.2 503 331.8 511.9 324.6 517.9 337.8 508.1 332.1 532.5 317.1 549.6 346.6 503.7 335 500.1 352.4 506 327.1 545 339.2 515.6 327.7 517.4 329 512.1 325.6 539.1 340.6 503.2 325.9 518.9 357.9 486.9 317.8 549.6 317.3 561.9 327 532.1 333.6 515 327.2 508.3 326.7 533.3 325.7 522.8 334.9 512.5 333.3 499.9 353.8 506.4 338.8 499 339.3 509.6 344 503.7 346.3 506.2 331.4 517.6 326.6 531 354.9 487.5 344.2 511.1 334.5 516.1 316 530.3 336.6 508.3 316.8 543.7 343.1 518.6 350.5 509.9 344.1 530 325.3 536.4 328.3 534.8 349.1 512.3 345.5 514.4 339 507.4 351.1 489.3 347.8 492.3 326.5 525 342.2 529.3 326.4 520.5 349 522.1 332.1 528.3 336.2 520.9 339.7 498.8 335.9 532.8 311.3 540.9 321.1 538.8 326.9 534.7 350.7 506.8 333.5 518.6 339.1 513.2 330.2 516.3 346.6 512.7 336.6 504.8 328.5 529.6 342.8 512.4 328.3 529.7 331.4 516 343.1 514.6 334.6 522.8 314.5 533.7 328.1 524.4 330.4 523.1 345.9 509.6 336.2 525.2 330.8 538 334.7 519 325.8 537.5 340.7 504.9 343.7 500.2 320.9 558.9 352.1 483 332.6 525.6 322.2 533 323.2 528.1 346.9 493.9 338.4 517.8 331.2 528.1 329 523 341 509.8 325.1 543.8 331.8 525.6 336.6 525.3 348.3 487.4 337.4 502.8 340 527.4 340.6 514.2 332.6 526.9 345.8 502.3 324.9 538.5 336.1 515.6 326.2 521.8 338.4 519.5 322.5 528.7 330.3 536.3 347.4 515 340.5 514.3 340.9 522.9 329.1 536.8 330.8 528.1 329.9 524.5 347.3 510.1 338.9 529.7 341.3 518.2 341.3 516.3 346.3 509.3 336 518.3 337.9 502.2 329.7 513.9 327.6 521.1 341.6 501.8 323.9 534.9 326.1 537.4 342.8 510.1 353.4 482.7 337.7 501.1 342 516.9 344.4 515.1 327.7 514.6 345.8 519.2 336.3 500.3 311.2 546.6 323.2 534.6 330.5 533.7 319.2 548.6 337.4 520 332.2 520.7 341.8 528 352.3 499.9 336.7 517.1 334.4 536.2 334.5 513.4 326.7 522 328.4 523.8 320 531.8 328.8 530.9 341.3 489.6 338.9 510.8 336.6 532.6 341.5 513.8 345.3 515.3 334.5 525.8 329 518.9 323.4 526.3 318.2 537.2 337.2 509 340.8 496.5 335.4 501.1 350.9 497.8 330.9 517.4 341 514.6 342.3 499.4 334.3 508.9 334.3 512.8 333.1 525.4 337 519 340.7 512.9 336.1 503.3 333.9 500.5 331.9 519.1 341.9 497.3 342.2 495.6 328.6 530 347.2 497.6 344.2 511 333.5 532.1 333.1 531.3 322.5 541.1 339.1 517.3 331.4 508.9 332.1 501.8 338.4 524.3 338.1 531.4 346.3 493.5 342.8 511.4 350.5 494.1 322.3 520.6 336.5 522.6 339.5 527.4 334.5 518.3 357.9 487.2 335.5 523 322.1 540.6 320.7 538.5 336 529.2 327.6 522.3 326 524.6 342.7 513.6 338.4 520.3 320.7 525.2 335.1 513.4 333 523.5 341.5 508.8 329.9 537.8 343.2 501.1 334 523.8 336.9 505.9 327.4 529.3 330.1 527.3 332.2 532.1 332.1 513.8 352.8 511.2 334.8 516.8 340.6 502.3 326.6 523.4 337.2 523.7 322.5 533.2 338.1 514.5" class="mb"/>
<path d="M296.6 554.7 301 560.1 304.1 564.8 308.4 534.6 295.6 565 311.3 561 306.7 550.7 308.9 564.4 311.3 549.8 307.2 562.5 288.4 570.4 335.4 550.9 308.7 545.6 302.3 550.1 307.2 543.9 308.3 542.6 301.6 548.9 309.1 573.6 306.2 565.8 275.6 558.1 312.7 535.1 321.6 558.4 293.9 538.3 316.7 541.4 306 567.6 300.4 568.8 303 561.8 296.6 578.8 293.6 559.7 314.7 541.4 294.5 537 321.9 562.3 315.9 567.5 292.8 548.4 293.1 569.5 298.2 555.5 276.5 551.6 291.9 562 318.4 546.1 315.5 548.8 283.6 547.9 292.6 562.2 324 548.6 286.6 561.7 328.8 558.6 301.3 541.1 301.5 556.2 308.4 534.3 308.2 545 301.9 574.8 288.5 548 301 546.2 300.9 551.9 283.2 574.9 292.7 548.6 317.3 563.8 300.2 542.1 287.1 556.6 302.7 549.3 305.8 541.4 318.4 540.6 320.7 566 285 541.9 300.3 552 303 569.7 301.1 560.6 314.4 547.2 295.2 547.4 287.9 573.1 304.2 564.8 309.5 567.6 336.1 548.7 292.9 558.3 313.5 564.1 290.3 568 302.4 572.1 288 563.6 314.9 555.9 269 581.5 302.2 563 279.1 564.5 311.2 562.6 293.4 551.5 315.2 542.1 311.1 553.6 308.7 524.2 289.2 540.1 292.1 544 300.4 560.9 319.8 556.4 304.3 561.2 294.1 558.5 307.1 548 304.5 565.8 304.8 552.3 300.8 551.1 298.5 528.5 303.9 556.9 292.7 575.1 315.4 554.4 293.9 563.6 307.6 552.7 312.6 563 287.7 548.5 292.7 574 307.6 557.1 288.6 555.4 285.1 578 277.5 568.7 285.7 564.1 321.6 555.1 278.4 553.3 304.7 557.4 296.9 571.5 309.3 544 293.5 561.7 287.2 557.7 287.7 580.2 305.5 556.4 314.2 558.3 309.8 568.3 311.2 539.8 308.3 568.4 309 560.3 302.1 541.1 298.2 555.6 310.2 547.1 301.9 562.6 298.2 572.6 286.1 573.9 323 541 311.6 566.4 298.6 568.9 312.9 563.3 298.1 551.6 289.6 558.2 308.7 569.2 309.4 551.1 306.7 577.9 297.6 563 305.3 560.2 307.5 522.9 297.7 533.9 319.3 549.7 278.7 555.5 291.4 537.6 322.9 563.2 290 559.4 318.5 568.1 293.7 555.8 309.4 548.2 318.7 579.5 294.3 547.5 301.6 550.5 294.6 572.2 300.6 547 291.6 544.8 310.9 573.2 297.4 559.2 313.6 573.1 317.6 549.5 300 553.2 311.4 549.4 301.8 554.2 287 560.6 318.9 550.7 319.1 550.2 313 544.5 289.9 556.3 273.1 575 294.8 552.5 288.8 579.8 291.2 560.7 296.6 568 310.5 542.2 303.9 542.2 303.3 546.7 309 558.4 317 555.2 317.7 536 291.2 559.8 284.9 562.7 309.2 540.4 332.6 544.7 296 551.4 304.4 563.8 291.9 578.5 284.3 541.2 292.3 548.6 327.9 542.6 296.4 562.7 312.3 578.2 320.7 566.1 296.8 581 301.2 537.5 295.3 540.8 298.4 519.4 305.3 541.4 303.5 566.5 319.2 543.8 302.7 569 272.8 567.6 280.1 540.6 292.9 539.7 314.7 572.6 305.3 541.6 301 577.3 305 538.5 320.1 536.3 306.3 556.2 311.9 560.3 293 560 289.4 559.5 294.9 563.1 315.8 558.7 317.1 548.3 308.3 554.2 310.5 568.2 294.8 572.3 301 569.2 281.1 577.7 289.7 579.8 294.3 575.6 307.8 557.6 286 577.3 283.7 574.2 291.1 568.2 308.1 566.7 301.5 564.6 301.5 574.3 308.3 556 316.2 574.8 312.2 558.3 281.8 559.8 301.7 560.6 304.4 550.2 311.7 544 307 534.9 294.1 558.9 298.9 560.9 327 538.9 316.4 575.2 314.1 578.3 313.1 549.2 290.8 535.3 297.7 548 319.6 573.1 297.4 557.6 310.9 549.7 302.2 554.8 310.4 561.6 299.8 557.8 294.6 544 307 565.9 295.2 561.3 300.2 572.5 317 555.3 295.8 555.1 297.4 566.7 291.5 557.4 299.2 541.9 301.6 564.1 290.5 568.1 312.4 571.1 304.1 566.9 293.8 529.3 310.4 561.2 293.8 572.3 284.6 556 284.6 559.8 290.9 571.5 301.1 556.1 295.3 568.1 320.4 538.5 294 577.9 291 567.2 306.3 572.6 306.5 543.4 285.9 567.4 309.2 560.9 298.5 555.7 300.7 577.7 306.3 556.3 301.1 548.6 282.1 545.8 297.1 553.2 319.5 551 311.2 544.5 297 578.7 294.5 547.9 295.9 552.8 298.9 547.3 311.3 554 304.6 559 301.7 550.4 301.8 566.5 309.7 543.7 293.3 554.9 306.8 536.8 283.7 531.5 289.8 554 284.4 568.9 283.5 563 285.5 564.9 308 554.4 297.8 543.8 301.1 569.2 282.4 541.5 301.9 537 294.8 560.3 305.5 563 304.7 544.7 286 541.7 301.6 566 272.4 574.3 323.9 545 296.3 542.3 315.6 562.8 291.3 566.3 299.3 544.3 308.5 553.3 321.3 561.4 314 546.4 322.3 557.5 325.2 536.5 317.8 525.5 319.7 534.8 318.9 536.6 303.4 555.5 320.9 549.9 296.8 565.4 298.5 571.7 302.7 543.5 290.9 551.5 315.1 555.2 295.4 579.9 306 570.2 301.7 567.9 306.7 555.5 302.8 557.3 309.9 552.3 300.4 527.8 319.5 554 313.9 545.6 305.5 570.4 307.4 554 307 553.9 303 551.2 307.1 550 309.2 541 302.4 568.8 296.3 573.3 302.1 565.9 311.6 563.5 281.3 557.8 294.9 544.6 294.2 570.5 312.2 565.9 284.1 556.5 317.5 537.9 293.9 558.1 288.4 548.6 290.3 566.5 302.7 526.9 291 574.9 304.8 551.5 314.7 550.7 303.4 556.3 304.5 573.2 289.3 571.3 320.5 557.1 300.8 569.5 283.1 560 293.9 549.8 290.6 579.2 310.1 545.2 306.6 558.8 311 561.7 295.2 570.9 290.3 552.8 296.6 553 303.1 567.3 302.3 562 320.2 564.2 334.3 541.2 294.8 566.5 284.5 572.5 302.7 549.1 289.3 564.9 316.8 534.7 280.3 571 325.6 546.5 299.4 550.7 312.3 563.9 310.9 537.6 302.9 541.9 313.3 544.7 311.7 532.5 303.8 568.5 292.2 577.5 310.5 552.2 297.1 558.9 290.4 565.5 307.8 535.2 308.9 571.7 292.1 573.1 307.5 556.3 320.9 564.4 312.3 546.6 307.5 548.5 315.1 558.7 312.8 529.3 318.6 541.9 286.2 573.3 299.2 552.4 308.1 565.7 305.6 566.8 298.5 576 313.3 554.9 305.7 559.2 305.6 569.1 291 540.3 315.7 552.2 310.4 550.1 306.2 560.5 305.6 549.2 320.1 553.9 298.9 561.3 329 541.8 300.3 575.4 292.1 565.4 334.4 555.6 296.1 569.3 287.3 577.2 317 571.6 311.8 554.2 304.3 549.3 298.9 565.4 307.1 580.5 306 567.6 299.9 562.3 302.1 575.6 320.7 550.1 292 573.3 301.5 570 294.7 550 298.1 558.4 282.5 553 301.3 533.4 295.8 575.8 305 566.7 298.7 563.7 308 550.7 325.8 550.4 287.2 549.8 309.8 551.6 278.4 578.9 316.5 567 307.6 557.4 289.7 563.4 291.7 568.3 292.3 569 317.9 550.1 309.5 547.5 295.6 581.2 301.5 548.1 327.3 568.8 315.8 550.1 317.2 546.7 311.2 523.8 293.4 560.5 302.8 564 315.1 561 307.8 529 331.1 552 303.9 550.5 285.8 563.1 316.8 547.7 321.8 558.7 323.7 561 307.5 565.9 292.8 566.3 296.5 575.3 319.9 570.2 287.5 542 283.6 576.4 315.7 552.6 316.1 537.4 303 561.1 301.1 575.2 287.2 563.7 295.4 564.6 283.8 550.4 310 563.9 307.9 549.6 287.6 566.7 303.5 548.6 299.6 570.8 321.8 566.9 295.8 567.2 290.6 560.1 319 549.7 291.6 561.2 308.2 547.1 309.5 568.8 298.3 557.2 303.1 557.7 294 573.9 303.3 556.4 320.9 574.4 299.6 559.2 305.2 544.6 328.6 543 301.6 534 275.9 555.7 342.4 545.8 291.6 565.8 302.8 576.7 316.9 567.7 301.8 561.4 292 555.6 296.7 568.3 290.9 560.2 305.6 570.8 308.2 559.8 308 548 293.2 545.8 308.4 569.6 305.4 556.3 315.2 563.2 315.9 550.8 281 551.9 289.4 576.7 305.9 564.6 310.7 543.4 301.6 565.8 309.6 549.8 303.1 524.1 293.9 560.5 298.7 543.8" class="mo"/>
<path d="M454.4 523.9 461.1 548.6 447.4 518.3 448.4 500.3 452.5 519.8 450.5 536.4 457.3 523.6 455.4 513.2 451.1 524.1 458.7 518.3 452.1 507.4 430.9 489.7 447.5 535.4 457.7 515.3 447.3 534.3 447.2 514.3 440 503.2 434 527.9 454.5 530.7 453.7 515.9 442.3 530 436.6 509.7 448.7 509.3 466.3 523.8 448.6 538.5 442.9 493.3 459.2 528.3 442.3 505 449.2 545.4 450.7 521.5 446.2 517.3 455 511.5 454.1 521.5 430.4 488.5 438.8 506.9 446.5 511.6 437.9 511.2 448 510 446 531.1 449 536.2 442.9 533.3 451.4 501.4 459.1 525.1 457.7 522 451.7 510.5 441.5 506.6 454.3 524.7 446.9 496.5 450.9 526.9 474 519.2 451.7 536.5 467.4 520.9 437.2 488.2 429.7 504.3 450.6 520.2 457.1 518.3 451.3 527.4 441.3 519.2 438.8 531.3 456.5 529.3 446.1 514.3 465.4 536.7 450.4 499.7 444.3 503 447.8 513.1 456.8 518.5 441.2 517.3 454.4 514.5 448.4 505.8 444.2 515.2 457.3 502.9 452 499.7 451.4 527.9 446.2 510.6 464.1 520.1 450.5 526.3 441.4 506.9 449.9 525.7 449.1 513.3 441 531.3 446.3 519.6 457.2 540.1 448 521.7 459.8 498.2 435.5 514.7 444.4 505.2 447.1 496.9 444 511.4 443.5 506.9 451.6 517.5 463.1 543.4 442.8 518.9 455.8 504.3 449.4 502.1 441 504.8 441.1 506.9 453 525.9 436.7 537.1 455.5 513.3 448.1 506.3 448.9 507.9 436.4 500.2 439.5 498.1 439.7 497.9 442.8 528.5 465.6 543.1 443.6 514.5 469.4 533.1 447.3 519.3 451.6 504.3 468.5 547.5 443.6 500.4 438.5 505.5 452.9 498.7 449.1 531.6 439.1 504 436.9 526.6 445.1 504.2 445.7 538.9 448.6 515.2 440.1 492.4 469.1 546 474.4 540.6 460.6 532.7 444.2 504 450.1 535.8 442.1 517.1 443.5 517.4 448.8 514.1 445.7 524.2 450.1 509.6 439.4 510.8 432.6 493 432.8 509 441 502.2 445.6 524.2 432.9 493.7 458.6 520.1 438 498.7 440.9 523.3 461.9 535.1 439.9 499.6 455.1 538.5 458.2 516.6 440.9 519.5 480.4 547.5 444.1 528 444.2 531.1 435.9 522.9 456.7 513 452.4 525.7 439.9 499.8 466.4 526 465.9 535.4 439.3 527.5 449.2 522.6 449.5 505.5 440.3 513.3 450.6 513.1 455.6 507.1 463 501.9 444.6 489 442.6 501.1 443.6 504.2 461.8 523.1 430 503 460.2 535.1 450.8 511.9 440.6 492 442.4 536.3 438.9 496.6 459.8 509.8 448 519.8 461.5 541.2 460.1 527.4 454.5 538.1 447.8 515.8 439.5 515.8 446.1 519.4 458.5 521.6 455.3 559.3 449.9 520.3 434.6 513.8 439.9 526.8 454.7 517.7 440.4 505.5 433.3 507.3 461.1 516.6 429.8 500.7 456.4 514.1 446.6 521.3 448.5 535.6 445.4 512.5 445.9 505 448.5 505.5 465.4 508.2 454.6 500.6 444.1 503.4 449.6 503.8 456.6 503.5 450.7 523.5 441.5 513.2 451.9 533.7 434.1 507.1 443.5 519.6 430.5 490.2 449.3 528.5 439.7 510.9 446.1 524.2 451.2 506.8 456.4 533.8 469.7 561.7 445.5 502.5 443 531.9 474.4 535 458.7 521.2 449.8 525.7 465.7 519.8 452.3 521.9 439.5 499.9 486.7 552.6 449.4 524.1 460.6 507.4 439.9 495.9 451 538.2 448.2 543.2 465.7 516.5 441.1 501.8 442.4 495 444.7 509.7 457.1 516.5 456 517.1 459.3 552.4 442.3 529.2 444.1 503.6 437.9 500.8 438.1 510.9 440.6 519.4 440.8 499.1 448.5 501.6 446.4 531.2 457.4 516.4 440.3 508 442.7 502.5 446.6 533.5 435.4 502.8 443.3 516.4 442 507 434.9 511 451.3 517.4 446.9 492 446.3 502.2 441.5 493.8 472.4 525.1 449 506.6 442.6 526.6 451.5 523.5 451.6 520 432.4 507.8 468.5 533.8 454.8 543.3 463.3 538.2 438.9 510.2 456.5 527.1 455.2 523.8 446.9 512.8 443.8 520.3 454.8 521.5 459.4 541.8 433.2 500.1 443.9 521.2 449.6 532 448.4 524.5 453.6 533.1 446.3 519.4 449.6 528.6 435.7 509.8 441.3 516.3 457.3 532.2 459.6 532 436.1 503 448.1 511.9 444.1 517.9 456 508.1 468.7 532.5 467 549.6 441.1 503.7 452.9 500.1 435.7 506 468.8 545 451.4 515.6 455.8 517.4 446.5 512.1 455.3 539.1 461.6 503.2 444.2 518.9 433.3 486.9 463.5 549.6 458.6 561.9 464.9 532.1 446.4 515 457.2 508.3 459.1 533.3 447.8 522.8 456 512.5 446.5 499.9 442.8 506.4 439.5 499 447 509.6 444.8 503.7 437.1 506.2 453.3 517.6 458.4 531 434.8 487.5 452.4 511.1 449.3 516.1 451.5 530.3 451.4 508.3 447.4 543.7 455 518.6 449.3 509.9 459.4 530 447.2 536.4 462.3 534.8 456.1 512.3 448.2 514.4 448.1 507.4 439.8 489.3 432.9 492.3 458.4 525 447.4 529.3 446.7 520.5 454.2 522.1 445.8 528.3 439.1 520.9 456.2 498.8 457.4 532.8 441.4 540.9 455.8 538.8 450.4 534.7 435.6 506.8 444.8 518.6 458.3 513.2 462.5 516.3 458.3 512.7 438.1 504.8 458.3 529.6 443 512.4 446.2 529.7 449.2 516 446.6 514.6 458.3 522.8 452.4 533.7 461.1 524.4 449.4 523.1 449.9 509.6 444.8 525.2 450.6 538 432.9 519 451.8 537.5 434.4 504.9 438 500.2 465.3 558.9 455.9 483 455.4 525.6 445.5 533 455.4 528.1 440.6 493.9 460.7 517.8 445.5 528.1 455.5 523 445.9 509.8 452 543.8 454.6 525.6 464.3 525.3 444 487.4 442.6 502.8 444 527.4 433.8 514.2 460.3 526.9 454.8 502.3 446.4 538.5 456.3 515.6 453.2 521.8 457.7 519.5 460.2 528.7 452.2 536.3 439.8 515 453.1 514.3 453.9 522.9 448.8 536.8 445.2 528.1 467.4 524.5 439.1 510.1 439.9 529.7 450.6 518.2 450.3 516.3 453.9 509.3 458.1 518.3 440 502.2 451.1 513.9 440.2 521.1 441.1 501.8 460.4 534.9 440.9 537.4 438.4 510.1 426.2 482.7 459.6 501.1 443.3 516.9 447.3 515.1 449.3 514.6 447.4 519.2 429.5 500.3 451.5 546.6 440.4 534.6 453.7 533.7 455 548.6 463.5 520 447.3 520.7 449.3 528 438.9 499.9 448.6 517.1 461.1 536.2 454.2 513.4 465 522 456.8 523.8 442.1 531.8 461.1 530.9 436.6 489.6 445 510.8 458.8 532.6 438.5 513.8 448.8 515.3 462.6 525.8 444.1 518.9 449.2 526.3 461.6 537.2 446.8 509 432.5 496.5 449.2 501.1 442.2 497.8 435.4 517.4 463.2 514.6 430.5 499.4 430.7 508.9 455.3 512.8 469.1 525.4 459.9 519 445.8 512.9 452.9 503.3 455 500.5 443.5 519.1 429.4 497.3 426.5 495.6 447.7 530 440.3 497.6 442.8 511 461.8 532.1 472 531.3 447.7 541.1 462.7 517.3 445.6 508.9 434 501.8 455.4 524.3 454.2 531.4 449.4 493.5 451.2 511.4 450 494.1 464 520.6 455.4 522.6 460.6 527.4 448.4 518.3 430.5 487.2 456.6 523 444.7 540.6 460.5 538.5 450.8 529.2 443.9 522.3 451.9 524.6 438.5 513.6 458.5 520.3 453.5 525.2 444.3 513.4 455.8 523.5 442.2 508.8 451.9 537.8 445.5 501.1 455.4 523.8 432.7 505.9 474.6 529.3 444.4 527.3 463.5 532.1 452.8 513.8 444.1 511.2 437.3 516.8 440.1 502.3 452.8 523.4 450.2 523.7 446.2 533.2 445 514.5" class="mb"/>
<path d="M461.5 554.7 475.7 560.1 452.6 564.8 475 534.6 485.6 565 454 561 484.7 550.7 473.2 564.4 469.4 549.8 467.8 562.5 465.3 570.4 441.3 550.9 475.2 545.6 475.5 550.1 486 543.9 472.5 542.6 463.7 548.9 481.4 573.6 460.2 565.8 487.4 558.1 469.5 535.1 474 558.4 480.2 538.3 463.6 541.4 452.7 567.6 484.5 568.8 478.4 561.8 497.6 578.8 474.6 559.7 456.5 541.4 485.4 537 472.6 562.3 490.5 567.5 488.8 548.4 480.9 569.5 470.3 555.5 486 551.6 475.5 562 461.6 546.1 464.8 548.8 476.5 547.9 500.6 562.2 462.6 548.6 466.2 561.7 465.8 558.6 459.2 541.1 479.9 556.2 461.7 534.3 477.4 545 483.1 574.8 495.9 548 471.9 546.2 476.1 551.9 498.2 574.9 470.3 548.6 470.7 563.8 468.4 542.1 486.4 556.6 476.1 549.3 471.8 541.4 453.2 540.6 472.4 566 491 541.9 482.3 552 483.8 569.7 476.4 560.6 499.3 547.2 493 547.4 473.9 573.1 479.5 564.8 473.8 567.6 474.2 548.7 484.1 558.3 462.8 564.1 480.3 568 478.1 572.1 488.2 563.6 481.7 555.9 494.6 581.5 467.1 563 497 564.5 478.2 562.6 496.1 551.5 478 542.1 470.1 553.6 468.8 524.2 475 540.1 480.5 544 494.6 560.9 472.4 556.4 480.3 561.2 482.3 558.5 452.5 548 480.2 565.8 470.9 552.3 485.8 551.1 478.9 528.5 473.7 556.9 477.5 575.1 470.2 554.4 481.5 563.6 479.5 552.7 469.6 563 477.8 548.5 486.4 574 465.5 557.1 482.6 555.4 483.4 578 488.2 568.7 480.3 564.1 471.9 555.1 490.7 553.3 464.9 557.4 471.2 571.5 476.5 544 466.1 561.7 466.3 557.7 488.7 580.2 469.4 556.4 449.5 558.3 477.3 568.3 466.1 539.8 485.1 568.4 465.2 560.3 484.4 541.1 473.4 555.6 465.1 547.1 484 562.6 475 572.6 483.6 573.9 462 541 464.2 566.4 477.8 568.9 478.3 563.3 470 551.6 480.7 558.2 487.4 569.2 469.1 551.1 468.2 577.9 460.2 563 468.2 560.2 477.4 522.9 480 533.9 458 549.7 482.7 555.5 466.1 537.6 451.4 563.2 469.5 559.4 447.3 568.1 482.7 555.8 478.9 548.2 467.7 579.5 465.9 547.5 462.8 550.5 480.7 572.2 480.1 547 474.5 544.8 472.9 573.2 481.2 559.2 472.7 573.1 467.8 549.5 454 553.2 484.9 549.4 479 554.2 499.5 560.6 446.7 550.7 480.7 550.2 475.7 544.5 495 556.3 475.7 575 471.4 552.5 494.4 579.8 490 560.7 485.4 568 478.5 542.2 465.5 542.2 465.4 546.7 468 558.4 454.6 555.2 463.3 536 469.2 559.8 490.9 562.7 471.3 540.4 444.3 544.7 482.1 551.4 476.7 563.8 490.9 578.5 476.9 541.2 451.7 548.6 465.1 542.6 467.4 562.7 460.1 578.2 464.6 566.1 486.2 581 469 537.5 471.7 540.8 466.6 519.4 491.8 541.4 477 566.5 470.2 543.8 464.7 569 498.9 567.6 484.5 540.6 493.9 539.7 471 572.6 485.5 541.6 478 577.3 467.2 538.5 468.7 536.3 454.8 556.2 453.1 560.3 485.4 560 483.3 559.5 483.6 563.1 489 558.7 470.9 548.3 452.4 554.2 483.3 568.2 472 572.3 458.2 569.2 484.4 577.7 475.4 579.8 497.5 575.6 447.3 557.6 482 577.3 483.1 574.2 477.5 568.2 465.6 566.7 458.9 564.6 489.8 574.3 493.5 556 460.6 574.8 471.7 558.3 477 559.8 492.5 560.6 472.8 550.2 470.6 544 479.1 534.9 485.5 558.9 478.7 560.9 471 538.9 464.2 575.2 479.1 578.3 467.9 549.2 479.9 535.3 449.3 548 467.1 573.1 469.3 557.6 464.7 549.7 484.2 554.8 468.2 561.6 478.9 557.8 463.8 544 465.6 565.9 452.9 561.3 468.8 572.5 468.1 555.3 480.9 555.1 487.2 566.7 473.1 557.4 471.8 541.9 483.4 564.1 473.3 568.1 479.5 571.1 470.2 566.9 471.7 529.3 466.1 561.2 500.2 572.3 482.4 556 484.7 559.8 480.3 571.5 481.4 556.1 468.6 568.1 458.1 538.5 484.4 577.9 489.9 567.2 465.7 572.6 470.6 543.4 479 567.4 461.7 560.9 465.4 555.7 486.3 577.7 459.8 556.3 473 548.6 490.8 545.8 475.3 553.2 473.2 551 471.3 544.5 469 578.7 477.1 547.9 499.5 552.8 473 547.3 463.1 554 476 559 462.1 550.4 497.6 566.5 489.4 543.7 488.2 554.9 469 536.8 471.6 531.5 482.3 554 480.4 568.9 466.6 563 487.4 564.9 466.1 554.4 484.1 543.8 470.7 569.2 489.8 541.5 469.6 537 474.6 560.3 478.1 563 467.7 544.7 481.1 541.7 472.6 566 492.8 574.3 463.5 545 464.5 542.3 458.6 562.8 476.5 566.3 459.3 544.3 470.7 553.3 463.6 561.4 444.2 546.4 467 557.5 470.3 536.5 451.5 525.5 461.5 534.8 469.6 536.6 477.3 555.5 478.4 549.9 474.7 565.4 495.6 571.7 483.6 543.5 485.3 551.5 451.5 555.2 485.3 579.9 468.5 570.2 472.8 567.9 477.6 555.5 474.8 557.3 470.7 552.3 474.8 527.8 462.6 554 465.3 545.6 503 570.4 465.7 554 475.6 553.9 480.6 551.2 483.9 550 491.9 541 479.7 568.8 481.3 573.3 490.3 565.9 459 563.5 498.9 557.8 503.8 544.6 477.5 570.5 478.2 565.9 468.6 556.5 461.2 537.9 484.8 558.1 480.5 548.6 491.5 566.5 469.6 526.9 504.6 574.9 483.9 551.5 466.4 550.7 495.1 556.3 469 573.2 453.8 571.3 457.5 557.1 493.9 569.5 490.5 560 488.5 549.8 478.1 579.2 468.6 545.2 470.9 558.8 458.2 561.7 481.5 570.9 465.8 552.8 487.7 553 461 567.3 492.2 562 478.7 564.2 463.2 541.2 474.1 566.5 478.5 572.5 481.2 549.1 476.7 564.9 440.2 534.7 503.3 571 460.3 546.5 474.8 550.7 467.9 563.9 469.9 537.6 467.2 541.9 473.7 544.7 472.7 532.5 493.3 568.5 478.1 577.5 475.1 552.2 480.9 558.9 469.3 565.5 479.1 535.2 476.6 571.7 486.4 573.1 471 556.3 455.5 564.4 449.6 546.6 462.5 548.5 474.6 558.7 475.4 529.3 455.9 541.9 485.9 573.3 467.4 552.4 469.3 565.7 476.8 566.8 461.7 576 472.4 554.9 485.2 559.2 462.8 569.1 477.6 540.3 464.2 552.2 479.5 550.1 474.1 560.5 475.4 549.2 479.5 553.9 473 561.3 464.4 541.8 495 575.4 470.6 565.4 448.4 555.6 500.2 569.3 469.7 577.2 466.3 571.6 468.9 554.2 474.9 549.3 482 565.4 469.8 580.5 474 567.6 472 562.3 473.6 575.6 477.8 550.1 462 573.3 486.5 570 486.9 550 473 558.4 494.7 553 468.1 533.4 481.9 575.8 485.5 566.7 476.5 563.7 488.2 550.7 471.4 550.4 481.7 549.8 473.8 551.6 509.3 578.9 464.6 567 473 557.4 495.5 563.4 473.8 568.3 488.8 569 457.2 550.1 480.5 547.5 490.9 581.2 470.6 548.1 473.5 568.8 463.7 550.1 460.3 546.7 467.4 523.8 483.3 560.5 489.3 564 479.3 561 472.4 529 463.3 552 465.9 550.5 489.9 563.1 476.2 547.7 474.5 558.7 458.8 561 469.3 565.9 460.7 566.3 500.2 575.3 463.9 570.2 483.1 542 483.2 576.4 473.2 552.6 461.9 537.4 481.1 561.1 494.5 575.2 488.9 563.7 483.7 564.6 471.3 550.4 468.4 563.9 482 549.6 495.2 566.7 467.2 548.6 491.9 570.8 476.1 566.9 462.6 567.2 473.5 560.1 471.9 549.7 481.6 561.2 471.4 547.1 462.7 568.8 464.9 557.2 448.3 557.7 464.9 573.9 469.6 556.4 467.5 574.4 473.2 559.2 464.6 544.6 471.8 543 476.2 534 495.8 555.7 457.3 545.8 482.3 565.8 476.7 576.7 482.8 567.7 461.1 561.4 491.5 555.6 483 568.3 478.3 560.2 496.3 570.8 449.3 559.8 500.3 548 482.9 545.8 482.3 569.6 480.5 556.3 474.1 563.2 453.4 550.8 463.7 551.9 478 576.7 468.7 564.6 457.6 543.4 489.5 565.8 471.4 549.8 464.3 524.1 470.4 560.5 457 543.8" class="mo"/>
<path d="M98.05 0.5V125.8H214.75" class="sp"/>
<path d="M115.4 125.8v5.5M191.1 125.8v5.5M98.05 109.5h-5.5M98.05 62.65h-5.5M98.05 15.8h-5.5" class="tk"/>
<text x="88.65" y="114.74" font-size="14.8" text-anchor="end" textLength="9.42" lengthAdjust="spacingAndGlyphs">2</text>
<text x="88.65" y="67.89" font-size="14.8" text-anchor="end" textLength="9.42" lengthAdjust="spacingAndGlyphs">3</text>
<text x="88.65" y="21.04" font-size="14.8" text-anchor="end" textLength="9.42" lengthAdjust="spacingAndGlyphs">4</text>
<path d="M254.5 0.5V125.8H371.2" class="sp"/>
<path d="M289.4 125.8v5.5M350.15 125.8v5.5M254.5 109.5h-5.5M254.5 62.65h-5.5M254.5 15.8h-5.5" class="tk"/>
<path d="M411.35 0.5V125.8H528.05" class="sp"/>
<path d="M450.3 125.8v5.5M508.7 125.8v5.5M411.35 109.5h-5.5M411.35 62.65h-5.5M411.35 15.8h-5.5" class="tk"/>
<path d="M567.9 0.5V125.8H684.6" class="sp"/>
<path d="M594.85 125.8v5.5M658.35 125.8v5.5M567.9 109.5h-5.5M567.9 62.65h-5.5M567.9 15.8h-5.5" class="tk"/>
<path d="M98.05 156V281.3H214.75" class="sp"/>
<path d="M115.4 281.3v5.5M191.1 281.3v5.5M98.05 251.25h-5.5M98.05 213h-5.5M98.05 174.75h-5.5" class="tk"/>
<text x="88.65" y="256.49" font-size="14.8" text-anchor="end" textLength="23.54" lengthAdjust="spacingAndGlyphs">0.2</text>
<text x="88.65" y="218.24" font-size="14.8" text-anchor="end" textLength="23.54" lengthAdjust="spacingAndGlyphs">0.3</text>
<text x="88.65" y="179.99" font-size="14.8" text-anchor="end" textLength="23.54" lengthAdjust="spacingAndGlyphs">0.4</text>
<path d="M254.5 156V281.3H371.2" class="sp"/>
<path d="M289.4 281.3v5.5M350.15 281.3v5.5M254.5 251.25h-5.5M254.5 213h-5.5M254.5 174.75h-5.5" class="tk"/>
<path d="M411.35 156V281.3H528.05" class="sp"/>
<path d="M450.3 281.3v5.5M508.7 281.3v5.5M411.35 251.25h-5.5M411.35 213h-5.5M411.35 174.75h-5.5" class="tk"/>
<path d="M567.9 156V281.3H684.6" class="sp"/>
<path d="M594.85 281.3v5.5M658.35 281.3v5.5M567.9 251.25h-5.5M567.9 213h-5.5M567.9 174.75h-5.5" class="tk"/>
<path d="M98.05 311.4V436.7H214.75" class="sp"/>
<path d="M115.4 436.7v5.5M191.1 436.7v5.5M98.05 432h-5.5M98.05 395.27h-5.5M98.05 358.54h-5.5M98.05 321.81h-5.5" class="tk"/>
<text x="88.65" y="437.24" font-size="14.8" text-anchor="end" textLength="23.54" lengthAdjust="spacingAndGlyphs">0.1</text>
<text x="88.65" y="400.51" font-size="14.8" text-anchor="end" textLength="23.54" lengthAdjust="spacingAndGlyphs">0.2</text>
<text x="88.65" y="363.78" font-size="14.8" text-anchor="end" textLength="23.54" lengthAdjust="spacingAndGlyphs">0.3</text>
<text x="88.65" y="327.05" font-size="14.8" text-anchor="end" textLength="23.54" lengthAdjust="spacingAndGlyphs">0.4</text>
<path d="M254.5 311.4V436.7H371.2" class="sp"/>
<path d="M289.4 436.7v5.5M350.15 436.7v5.5M254.5 432h-5.5M254.5 395.27h-5.5M254.5 358.54h-5.5M254.5 321.81h-5.5" class="tk"/>
<path d="M411.35 311.4V436.7H528.05" class="sp"/>
<path d="M450.3 436.7v5.5M508.7 436.7v5.5M411.35 432h-5.5M411.35 395.27h-5.5M411.35 358.54h-5.5M411.35 321.81h-5.5" class="tk"/>
<path d="M567.9 311.4V436.7H684.6" class="sp"/>
<path d="M594.85 436.7v5.5M658.35 436.7v5.5M567.9 432h-5.5M567.9 395.27h-5.5M567.9 358.54h-5.5M567.9 321.81h-5.5" class="tk"/>
<path d="M98.05 466.8V592.1H214.75" class="sp"/>
<path d="M115.4 592.1v5.5M191.1 592.1v5.5M98.05 583.55h-5.5M98.05 521.25h-5.5" class="tk"/>
<text x="115.4" y="612.1" font-size="14.8" text-anchor="middle" textLength="9.42" lengthAdjust="spacingAndGlyphs">2</text>
<text x="191.1" y="612.1" font-size="14.8" text-anchor="middle" textLength="9.42" lengthAdjust="spacingAndGlyphs">4</text>
<text x="88.65" y="588.79" font-size="14.8" text-anchor="end" textLength="23.54" lengthAdjust="spacingAndGlyphs">0.2</text>
<text x="88.65" y="526.49" font-size="14.8" text-anchor="end" textLength="23.54" lengthAdjust="spacingAndGlyphs">0.4</text>
<path d="M254.5 466.8V592.1H371.2" class="sp"/>
<path d="M289.4 592.1v5.5M350.15 592.1v5.5M254.5 583.55h-5.5M254.5 521.25h-5.5" class="tk"/>
<text x="289.4" y="612.1" font-size="14.8" text-anchor="middle" textLength="23.54" lengthAdjust="spacingAndGlyphs">0.2</text>
<text x="350.15" y="612.1" font-size="14.8" text-anchor="middle" textLength="23.54" lengthAdjust="spacingAndGlyphs">0.4</text>
<path d="M411.35 466.8V592.1H528.05" class="sp"/>
<path d="M450.3 592.1v5.5M508.7 592.1v5.5M411.35 583.55h-5.5M411.35 521.25h-5.5" class="tk"/>
<text x="450.3" y="612.1" font-size="14.8" text-anchor="middle" textLength="23.54" lengthAdjust="spacingAndGlyphs">0.2</text>
<text x="508.7" y="612.1" font-size="14.8" text-anchor="middle" textLength="23.54" lengthAdjust="spacingAndGlyphs">0.4</text>
<path d="M567.9 466.8V592.1H684.6" class="sp"/>
<path d="M594.85 592.1v5.5M658.35 592.1v5.5M567.9 583.55h-5.5M567.9 521.25h-5.5" class="tk"/>
<text x="594.85" y="612.1" font-size="14.8" text-anchor="middle" textLength="32.95" lengthAdjust="spacingAndGlyphs">0.25</text>
<text x="658.35" y="612.1" font-size="14.8" text-anchor="middle" textLength="32.95" lengthAdjust="spacingAndGlyphs">0.50</text>
<path d="M104 125.8L104 125.46 104.25 125.13 104.5 124.62 104.75 123.91 105 123.03 105.25 121.97 105.5 120.75 105.75 119.35 106 117.75 106.25 115.89 106.5 113.77 106.75 111.36 107 108.68 107.25 105.72 107.5 102.49 107.75 99 108.25 91.47 110.5 56.79 111 49.36 111.5 42.48 111.75 39.28 112 36.26 112.25 33.42 112.5 30.76 113 25.95 113.5 21.73 114 18.06 114.5 14.91 115 12.24 115.5 10.13 116 8.65 116.5 7.69 117 7.09 117.5 6.85 118 7.07 118.5 7.78 119 9.02 119.25 9.9 119.5 11.03 119.75 12.46 120 14.23 120.25 16.31 120.5 18.67 120.75 21.26 121 24.06 121.25 27.06 121.75 33.48 122.5 43.26 125 74.38 125.75 83.31 126.25 88.95 126.75 94.19 127.25 98.93 127.75 103.2 128.25 107 128.5 108.67 128.75 110.18 129.25 112.7 129.75 114.74 130.5 117.2 131 118.41 131.5 119.22 132.25 119.84 135.75 121.22 137 122.15 138.75 123.95 140.75 125.22 142.25 125.73 L142.25 125.8Z" class="fb"/>
<path d="M106.6 125.8L106.6 125.8 111.6 125.47 116.6 124.63 119.1 123.64 122.1 121.78 123.6 120.47 125.35 118.3 128.85 113.12 141.6 91.42 144.35 86.38 145.6 84.54 147.35 82.7 149.85 80.28 151.35 79.51 152.6 79.25 153.85 79.49 155.85 80.67 157.35 81.91 159.35 84.27 162.1 88.02 164.35 91.63 166.35 95.44 171.1 104.99 173.6 109.54 175.1 111.73 177.85 114.79 182.85 120.35 185.6 123.06 187.1 123.96 189.85 124.74 194.85 125.09 209.35 125.79 L209.35 125.8Z" class="fo"/>
<path d="M104 125.46 104.25 125.13 104.5 124.62 104.75 123.91 105 123.03 105.25 121.97 105.5 120.75 105.75 119.35 106 117.75 106.25 115.89 106.5 113.77 106.75 111.36 107 108.68 107.25 105.72 107.5 102.49 107.75 99 108.25 91.47 110.5 56.79 111 49.36 111.5 42.48 111.75 39.28 112 36.26 112.25 33.42 112.5 30.76 113 25.95 113.5 21.73 114 18.06 114.5 14.91 115 12.24 115.5 10.13 116 8.65 116.5 7.69 117 7.09 117.5 6.85 118 7.07 118.5 7.78 119 9.02 119.25 9.9 119.5 11.03 119.75 12.46 120 14.23 120.25 16.31 120.5 18.67 120.75 21.26 121 24.06 121.25 27.06 121.75 33.48 122.5 43.26 125 74.38 125.75 83.31 126.25 88.95 126.75 94.19 127.25 98.93 127.75 103.2 128.25 107 128.5 108.67 128.75 110.18 129.25 112.7 129.75 114.74 130.5 117.2 131 118.41 131.5 119.22 132.25 119.84 135.75 121.22 137 122.15 138.75 123.95 140.75 125.22 142.25 125.73" class="lb"/>
<path d="M106.6 125.8 111.6 125.47 116.6 124.63 119.1 123.64 122.1 121.78 123.6 120.47 125.35 118.3 128.85 113.12 141.6 91.42 144.35 86.38 145.6 84.54 147.35 82.7 149.85 80.28 151.35 79.51 152.6 79.25 153.85 79.49 155.85 80.67 157.35 81.91 159.35 84.27 162.1 88.02 164.35 91.63 166.35 95.44 171.1 104.99 173.6 109.54 175.1 111.73 177.85 114.79 182.85 120.35 185.6 123.06 187.1 123.96 189.85 124.74 194.85 125.09 209.35 125.79" class="lo"/>
<path d="M297.9 281.3L297.9 281.29 303.15 280.72 309.9 279.38 313.15 278.25 314.65 277.41 315.65 276.38 317.15 274.16 319.15 271.02 321.9 267.37 322.9 265.68 323.65 264.03 324.15 262.59 324.9 259.82 325.65 256.45 326.4 252.51 326.9 249.48 327.65 244.39 330.15 226.43 331.4 218.03 333.65 203.3 334.4 198.05 335.65 188.55 337.15 176.93 337.65 173.45 338.15 170.51 338.65 168.07 339.15 166.04 339.65 164.48 340.15 163.44 340.65 162.82 341.15 162.56 341.65 162.72 342.15 163.39 342.65 164.52 343.4 166.72 344.15 169.51 344.9 172.96 347.15 184.12 347.65 187.08 347.9 188.83 348.15 190.82 348.4 193.07 348.65 195.56 349.15 201.02 350.4 214.96 351.65 228.37 352.4 236.07 352.9 240.8 353.4 245.04 353.9 248.8 354.65 253.83 355.4 258.33 356.65 265.11 357.4 268.81 358.15 271.94 358.9 274.38 359.9 276.99 360.65 278.56 361.4 279.67 362.4 280.41 364.65 281.16 365.9 281.29 L365.9 281.3Z" class="fb"/>
<path d="M259.1 281.3L259.1 281.3 263.6 280.96 265.85 280.46 267.35 279.51 269.6 277.35 271.1 275.34 274.1 270.27 276.1 266.45 277.6 263.12 278.85 259.86 280.85 253.86 282.6 248.08 285.1 239.59 288.1 229.62 289.6 224.6 290.85 221.07 292.1 218.05 293.1 216.17 294.6 214.14 295.85 212.92 297.1 212.27 299.6 211.83 301.35 212.01 303.6 212.88 304.85 213.79 306.6 215.76 307.85 217.59 309.1 219.97 311.1 224.47 312.85 229.04 315.35 236.25 316.6 240.27 317.6 243.94 319.85 252.78 321.1 257.31 322.6 262.05 323.85 265.62 324.85 268.05 325.85 270 327.6 272.73 329.1 274.61 330.6 275.97 333.1 277.38 336.6 278.65 342.35 279.96 350.85 280.96 357.1 281.3 L357.1 281.3Z" class="fo"/>
<path d="M297.9 281.29 303.15 280.72 309.9 279.38 313.15 278.25 314.65 277.41 315.65 276.38 317.15 274.16 319.15 271.02 321.9 267.37 322.9 265.68 323.65 264.03 324.15 262.59 324.9 259.82 325.65 256.45 326.4 252.51 326.9 249.48 327.65 244.39 330.15 226.43 331.4 218.03 333.65 203.3 334.4 198.05 335.65 188.55 337.15 176.93 337.65 173.45 338.15 170.51 338.65 168.07 339.15 166.04 339.65 164.48 340.15 163.44 340.65 162.82 341.15 162.56 341.65 162.72 342.15 163.39 342.65 164.52 343.4 166.72 344.15 169.51 344.9 172.96 347.15 184.12 347.65 187.08 347.9 188.83 348.15 190.82 348.4 193.07 348.65 195.56 349.15 201.02 350.4 214.96 351.65 228.37 352.4 236.07 352.9 240.8 353.4 245.04 353.9 248.8 354.65 253.83 355.4 258.33 356.65 265.11 357.4 268.81 358.15 271.94 358.9 274.38 359.9 276.99 360.65 278.56 361.4 279.67 362.4 280.41 364.65 281.16 365.9 281.29" class="lb"/>
<path d="M259.1 281.3 263.6 280.96 265.85 280.46 267.35 279.51 269.6 277.35 271.1 275.34 274.1 270.27 276.1 266.45 277.6 263.12 278.85 259.86 280.85 253.86 282.6 248.08 285.1 239.59 288.1 229.62 289.6 224.6 290.85 221.07 292.1 218.05 293.1 216.17 294.6 214.14 295.85 212.92 297.1 212.27 299.6 211.83 301.35 212.01 303.6 212.88 304.85 213.79 306.6 215.76 307.85 217.59 309.1 219.97 311.1 224.47 312.85 229.04 315.35 236.25 316.6 240.27 317.6 243.94 319.85 252.78 321.1 257.31 322.6 262.05 323.85 265.62 324.85 268.05 325.85 270 327.6 272.73 329.1 274.61 330.6 275.97 333.1 277.38 336.6 278.65 342.35 279.96 350.85 280.96 357.1 281.3" class="lo"/>
<path d="M416 436.7L416 436.68 417.75 436.32 419.75 435.26 420.75 434.33 421.75 432.84 422.75 430.86 423.5 428.98 424.25 426.54 425 423.48 425.75 419.92 426.25 417.23 426.75 414.18 427.5 408.98 428 405.11 428.5 400.9 429.5 391.73 434 350.05 435 340.61 435.75 334.02 436.5 328.03 437 324.54 437.25 323.06 437.5 321.81 437.75 320.8 438.25 319.31 438.75 318.33 439.25 317.72 439.75 317.5 440.25 317.65 441 318.41 441.75 319.64 442.25 320.81 442.75 322.44 443.25 324.6 443.75 327.17 444.5 331.61 445 335 445.5 338.78 446.25 344.95 447 351.56 448 360.95 449.25 373.32 450.25 383.15 451 390.1 451.5 394.45 452 398.41 452.5 401.89 453 404.94 453.5 407.63 454.25 411.06 455 413.89 455.75 416.29 456.5 418.31 457.5 420.46 458.75 422.61 461 425.61 462 426.68 462.75 427.07 463.5 427 465.75 425.97 466.5 425.94 467 426.23 467.5 426.88 469.5 430.79 471.25 433.57 472 434.38 473 434.84 476 435.07 479 434.45 480.5 434.71 483.75 435.86 487 436.63 L487 436.7Z" class="fb"/>
<path d="M427.9 436.7L427.9 436.69 430.65 436.36 434.9 435.04 437.15 433.85 439.65 431.92 441.15 430.28 443.4 427.02 449.9 417.27 451.9 414.76 454.4 411.83 455.65 409.97 456.9 407.57 458.4 404 459.65 400.6 460.65 397.47 463.15 388.66 464.4 384.29 466.15 378.85 467.15 376.15 468.15 373.95 469.65 371.25 470.9 369.47 472.4 368.01 474.4 366.65 475.65 366.27 476.65 366.48 477.65 367.25 478.9 368.75 479.65 370 480.4 371.79 481.65 375.6 483.9 382.86 485.4 387.69 486.4 390.41 489.4 397.38 490.9 401.48 494.4 412.24 496.4 418.69 497.4 421.37 498.65 424.03 499.9 426.27 501.15 427.99 502.65 429.34 505.65 431.11 511.9 434.66 516.15 436.33 517.4 436.65 L517.4 436.7Z" class="fo"/>
<path d="M416 436.68 417.75 436.32 419.75 435.26 420.75 434.33 421.75 432.84 422.75 430.86 423.5 428.98 424.25 426.54 425 423.48 425.75 419.92 426.25 417.23 426.75 414.18 427.5 408.98 428 405.11 428.5 400.9 429.5 391.73 434 350.05 435 340.61 435.75 334.02 436.5 328.03 437 324.54 437.25 323.06 437.5 321.81 437.75 320.8 438.25 319.31 438.75 318.33 439.25 317.72 439.75 317.5 440.25 317.65 441 318.41 441.75 319.64 442.25 320.81 442.75 322.44 443.25 324.6 443.75 327.17 444.5 331.61 445 335 445.5 338.78 446.25 344.95 447 351.56 448 360.95 449.25 373.32 450.25 383.15 451 390.1 451.5 394.45 452 398.41 452.5 401.89 453 404.94 453.5 407.63 454.25 411.06 455 413.89 455.75 416.29 456.5 418.31 457.5 420.46 458.75 422.61 461 425.61 462 426.68 462.75 427.07 463.5 427 465.75 425.97 466.5 425.94 467 426.23 467.5 426.88 469.5 430.79 471.25 433.57 472 434.38 473 434.84 476 435.07 479 434.45 480.5 434.71 483.75 435.86 487 436.63" class="lb"/>
<path d="M427.9 436.69 430.65 436.36 434.9 435.04 437.15 433.85 439.65 431.92 441.15 430.28 443.4 427.02 449.9 417.27 451.9 414.76 454.4 411.83 455.65 409.97 456.9 407.57 458.4 404 459.65 400.6 460.65 397.47 463.15 388.66 464.4 384.29 466.15 378.85 467.15 376.15 468.15 373.95 469.65 371.25 470.9 369.47 472.4 368.01 474.4 366.65 475.65 366.27 476.65 366.48 477.65 367.25 478.9 368.75 479.65 370 480.4 371.79 481.65 375.6 483.9 382.86 485.4 387.69 486.4 390.41 489.4 397.38 490.9 401.48 494.4 412.24 496.4 418.69 497.4 421.37 498.65 424.03 499.9 426.27 501.15 427.99 502.65 429.34 505.65 431.11 511.9 434.66 516.15 436.33 517.4 436.65" class="lo"/>
<path d="M600.5 592.1L600.5 592.1 605 591.69 606.75 591.18 607.75 590.46 609.5 588.49 612 585.06 614.5 582.27 619.25 577.5 620.5 575.86 622.5 572.11 624 569.45 625.25 566.65 626.5 563.41 627 561.66 627.25 560.52 627.5 559.14 627.75 557.51 628 555.65 629 547.3 629.5 543.46 630 540.04 631 533.89 633 522.59 634.75 513.11 636 506.82 637.5 499.89 639 493.52 640.75 486.46 641.5 483.85 642.25 481.87 643 480.38 643.75 479.34 644.25 479.05 644.75 479.18 645.25 479.76 646 481.29 646.5 482.68 647 484.44 647.25 485.52 647.75 488.17 648.5 492.98 649.25 497.92 650 502.4 652.75 517.47 654.75 528.25 655.5 532.59 656.25 537.34 657.25 544.23 658.25 551.66 659.75 563.85 660.25 567.39 660.75 570.42 661.5 574.32 662 576.54 662.5 578.42 663.25 580.61 664.25 582.77 665.5 584.84 667.75 587.69 670 590.13 671.25 591.06 672.75 591.57 677.75 592.07 679 592.1 L679 592.1Z" class="fb"/>
<path d="M572 592.1L572 592.1 575.75 591.8 577.5 591.41 578.25 590.93 579 590.07 580 588.41 580.75 586.69 581.25 585.05 581.75 582.85 582.25 580.17 584.25 568.64 585.25 562.73 586 557.83 586.75 552.27 589.5 529.78 590.25 524.11 591 518.91 591.75 514.23 592.5 510.25 593.25 506.85 594.25 502.91 595.25 499.5 597.25 493.53 598 490.88 600.5 480.92 601.75 476.05 602.25 474.48 602.75 473.43 603 473.15 603.25 473.05 603.75 473.31 604.25 474.11 604.75 475.37 605.25 477.13 605.5 478.31 605.75 479.77 606 481.57 606.25 483.7 606.5 486.11 607 491.44 608 502.76 608.5 507.99 609 512.72 609.75 519.18 611 529.2 611.75 534.72 612.25 538.02 613 542.41 613.75 546.29 614.5 549.74 615.25 552.79 616.25 556.32 618.25 562.46 620.25 568.37 621.25 570.94 622.25 573.03 623.75 575.55 626 578.71 628 581.3 629.5 583.83 631.25 586.92 632.5 588.5 634.5 590.3 635.75 590.97 640 591.7 646 592.09 646.75 592.1 L646.75 592.1Z" class="fo"/>
<path d="M600.5 592.1 605 591.69 606.75 591.18 607.75 590.46 609.5 588.49 612 585.06 614.5 582.27 619.25 577.5 620.5 575.86 622.5 572.11 624 569.45 625.25 566.65 626.5 563.41 627 561.66 627.25 560.52 627.5 559.14 627.75 557.51 628 555.65 629 547.3 629.5 543.46 630 540.04 631 533.89 633 522.59 634.75 513.11 636 506.82 637.5 499.89 639 493.52 640.75 486.46 641.5 483.85 642.25 481.87 643 480.38 643.75 479.34 644.25 479.05 644.75 479.18 645.25 479.76 646 481.29 646.5 482.68 647 484.44 647.25 485.52 647.75 488.17 648.5 492.98 649.25 497.92 650 502.4 652.75 517.47 654.75 528.25 655.5 532.59 656.25 537.34 657.25 544.23 658.25 551.66 659.75 563.85 660.25 567.39 660.75 570.42 661.5 574.32 662 576.54 662.5 578.42 663.25 580.61 664.25 582.77 665.5 584.84 667.75 587.69 670 590.13 671.25 591.06 672.75 591.57 677.75 592.07 679 592.1" class="lb"/>
<path d="M572 592.1 575.75 591.8 577.5 591.41 578.25 590.93 579 590.07 580 588.41 580.75 586.69 581.25 585.05 581.75 582.85 582.25 580.17 584.25 568.64 585.25 562.73 586 557.83 586.75 552.27 589.5 529.78 590.25 524.11 591 518.91 591.75 514.23 592.5 510.25 593.25 506.85 594.25 502.91 595.25 499.5 597.25 493.53 598 490.88 600.5 480.92 601.75 476.05 602.25 474.48 602.75 473.43 603 473.15 603.25 473.05 603.75 473.31 604.25 474.11 604.75 475.37 605.25 477.13 605.5 478.31 605.75 479.77 606 481.57 606.25 483.7 606.5 486.11 607 491.44 608 502.76 608.5 507.99 609 512.72 609.75 519.18 611 529.2 611.75 534.72 612.25 538.02 613 542.41 613.75 546.29 614.5 549.74 615.25 552.79 616.25 556.32 618.25 562.46 620.25 568.37 621.25 570.94 622.25 573.03 623.75 575.55 626 578.71 628 581.3 629.5 583.83 631.25 586.92 632.5 588.5 634.5 590.3 635.75 590.97 640 591.7 646 592.09 646.75 592.1" class="lo"/>
<path d="M278.1 692.7 258.6 710.5 264.7 710.6 267.1 706.2 265.2 748.3 279.9 706.5 272.3 706.9 270.7 701.2 274.8 707.6 263.8 719.7 265.2 744.6 264 712 274.7 713.4 273.4 717 274.9 727.1 279.5 707.8 259.6 702 266.4 708.5 272.1 695.7 262 736.7 266.5 703.3 278.5 717.9 278.1 736.9 279.7 704.4 271.2 712.7 269.1 697.8 279.8 701.8 268.5 742.5 273.7 699.9 281.8 702.3 267.7 698.2 265.9 705.8 270.8 715.7 275.9 699.9 274.4 721.9 272.1 715.2 275.3 707.3 257 693.6 264.5 720.6 272.2 701.2 263.8 715.2 262.4 741.7 260.3 693.2 264.6 730.9 269.4 703.3 261.8 691 272.4 734 285.9 690.6 269.9 735.9 281.2 705.8 273.1 712.6 262.8 724 269.1 730 263.1 710.3 276.2 729.6 260.8 692.9 281.6 705 275.2 719.4 255.3 713.4 277.4 700 283.2 708.2 264.4 703.8 278.9 705.4 256.6 709.6 272.4 743.8 257.9 711.2 274.4 721.4 255.7 697.9 252.5 728.7 273.9 712.6 285.5 740.2 266.7 728.5 277.5 708.9 271.8 706.3 268.1 695.3 275.7 711.8 285.4 690.9 259.9 689.2 274.6 736.7 273.4 722.3 259 700.5 284.1 704 284.4 729.3 263.1 704.4 285.4 699.7 271.3 724 269.7 726.4 282.9 707.2 272.7 701.9 273.2 720.9 282.3 717.5 279.4 735.8 277.9 711 259.9 711.1 260.6 737 280 705.2 263.4 705.5 272.2 688.8 261.9 701.1 269.5 719.4 259.9 696.1 284.3 703.1 262.6 704.9 269.9 702.4 269.3 699.6 281.1 698.1 260.1 716 270.6 689.5 269.2 710.5 274.5 732.6 274.7 704.8 267.6 725.3 272.7 712.3 268.5 744.6 274.8 697.8 270 705.9 265.6 708.1 270.6 704.2 273.3 732.3 289.8 700.2 267.2 719.7 273 729.9 283.4 696.2 254.4 709.6 256 696.7 260.6 695.7 270 719.1 274.2 698 278.1 750.8 269 699.8 250.5 702.1 250.4 690.9 279.4 700.8 272.3 717 261.5 723.6 280.2 699.9 261.6 748.9 280.2 703.1 282.7 704 264.5 701.2 261.3 694.4 277.8 702.8 263.8 739.4 277.6 710.2 261.3 708.3 277.2 710.2 271.5 735 267.7 720.6 264.8 733.3 272.8 707.8 255.4 704.2 268.6 701.8 268.4 741.9 275.5 731 261.8 722.9 285.1 701.3 268.1 690.1 261.5 704 281.6 712.9 284.3 706 269.3 697.6 264 712.8 271 693.5 265.3 707 268.2 699.7 283.5 705.7 273.8 717.4 271.9 727.9 273.9 693.3 270.4 709 277.8 703.8 276.7 736.4 268 711.7 271.8 695.9 290.2 707.7 273.9 722.5 269.6 729.2 288 700.6 270.9 689.3 262.6 716.7 276.5 700.2 263.2 696.5 266.8 703.5 273.6 701.4 269.8 702.3 264.7 706.7 266.4 705.8 266.5 721.8 280 711.2 265.1 706.6 266.7 723 284.3 735.9 266.3 703.2 280.3 741.8 280 728.6 269.8 728.1 259.7 710.8 273.9 733 276.8 690.7 277.9 722.6 271.3 735.9 280.5 707.6 280.6 727.9 261.9 698.5 282.1 710.7 272.2 716.3 266.7 720.6 268.3 709.6 286.9 696.6 278.1 719.7 257.6 719.1 271.4 741.1 269.7 704.5 269.6 721.4 267.1 719.7 261.2 735.2 276.8 729.5 262.7 693.3 268.4 736 266.4 720.1 264.6 696.7 276.7 709.8 274.2 695.6 266.3 732.6 264 722.4 267.1 708.6 279.5 689.5 271.9 707.5 272.3 748.8 268.4 715.7 268.9 719.4 272.6 707.5 255.3 698.8 283.4 712.6 264.2 698.7 266 696.7 280.4 724.9 272.7 698.1 271.2 726.4 267.2 741.5 258.5 709.6 272.4 706.6 279.5 723.9 263.1 695.6 282.1 702.2 263.1 731.1 264.8 703.6 274.1 741.6 270.9 719.2 276.5 703.3 265.2 715.3 262.3 702.3 256.4 712.7 260.7 698.2 261.6 695.7 259.4 706.7 273.4 705.9 265.9 717.5 257.8 736.3 286 746.6 263.9 699.9 261.3 715.4 297.8 705.6 301.6 702.1 294.6 700.3 296.2 707.4 300.9 695.1 293 698.6 244 696.8 239.2 702.1 235.1 693.3 247.1 698.6 232.9 702.1 294.6 712.7 299.3 716.2" class="mb"/>
<path d="M260.9 759 243.1 779.1 245.7 772 243.2 760.3 265.1 777.5 251.6 761.8 251.3 783.5 245.3 779.1 257 765.2 255.2 776.6 246.5 757.1 265.9 772.6 257.4 770.5 248.5 766.3 247.3 766.7 258.4 767.8 255.5 762.5 259 765.1 253.4 767.9 255.5 756.8 243.4 767.5 239.5 771.4 242.8 782.5 258 774.5 255.7 765.7 254.2 762.8 259.4 769.2 251.5 765.5 266.1 770.7 253.8 767 255 765 250.1 779.1 243.8 766.6 261.2 769.3 261.6 766.2 246.6 784.8 267.7 758.7 265 750.1 268.8 766.8 252.1 771.3 251.4 765.7 244.8 765.1 256.7 775 246.4 766.8 236 772.9 256 767.1 243.5 785.1 245.4 773.1 257.8 761.2 250.4 767.1 253.2 762.5 258.4 757.9 257.9 759 258.2 771.5 254.4 767.3 259.2 759.8 256.3 762.7 256.5 758.6 251.2 759.5 249.9 779.7 237.5 773.9 253.1 769.2 255 768.7 249 767.5 242.3 765.8 255.6 776.6 238.1 763 248.7 773.5 250.8 765.4 251.7 776.1 267.1 769.9 244.9 768.4 256 765.7 252.4 764.2 239.5 768.4 233.8 759.3 253.4 762.3 267.9 769.3 252 777.8 258.7 769.4 260 776.3 250.1 756.8 248.8 777.6 242.2 765.7 252.2 769.6 255.4 771.1 247 767.6 236.9 770 257.7 771.5 252.9 770.5 238.7 770.5 247.6 780.5 255.9 765.9 254.9 756.3 252.1 776.8 253 771.8 245.9 774 265.6 764.3 249.5 767.8 242 771.1 249.8 770.5 258.1 755.9 243.9 773.9 249.4 767.7 254.6 761.3 246.6 772.7 249.1 777.4 245.3 768.7 255 767.7 242.3 768.8 254.7 767.1 248.3 777.1 253 757.7 253.7 769.7 269.4 762.5 259.5 757.9 256.6 762.8 255 764.8 249.6 770.4 254.9 770.2 239.7 771.2 252.2 765.8 262.4 767.7 242.1 762.5 245.9 768.3 244.1 764.3 237.8 772.3 259.9 774.5 249.7 754.5 255.2 764.7 262.2 760.7 242.6 768.6 256.4 772.1 249.3 768 253.9 769.4 242.3 764.2 248.3 773 248.7 776.8 251.2 750.7 243.6 770.4 253.4 769.6 243.2 769.7 255.2 766.6 256.8 774.4 256.7 766.8 254.4 777.8 243 775.3 235.8 770 266 753.7 255.1 768 244 768.5 243 764.8 251.7 767.1 256 763.8 254.3 777.9 253.3 755.2 262.9 758.7 247 763.8 249.6 775.8 236.4 772.2 251.4 766.8 256.6 765.5 250.7 775.4 240.2 776.2 265.3 776.2 248.5 768.9 249.3 775.8 251 769.3 249.8 778.1 249.7 772.4 238.2 773 258.4 768.1 253.9 769.3 253.9 760.2 250.6 761.8 236.3 776.2 244.1 767.8 254.6 768.1 254.9 782.1 248.4 770.3 247.8 768.1 242 763.6 252.9 769.9 257.2 759.9 247.3 756.1 260.8 765.8 250.3 773.4 245 782.3 248.7 755.9 240 766.6 254.8 774.6 242.5 772.3 243.2 767.8 257.8 772.3 263.6 763.1 261.5 756.9 255.1 760.6 239.5 776.2 243.4 768.8 255.5 773.9 260.5 770.4 244.9 764.9 252.9 768.2 248.4 776.7 258.9 760.4 248.9 764.5 240.9 771.9 243.6 763.8 242.9 773.2 262.3 764.7 261 759 255.7 781.3 263.9 751.2 246.1 757 263.3 771 249.1 763.6 253.6 763.7 255.9 759.3 248.7 761.8 254.4 767.5" class="mo"/>
<path d="M175.6 855.3 162.4 882.5 162.3 874 165.6 870.6 134.4 873.3 165.3 852.9 165 863.4 169.3 865.7 164.6 860 155.5 875.2 137.2 873.3 161.3 875 160.3 860.1 157.6 861.9 150.1 859.8 164.3 853.5 168.7 881.1 163.9 871.7 173.3 863.7 143 877.8 167.7 871.5 156.9 854.9 142.8 855.4 166.9 853.3 160.8 865 171.8 868 168.8 853 138.7 868.7 170.2 861.5 168.4 850.3 171.5 869.8 165.9 872.3 158.6 865.6 170.2 858.5 153.9 860.6 158.9 863.8 164.7 859.3 174.9 884.8 154.9 874.2 169.3 863.6 158.9 875.3 139.3 877.2 175.2 880.1 147.3 874.2 167.7 867.5 176.8 878 145 863.3 177.1 844.6 143.6 866.8 165.9 851.1 160.8 862.4 152.4 876.7 148 867.9 162.6 876.2 148.2 858.1 175.4 879.4 166.4 850.5 155.8 859.5 160.2 887.1 170.2 856.3 164.1 848.3 167.3 874.5 166.1 854.4 163 885.2 137.7 863.3 161.8 883.5 154.3 860.6 171.7 886.5 148.9 890.9 160.8 861.2 140.4 845.1 149 871.2 163.6 856.3 165.5 864.2 173.6 869.3 161.5 858.8 176.9 845.3 178.1 880.7 143 860.3 153.6 862 169.8 882 167.2 847.1 148.4 846.7 166.9 876.3 170.3 845.2 152.4 864.9 150.6 867.1 164.8 848.7 168.7 862.8 154.7 862.2 157.2 849.6 143.7 853.6 162 855.7 161.9 880.7 142.7 879.8 166.3 852.8 166 875.9 178.4 863.6 169.4 877.9 155.8 867.4 173 880.7 167.8 846.8 166.6 877 168.4 866.9 170.4 867.7 171.6 851.3 158.3 880.4 177.9 865.9 162.4 867.7 146 860.5 166.6 860.1 151.4 870.1 161.1 862.9 137.1 868.7 171.8 859.9 165.8 866.6 164.1 872.7 167 865.8 146.2 862 170 839.1 155.6 870.5 148 862.5 172.9 848.1 163.1 888.3 172.6 886.1 173.4 879.6 156 866.6 171.7 860.9 132.5 855.4 170.3 868 168.6 893.8 176.9 893.8 169.5 853.7 157.6 863.5 152.7 878.5 170.2 852.5 133.9 878.3 167.8 852.5 167.2 849 169.3 874.3 174.3 878.8 168.1 855.8 141 875.2 162.6 856 164 878.7 162.6 856.6 144.2 864.6 154.9 869.9 145.5 873.8 164.4 862.8 167.1 886.9 168.8 868.6 139.1 868.9 147.2 859 153.2 878.1 169.2 845.7 177.5 869.3 167.2 878.4 160.6 850.6 165.7 846.8 171.9 867.7 160.7 875 175 865.3 165 873.2 170.4 869.1 165.9 847.9 157.2 861.4 149.5 864 175.1 861.3 163.5 866.1 167.3 855.9 143.2 857.4 161.5 869.5 173.2 864.2 164.5 838.6 153.5 861.2 148.6 867.3 169.7 841.7 178.1 865.3 157.8 877 170 857.6 172.8 876.2 167.5 871.1 169.1 861.7 168.5 866.9 165.2 874 165.9 871.7 154 871.5 161.8 852.8 165.3 873.5 153.1 871.2 143.6 846.8 167.8 871.8 139.2 852.4 149 852.7 149.4 866.9 162.2 880.9 145.7 861.2 177 857.2 153.4 855.7 143.5 864.8 164.5 852.1 149.5 851.9 171.3 877.8 162.3 849.9 158.1 863.6 154.9 871.2 163 869 172.7 843.2 155.5 855.3 156 883.9 139.8 864.7 166.8 867 154.3 867.2 155.6 870.7 144.1 878.9 148.3 857.2 175.1 876.8 143.5 868.9 155.3 871.6 172.6 874.1 162.9 857.3 173.4 860.9 146 871.8 153.6 875 163.8 870.6 177.9 853.5 164.6 864.1 134 863.5 158.5 868.9 155.8 868.1 164.6 863.1 171 887.1 160.9 848.1 171.1 874.7 172.6 872.2 151.7 852.2 171.5 862.8 150.6 865 139.4 870.6 163 882.6 165.2 863.4 152.5 853.5 173.4 876.2 168.5 849.8 147.1 876.2 167.5 873.8 139.4 861 155.9 865.5 167.7 857.6 158.8 873.3 168.5 877.3 160.7 885.6 171.5 879.6 173.3 878.3 165.2 881.4 165.8 862 157.2 872.4 143.3 883.7 135.6 844.5 170.2 875.2 158.8 878.7 166 828.1 168.6 822.8 169.9 832.5 164.7 830.3 173.8 823.7 171.2 834.7 172.5 902.8 168.6 909.4 175.1 915.1 171.2 898.4 168.6 918.2 160.8 832.5 158.2 825.9" class="mb"/>
<path d="M126.5 879.3 111.6 904 116.8 900.5 125.5 903.8 112.8 873.5 124.4 892.2 108.4 892.7 111.6 900.9 121.9 884.7 113.4 887.2 127.8 899.3 116.4 872.4 117.9 884.1 121.1 896.5 120.8 898.1 119.9 882.8 123.9 886.7 122 881.9 119.9 889.7 128.1 886.8 120.2 903.7 117.3 909.1 109 904.4 115 883.3 121.5 886.5 123.7 888.6 118.9 881.4 121.7 892.3 117.8 872.1 120.6 889.1 122.1 887.4 111.6 894.2 120.8 903.1 118.8 878.9 121.2 878.3 107.4 899.2 126.7 869.9 133 873.6 120.7 868.4 117.4 891.5 121.5 892.5 121.9 901.7 114.7 885.1 120.7 899.4 116.1 913.9 120.5 886 107.1 903.5 116 900.8 124.8 883.6 120.5 893.8 123.9 890 127.3 882.7 126.5 883.5 117.2 883.1 120.3 888.3 125.9 881.6 123.7 885.7 126.8 885.4 126.1 892.7 111.2 894.5 115.5 911.8 118.9 890.1 119.3 887.4 120.2 895.8 121.5 905.2 113.4 886.6 123.5 910.9 115.7 896.3 121.7 893.3 113.8 892.1 118.4 870.7 119.5 901.6 121.5 886.1 122.6 891.2 119.5 909 126.3 917 124 889.6 118.8 869.6 112.5 891.6 118.7 882.3 113.6 880.6 128.1 894.2 112.7 896.1 121.5 905.2 118.6 891.4 117.5 886.9 120.1 898.5 118.3 912.7 117.2 883.8 118 890.4 118 910.1 110.5 897.8 121.4 886.3 128.4 887.6 113.3 891.6 117 890.3 115.4 900.1 122.5 872.8 120 895.1 117.5 905.6 118 894.7 128.7 883.2 115.5 902.9 120 895.2 124.8 888 116.3 899.2 112.8 895.7 119.3 901 120 887.5 119.2 905.1 120.4 888 113.1 896.8 127.4 890.2 118.5 889.3 123.9 867.4 127.3 881.3 123.7 885.3 122.2 887.4 118.1 895 118.2 887.7 117.4 908.8 121.4 891.3 120 877.2 123.8 905.4 119.6 900.2 122.6 902.6 116.6 911.4 115 880.6 129.8 894.9 122.3 887.2 125.2 877.5 119.4 904.7 116.8 885.6 119.8 895.5 118.8 889 122.6 905.2 116.1 896.7 113.3 896.2 132.6 892.7 118 903.4 118.6 889.7 118.5 903.9 120.9 887.2 115.1 885 120.7 885.1 112.6 888.4 114.4 904.2 118.3 914.1 130.4 872.2 119.8 887.4 119.4 902.8 122.2 904.2 120.4 892 122.9 886.1 112.5 888.5 129.3 889.9 126.7 876.6 122.9 898.7 114 895 116.7 913.3 120.7 892.5 121.6 885.2 114.3 893.4 113.7 908 113.7 873.1 119.1 896.6 114.1 895.4 118.8 893 112.3 894.7 116.5 894.9 116.1 910.8 119.8 882.8 118.8 889 125.6 889.1 124.4 893.7 113.8 913.5 120 902.6 119.8 888 109.3 887.6 118.1 896.6 119.8 897.5 123.1 905.6 118.4 890.4 125.8 884.4 128.6 898.2 121.4 879.4 115.8 894 109.2 901.4 128.8 896.3 120.8 908.3 114.9 887.8 116.6 904.8 120 903.9 116.7 883.6 123.4 875.5 128 878.4 125.3 887.4 113.7 909 119.2 903.5 115.4 886.8 118 879.8 122.1 901.5 119.6 890.4 113.3 896.6 125.4 882.1 122.4 895.9 116.9 907 122.9 903.3 115.9 904.3 122.3 877.3 126.5 879.1 110 886.5 132.2 875.2 128 899.8 117.6 876 123.1 895.6 123 889.4 126.2 886.3 124.4 896.2 120.2 888.3" class="mo"/>
<path d="M100.3 686.1V790.1H188.2" class="sp"/>
<path d="M116.4 790.1v5.5M142.5 790.1v5.5M168.6 790.1v5.5M100.3 772.6h-5.5M100.3 737.35h-5.5M100.3 702.1h-5.5" class="tk"/>
<text x="91.3" y="777.38" font-size="13.5" text-anchor="end" textLength="21.47" lengthAdjust="spacingAndGlyphs">0.1</text>
<text x="91.3" y="742.13" font-size="13.5" text-anchor="end" textLength="21.47" lengthAdjust="spacingAndGlyphs">0.2</text>
<text x="91.3" y="706.88" font-size="13.5" text-anchor="end" textLength="21.47" lengthAdjust="spacingAndGlyphs">0.3</text>
<path d="M224.5 686.1V790.1H312.4" class="sp"/>
<path d="M231.3 790.1v5.5M262.95 790.1v5.5M294.6 790.1v5.5M224.5 772.6h-5.5M224.5 737.35h-5.5M224.5 702.1h-5.5" class="tk"/>
<path d="M100.3 818.2V922.2H188.2" class="sp"/>
<path d="M116.4 922.2v5.5M142.5 922.2v5.5M168.6 922.2v5.5M100.3 920.4h-5.5M100.3 876.45h-5.5M100.3 832.5h-5.5" class="tk"/>
<text x="116.4" y="940.7" font-size="13.5" text-anchor="middle" textLength="21.47" lengthAdjust="spacingAndGlyphs">0.1</text>
<text x="142.5" y="940.7" font-size="13.5" text-anchor="middle" textLength="21.47" lengthAdjust="spacingAndGlyphs">0.2</text>
<text x="168.6" y="940.7" font-size="13.5" text-anchor="middle" textLength="21.47" lengthAdjust="spacingAndGlyphs">0.3</text>
<text x="91.3" y="925.18" font-size="13.5" text-anchor="end" textLength="21.47" lengthAdjust="spacingAndGlyphs">0.1</text>
<text x="91.3" y="881.23" font-size="13.5" text-anchor="end" textLength="21.47" lengthAdjust="spacingAndGlyphs">0.2</text>
<text x="91.3" y="837.28" font-size="13.5" text-anchor="end" textLength="21.47" lengthAdjust="spacingAndGlyphs">0.3</text>
<path d="M224.5 818.2V922.2H312.4" class="sp"/>
<path d="M231.3 922.2v5.5M262.95 922.2v5.5M294.6 922.2v5.5M224.5 920.4h-5.5M224.5 876.45h-5.5M224.5 832.5h-5.5" class="tk"/>
<text x="231.3" y="940.7" font-size="13.5" text-anchor="middle" textLength="21.47" lengthAdjust="spacingAndGlyphs">0.1</text>
<text x="262.95" y="940.7" font-size="13.5" text-anchor="middle" textLength="21.47" lengthAdjust="spacingAndGlyphs">0.2</text>
<text x="294.6" y="940.7" font-size="13.5" text-anchor="middle" textLength="21.47" lengthAdjust="spacingAndGlyphs">0.3</text>
<path d="M125 790.1L125 790.09 127.75 789.68 131.75 788.38 134 787.09 137.25 784.96 141.5 782.81 143.5 781.26 146 778.6 148.5 775.48 149.75 773.55 150.75 771.57 151.5 769.65 152.5 766.49 153.5 762.9 155.5 754.78 156.5 751.37 157.75 747.74 159.5 743.42 160.25 741.85 161 740.7 162.25 739.54 163.25 739.04 164 739.04 165 739.62 166 740.73 166.75 741.93 167.5 743.69 168.5 746.75 169.75 751.09 170.75 755.1 171.5 758.57 172.25 762.65 173.5 770.03 174.5 775.26 175.25 778.76 176 781.71 176.75 784.13 177.5 786.19 178.25 787.71 179 788.55 180.75 789.43 183 790.01 184 790.09 L184 790.1Z" class="fb"/>
<path d="M103.3 790.1L103.3 790.08 104.55 789.79 106.05 788.85 107.05 787.87 107.8 786.67 108.3 785.45 108.8 783.83 109.05 782.84 109.3 781.7 109.55 780.34 109.8 778.71 110.05 776.8 110.3 774.62 110.8 769.69 111.55 761.59 112.3 752.96 113.55 737.85 114.3 728.43 115.55 712.08 116.05 705.99 116.3 703.19 116.55 700.6 116.8 698.28 117.05 696.3 117.3 694.67 117.55 693.4 117.8 692.48 118.05 691.88 118.3 691.62 118.55 691.71 118.8 692.17 119.05 692.97 119.3 694.1 119.55 695.57 119.8 697.38 120.05 699.56 120.3 702.09 120.55 704.88 121.3 714 122.3 726.29 122.8 732.03 123.3 737.39 123.8 742.35 124.3 746.89 124.8 751.04 125.3 754.83 125.8 758.26 126.3 761.31 127.05 765.26 128.05 769.76 130.3 779.14 131.05 781.78 131.8 783.82 132.8 785.88 133.55 787.04 134.55 788.03 136.8 789.42 138.55 790 139.3 790.08 L139.3 790.1Z" class="fo"/>
<path d="M125 790.09 127.75 789.68 131.75 788.38 134 787.09 137.25 784.96 141.5 782.81 143.5 781.26 146 778.6 148.5 775.48 149.75 773.55 150.75 771.57 151.5 769.65 152.5 766.49 153.5 762.9 155.5 754.78 156.5 751.37 157.75 747.74 159.5 743.42 160.25 741.85 161 740.7 162.25 739.54 163.25 739.04 164 739.04 165 739.62 166 740.73 166.75 741.93 167.5 743.69 168.5 746.75 169.75 751.09 170.75 755.1 171.5 758.57 172.25 762.65 173.5 770.03 174.5 775.26 175.25 778.76 176 781.71 176.75 784.13 177.5 786.19 178.25 787.71 179 788.55 180.75 789.43 183 790.01 184 790.09" class="lb"/>
<path d="M103.3 790.08 104.55 789.79 106.05 788.85 107.05 787.87 107.8 786.67 108.3 785.45 108.8 783.83 109.05 782.84 109.3 781.7 109.55 780.34 109.8 778.71 110.05 776.8 110.3 774.62 110.8 769.69 111.55 761.59 112.3 752.96 113.55 737.85 114.3 728.43 115.55 712.08 116.05 705.99 116.3 703.19 116.55 700.6 116.8 698.28 117.05 696.3 117.3 694.67 117.55 693.4 117.8 692.48 118.05 691.88 118.3 691.62 118.55 691.71 118.8 692.17 119.05 692.97 119.3 694.1 119.55 695.57 119.8 697.38 120.05 699.56 120.3 702.09 120.55 704.88 121.3 714 122.3 726.29 122.8 732.03 123.3 737.39 123.8 742.35 124.3 746.89 124.8 751.04 125.3 754.83 125.8 758.26 126.3 761.31 127.05 765.26 128.05 769.76 130.3 779.14 131.05 781.78 131.8 783.82 132.8 785.88 133.55 787.04 134.55 788.03 136.8 789.42 138.55 790 139.3 790.08" class="lo"/>
<path d="M229.3 922.2L229.3 922.17 237.3 921.08 246.3 920.49 248.55 919.9 250.55 918.91 251.8 917.79 253.3 915.84 254.55 913.85 255.55 911.8 258.8 903.92 261.8 896.85 264.05 891.08 264.8 888.84 265.55 886.16 266.3 882.83 267.3 877.6 268.55 870.61 269.55 864.77 270.05 862.1 270.55 859.79 271.3 856.95 272.05 854.73 272.8 853.16 273.55 852.12 274.05 851.76 274.55 851.76 275.05 852.13 275.8 853.24 276.55 854.83 277.05 856.23 277.55 858.03 278.3 861.37 279.05 865.19 279.8 869.48 280.55 874.33 282.3 886.59 283.8 897.36 285.05 905.54 285.8 910.1 286.3 912.7 286.8 914.72 287.3 916.17 288.05 917.73 289.05 919.31 290.05 920.35 291.05 920.74 293.05 920.5 295.55 920.12 297.55 920.41 301.3 921.29 308.05 922.18 L308.05 922.2Z" class="fb"/>
<path d="M229.9 922.2L229.9 922.19 232.4 921.88 234.9 920.97 235.9 920.24 236.4 919.48 236.9 918.33 237.65 916.06 239.4 910.07 240.15 907.1 240.65 904.81 241.15 902.13 241.65 898.92 242.15 895.15 242.9 888.79 244.4 875.37 247.4 847.59 248.65 836.37 249.15 832.41 249.4 830.68 249.65 829.14 250.15 826.52 250.4 825.44 250.65 824.55 250.9 823.89 251.15 823.48 251.4 823.32 251.65 823.4 251.9 823.68 252.4 824.76 252.9 826.42 253.15 827.53 253.4 828.9 253.65 830.56 253.9 832.52 254.15 834.75 254.4 837.2 254.9 842.58 255.4 848.52 256.15 857.98 256.4 860.99 256.65 863.81 256.9 866.42 257.15 868.82 257.65 873.14 258.15 877.01 258.9 882.23 259.65 886.88 261.4 897.18 262.4 903.06 263.15 906.97 263.9 910.5 264.65 913.52 265.15 915.09 265.9 916.84 267.15 918.98 268.15 920.21 269.15 920.98 271.65 921.89 273.9 922.19 L273.9 922.2Z" class="fo"/>
<path d="M229.3 922.17 237.3 921.08 246.3 920.49 248.55 919.9 250.55 918.91 251.8 917.79 253.3 915.84 254.55 913.85 255.55 911.8 258.8 903.92 261.8 896.85 264.05 891.08 264.8 888.84 265.55 886.16 266.3 882.83 267.3 877.6 268.55 870.61 269.55 864.77 270.05 862.1 270.55 859.79 271.3 856.95 272.05 854.73 272.8 853.16 273.55 852.12 274.05 851.76 274.55 851.76 275.05 852.13 275.8 853.24 276.55 854.83 277.05 856.23 277.55 858.03 278.3 861.37 279.05 865.19 279.8 869.48 280.55 874.33 282.3 886.59 283.8 897.36 285.05 905.54 285.8 910.1 286.3 912.7 286.8 914.72 287.3 916.17 288.05 917.73 289.05 919.31 290.05 920.35 291.05 920.74 293.05 920.5 295.55 920.12 297.55 920.41 301.3 921.29 308.05 922.18" class="lb"/>
<path d="M229.9 922.19 232.4 921.88 234.9 920.97 235.9 920.24 236.4 919.48 236.9 918.33 237.65 916.06 239.4 910.07 240.15 907.1 240.65 904.81 241.15 902.13 241.65 898.92 242.15 895.15 242.9 888.79 244.4 875.37 247.4 847.59 248.65 836.37 249.15 832.41 249.4 830.68 249.65 829.14 250.15 826.52 250.4 825.44 250.65 824.55 250.9 823.89 251.15 823.48 251.4 823.32 251.65 823.4 251.9 823.68 252.4 824.76 252.9 826.42 253.15 827.53 253.4 828.9 253.65 830.56 253.9 832.52 254.15 834.75 254.4 837.2 254.9 842.58 255.4 848.52 256.15 857.98 256.4 860.99 256.65 863.81 256.9 866.42 257.15 868.82 257.65 873.14 258.15 877.01 258.9 882.23 259.65 886.88 261.4 897.18 262.4 903.06 263.15 906.97 263.9 910.5 264.65 913.52 265.15 915.09 265.9 916.84 267.15 918.98 268.15 920.21 269.15 920.98 271.65 921.89 273.9 922.19" class="lo"/>
<path d="M430.85 808.4V920.5H525.3" class="sp"/>
<path d="M431.4 920.5v5.5M525.1 920.5v5.5M430.85 876.1h-5.5M430.85 827.8h-5.5" class="tk"/>
<text x="431.4" y="941.3" font-size="14.3" text-anchor="middle" textLength="22.74" lengthAdjust="spacingAndGlyphs">0.0</text>
<text x="525.1" y="941.3" font-size="14.3" text-anchor="middle" textLength="22.74" lengthAdjust="spacingAndGlyphs">0.5</text>
<text x="421.45" y="881.16" font-size="14.3" text-anchor="end" textLength="22.74" lengthAdjust="spacingAndGlyphs">0.2</text>
<text x="421.45" y="832.86" font-size="14.3" text-anchor="end" textLength="22.74" lengthAdjust="spacingAndGlyphs">0.4</text>
<path d="M475.3 920.5L475.3 920.49 477.55 920.16 480.05 919.23 481.05 918.52 483.3 915.78 484.3 915.13 487.3 914.45 491.05 913.99 491.8 913.56 492.55 912.61 494.3 909.82 499.55 903.74 500.3 902.5 500.8 901.24 501.05 900.38 501.3 899.33 501.55 898.08 501.8 896.62 502.05 894.95 502.3 893.06 502.55 890.93 502.8 888.58 503.55 880.76 504.3 873.04 504.8 868.23 505.3 863.78 506.05 857.78 506.8 851.99 507.3 847.84 508.05 841.25 508.3 839.18 508.55 837.29 508.8 835.59 509.3 832.71 509.55 831.49 509.8 830.44 510.05 829.58 510.3 828.96 510.55 828.61 510.8 828.54 511.05 828.75 511.3 829.23 511.55 829.98 511.8 830.99 512.05 832.34 512.3 834.09 512.55 836.32 512.8 839.02 513.05 842.14 513.3 845.56 513.8 852.91 514.3 860.72 514.8 868.94 515.3 877.54 516.05 890.99 516.3 895.32 516.55 899.36 516.8 903.01 517.05 906.23 517.3 909.03 517.55 911.43 517.8 913.44 518.05 915.07 518.3 916.35 518.55 917.33 519.05 918.69 519.55 919.59 520.05 920.14 520.3 920.3 L520.3 920.5Z" class="fb"/>
<path d="M434.4 920.5L434.4 920.43 435.15 920.04 435.9 919.13 436.4 918.19 436.65 917.57 436.9 916.78 437.15 915.74 437.4 914.4 437.65 912.73 437.9 910.73 438.15 908.43 438.4 905.86 438.65 903.01 438.9 899.86 439.15 896.39 439.4 892.61 439.65 888.51 439.9 884.1 440.15 879.36 440.4 874.33 440.9 863.66 441.65 847.29 441.9 842.01 442.15 837.01 442.4 832.43 442.65 828.4 442.9 824.94 443.15 822.04 443.4 819.63 443.65 817.7 443.9 816.28 444.15 815.39 444.4 815.02 444.65 815.12 444.9 815.61 445.15 816.42 445.4 817.51 445.65 818.88 445.9 820.56 446.15 822.6 446.4 824.99 446.65 827.71 447.15 833.69 448.9 855.2 449.4 860.93 449.9 866.2 450.4 871.05 450.9 875.51 451.4 879.57 451.9 883.18 452.4 886.37 453.15 890.54 453.9 894.13 454.65 897.27 455.65 900.92 457.4 906.54 458.65 910.25 459.65 912.72 460.9 915.06 462.15 916.94 463.15 918.01 465.15 919.26 467.65 920.25 469.4 920.49 L469.4 920.5Z" class="fo"/>
<path d="M475.3 920.49 477.55 920.16 480.05 919.23 481.05 918.52 483.3 915.78 484.3 915.13 487.3 914.45 491.05 913.99 491.8 913.56 492.55 912.61 494.3 909.82 499.55 903.74 500.3 902.5 500.8 901.24 501.05 900.38 501.3 899.33 501.55 898.08 501.8 896.62 502.05 894.95 502.3 893.06 502.55 890.93 502.8 888.58 503.55 880.76 504.3 873.04 504.8 868.23 505.3 863.78 506.05 857.78 506.8 851.99 507.3 847.84 508.05 841.25 508.3 839.18 508.55 837.29 508.8 835.59 509.3 832.71 509.55 831.49 509.8 830.44 510.05 829.58 510.3 828.96 510.55 828.61 510.8 828.54 511.05 828.75 511.3 829.23 511.55 829.98 511.8 830.99 512.05 832.34 512.3 834.09 512.55 836.32 512.8 839.02 513.05 842.14 513.3 845.56 513.8 852.91 514.3 860.72 514.8 868.94 515.3 877.54 516.05 890.99 516.3 895.32 516.55 899.36 516.8 903.01 517.05 906.23 517.3 909.03 517.55 911.43 517.8 913.44 518.05 915.07 518.3 916.35 518.55 917.33 519.05 918.69 519.55 919.59 520.05 920.14 520.3 920.3" class="lb"/>
<path d="M434.4 920.43 435.15 920.04 435.9 919.13 436.4 918.19 436.65 917.57 436.9 916.78 437.15 915.74 437.4 914.4 437.65 912.73 437.9 910.73 438.15 908.43 438.4 905.86 438.65 903.01 438.9 899.86 439.15 896.39 439.4 892.61 439.65 888.51 439.9 884.1 440.15 879.36 440.4 874.33 440.9 863.66 441.65 847.29 441.9 842.01 442.15 837.01 442.4 832.43 442.65 828.4 442.9 824.94 443.15 822.04 443.4 819.63 443.65 817.7 443.9 816.28 444.15 815.39 444.4 815.02 444.65 815.12 444.9 815.61 445.15 816.42 445.4 817.51 445.65 818.88 445.9 820.56 446.15 822.6 446.4 824.99 446.65 827.71 447.15 833.69 448.9 855.2 449.4 860.93 449.9 866.2 450.4 871.05 450.9 875.51 451.4 879.57 451.9 883.18 452.4 886.37 453.15 890.54 453.9 894.13 454.65 897.27 455.65 900.92 457.4 906.54 458.65 910.25 459.65 912.72 460.9 915.06 462.15 916.94 463.15 918.01 465.15 919.26 467.65 920.25 469.4 920.49" class="lo"/>
<text class="m i" x="36.36" y="69.25" font-size="18.7" textLength="10.26" lengthAdjust="spacingAndGlyphs">D</text>
<text class="m" x="46.72" y="72.3" font-size="13.2" textLength="6.68" lengthAdjust="spacingAndGlyphs">1</text>
<text class="m i" x="38.03" y="221.18" font-size="18.7" textLength="11.46" lengthAdjust="spacingAndGlyphs">Q</text>
<text class="m" x="49.77" y="223.6" font-size="13.2" textLength="6.96" lengthAdjust="spacingAndGlyphs">1</text>
<text class="m i" x="38.04" y="372.88" font-size="18.7" textLength="11.35" lengthAdjust="spacingAndGlyphs">Q</text>
<text class="m" x="50.54" y="375.7" font-size="13.2" textLength="7.48" lengthAdjust="spacingAndGlyphs">2</text>
<text class="m i" x="34.64" y="524.58" font-size="18.7" textLength="11.24" lengthAdjust="spacingAndGlyphs">Q</text>
<text class="m" x="46.89" y="527.7" font-size="13.2" textLength="7.38" lengthAdjust="spacingAndGlyphs">3</text>
<text class="m i" x="40.62" y="747.78" font-size="18.7" textLength="11.57" lengthAdjust="spacingAndGlyphs">Q</text>
<text class="m" x="53.23" y="748.8" font-size="13.2" textLength="6.68" lengthAdjust="spacingAndGlyphs">4</text>
<text class="m i" x="40.32" y="895.28" font-size="18.7" textLength="11.57" lengthAdjust="spacingAndGlyphs">Q</text>
<text class="m" x="52.05" y="897.4" font-size="13.2" textLength="8.19" lengthAdjust="spacingAndGlyphs">5</text>
<text class="m i" x="160.96" y="642.75" font-size="18.7" textLength="10.36" lengthAdjust="spacingAndGlyphs">D</text>
<text class="m" x="171.42" y="645.7" font-size="13.2" textLength="7.24" lengthAdjust="spacingAndGlyphs">1</text>
<text class="m i" x="316.04" y="642.88" font-size="18.7" textLength="11.35" lengthAdjust="spacingAndGlyphs">Q</text>
<text class="m" x="327.73" y="645.5" font-size="13.2" textLength="7.24" lengthAdjust="spacingAndGlyphs">1</text>
<text class="m i" x="471.84" y="642.88" font-size="18.7" textLength="11.24" lengthAdjust="spacingAndGlyphs">Q</text>
<text class="m" x="484.27" y="645.5" font-size="13.2" textLength="7.11" lengthAdjust="spacingAndGlyphs">2</text>
<text class="m i" x="628.45" y="642.68" font-size="18.7" textLength="11.12" lengthAdjust="spacingAndGlyphs">Q</text>
<text class="m" x="640.64" y="645.7" font-size="13.2" textLength="6.9" lengthAdjust="spacingAndGlyphs">3</text>
<text class="m i" x="137.15" y="964.38" font-size="18.7" textLength="11.12" lengthAdjust="spacingAndGlyphs">Q</text>
<text class="m" x="149.43" y="967.3" font-size="13.2" textLength="6.68" lengthAdjust="spacingAndGlyphs">4</text>
<text class="m i" x="256.65" y="964.38" font-size="18.7" textLength="11.12" lengthAdjust="spacingAndGlyphs">Q</text>
<text class="m" x="268.71" y="967.5" font-size="13.2" textLength="6.82" lengthAdjust="spacingAndGlyphs">5</text>
<text class="m i" x="468.65" y="964.38" font-size="18.7" textLength="11.12" lengthAdjust="spacingAndGlyphs">Q</text>
<text class="m" x="480.71" y="967.5" font-size="13.2" textLength="6.91" lengthAdjust="spacingAndGlyphs">6</text>
<text class="m" x="-0.2" y="25.75" font-size="19">(a)</text>
<text class="m" x="-0.4" y="712.25" font-size="19">(b)</text>
<text class="m" x="373.0" y="794.35" font-size="19">(c)</text>
<text x="561.3" y="689.5" font-size="17" textLength="51.0" lengthAdjust="spacingAndGlyphs">phase</text>
<text x="576.4" y="714.0" font-size="17" textLength="64.0" lengthAdjust="spacingAndGlyphs">smectic</text>
<text x="576.0" y="737.8" font-size="17" textLength="67.3" lengthAdjust="spacingAndGlyphs">nematic</text>
<circle cx="546.5" cy="709.2" r="4.6" fill="#1f77b4" fill-opacity=".5"/>
<circle cx="546.5" cy="733.7" r="4.6" fill="#ff7f0e" fill-opacity=".5"/>
</svg>
</body></html>
